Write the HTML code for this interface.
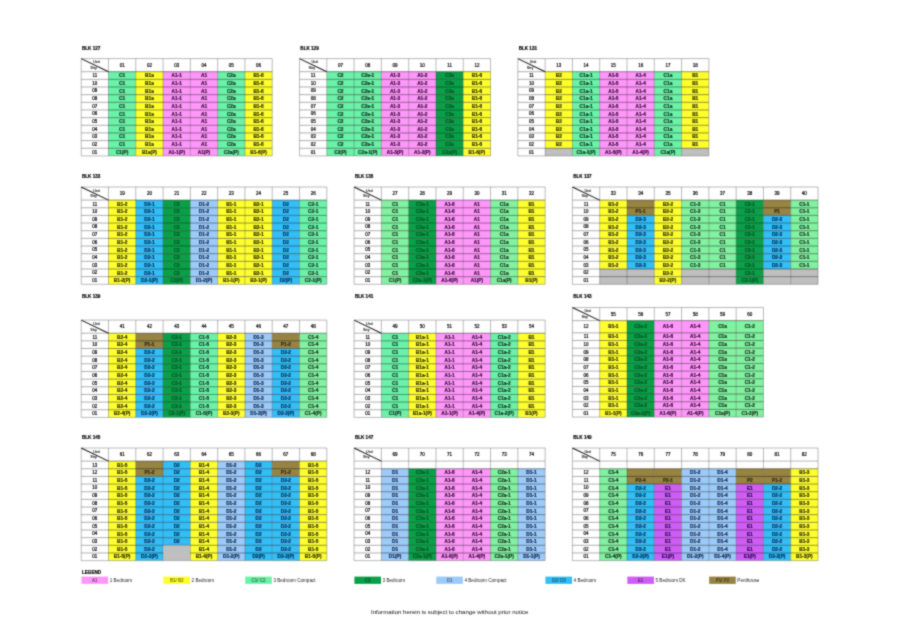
<!DOCTYPE html>
<html lang="en">
<head>
<meta charset="utf-8">
<title>Unit Distribution Chart</title>
<style>
html,body{margin:0;padding:0;background:#fff;}
body{width:900px;height:636px;position:relative;overflow:hidden;font-family:"Liberation Sans",Arial,sans-serif;color:#000;}
#chart{position:absolute;left:0;top:0;width:900px;height:636px;}
#chart text{font-family:"Liberation Sans",Arial,sans-serif;font-size:4.5px;text-anchor:middle;fill:#111;stroke:#000;stroke-width:0.2px;}
#chart text.s{font-size:3.7px;fill:#111;stroke-width:0.1px;}
#chart text.c{font-size:4.75px;font-weight:bold;fill:#000;stroke-width:0.22px;}
#chart text.g{fill:#153021;stroke:#153021;}
#chart text.h{fill:#193020;stroke:#193020;}
#chart text.y{fill:#333309;stroke:#333309;}
#chart text.p{fill:#3a0e3c;stroke:#3a0e3c;}
#chart text.k{fill:#055827;stroke:#055827;}
#chart text.b{fill:#04305e;stroke:#04305e;}
#chart text.l{fill:#12264e;stroke:#12264e;}
#chart text.n{fill:#342e17;stroke:#342e17;}
#chart text.u{fill:#2c0a5a;stroke:#2c0a5a;}
#chart text.t{font-size:4.6px;font-weight:bold;text-anchor:start;fill:#000;stroke:#000;stroke-width:0.18px;}
#chart text.lt{font-size:4.6px;text-anchor:start;fill:#222;stroke:none;}
#chart text.note{font-size:6.1px;fill:#111;stroke:none;}
#chart line{stroke:#111;stroke-width:0.45;}
#chart .v line{stroke:#333;stroke-width:0.32;}
#chart .h line{stroke:#666;stroke-width:0.45;}
#chart line.hl,#chart .v line.hl{stroke:#666;stroke-width:0.45;}
#chart line.ll{stroke:#3a3a3a;stroke-width:0.4;}
#chart line.d{stroke:#1a1a1a;stroke-width:1.05;}
</style>
</head>
<body>
<svg id="chart" width="900" height="636" viewBox="0 0 900 636">
<defs><filter id="soft" x="0" y="0" width="900" height="636" filterUnits="userSpaceOnUse" color-interpolation-filters="sRGB"><feConvolveMatrix order="3" kernelMatrix="0.4 1 0.4 1 4.4 1 0.4 1 0.4" divisor="10" edgeMode="duplicate" preserveAlpha="false"/></filter></defs>
<g filter="url(#soft)">
<g>
<rect x="108.49" y="71.7" width="27.29" height="7.66" fill="#6AF2A8"/>
<rect x="108.49" y="79.36" width="27.29" height="7.66" fill="#6AF2A8"/>
<rect x="108.49" y="87.01" width="27.29" height="7.66" fill="#6AF2A8"/>
<rect x="108.49" y="94.67" width="27.29" height="7.66" fill="#6AF2A8"/>
<rect x="108.49" y="102.32" width="27.29" height="7.66" fill="#6AF2A8"/>
<rect x="108.49" y="109.98" width="27.29" height="7.66" fill="#6AF2A8"/>
<rect x="108.49" y="117.63" width="27.29" height="7.66" fill="#6AF2A8"/>
<rect x="108.49" y="125.29" width="27.29" height="7.65" fill="#6AF2A8"/>
<rect x="108.49" y="132.94" width="27.29" height="7.66" fill="#6AF2A8"/>
<rect x="108.49" y="140.59" width="27.29" height="7.66" fill="#6AF2A8"/>
<rect x="108.49" y="148.25" width="27.29" height="7.66" fill="#6AF2A8"/>
<rect x="135.78" y="71.7" width="27.29" height="7.66" fill="#FFFF2E"/>
<rect x="135.78" y="79.36" width="27.29" height="7.66" fill="#FFFF2E"/>
<rect x="135.78" y="87.01" width="27.29" height="7.66" fill="#FFFF2E"/>
<rect x="135.78" y="94.67" width="27.29" height="7.66" fill="#FFFF2E"/>
<rect x="135.78" y="102.32" width="27.29" height="7.66" fill="#FFFF2E"/>
<rect x="135.78" y="109.98" width="27.29" height="7.66" fill="#FFFF2E"/>
<rect x="135.78" y="117.63" width="27.29" height="7.66" fill="#FFFF2E"/>
<rect x="135.78" y="125.29" width="27.29" height="7.65" fill="#FFFF2E"/>
<rect x="135.78" y="132.94" width="27.29" height="7.66" fill="#FFFF2E"/>
<rect x="135.78" y="140.59" width="27.29" height="7.66" fill="#FFFF2E"/>
<rect x="135.78" y="148.25" width="27.29" height="7.66" fill="#FFFF2E"/>
<rect x="163.07" y="71.7" width="27.29" height="7.66" fill="#FF96FA"/>
<rect x="163.07" y="79.36" width="27.29" height="7.66" fill="#FF96FA"/>
<rect x="163.07" y="87.01" width="27.29" height="7.66" fill="#FF96FA"/>
<rect x="163.07" y="94.67" width="27.29" height="7.66" fill="#FF96FA"/>
<rect x="163.07" y="102.32" width="27.29" height="7.66" fill="#FF96FA"/>
<rect x="163.07" y="109.98" width="27.29" height="7.66" fill="#FF96FA"/>
<rect x="163.07" y="117.63" width="27.29" height="7.66" fill="#FF96FA"/>
<rect x="163.07" y="125.29" width="27.29" height="7.65" fill="#FF96FA"/>
<rect x="163.07" y="132.94" width="27.29" height="7.66" fill="#FF96FA"/>
<rect x="163.07" y="140.59" width="27.29" height="7.66" fill="#FF96FA"/>
<rect x="163.07" y="148.25" width="27.29" height="7.66" fill="#FF96FA"/>
<rect x="190.36" y="71.7" width="27.29" height="7.66" fill="#FF96FA"/>
<rect x="190.36" y="79.36" width="27.29" height="7.66" fill="#FF96FA"/>
<rect x="190.36" y="87.01" width="27.29" height="7.66" fill="#FF96FA"/>
<rect x="190.36" y="94.67" width="27.29" height="7.66" fill="#FF96FA"/>
<rect x="190.36" y="102.32" width="27.29" height="7.66" fill="#FF96FA"/>
<rect x="190.36" y="109.98" width="27.29" height="7.66" fill="#FF96FA"/>
<rect x="190.36" y="117.63" width="27.29" height="7.66" fill="#FF96FA"/>
<rect x="190.36" y="125.29" width="27.29" height="7.65" fill="#FF96FA"/>
<rect x="190.36" y="132.94" width="27.29" height="7.66" fill="#FF96FA"/>
<rect x="190.36" y="140.59" width="27.29" height="7.66" fill="#FF96FA"/>
<rect x="190.36" y="148.25" width="27.29" height="7.66" fill="#FF96FA"/>
<rect x="217.65" y="71.7" width="27.29" height="7.66" fill="#6AF2A8"/>
<rect x="217.65" y="79.36" width="27.29" height="7.66" fill="#6AF2A8"/>
<rect x="217.65" y="87.01" width="27.29" height="7.66" fill="#6AF2A8"/>
<rect x="217.65" y="94.67" width="27.29" height="7.66" fill="#6AF2A8"/>
<rect x="217.65" y="102.32" width="27.29" height="7.66" fill="#6AF2A8"/>
<rect x="217.65" y="109.98" width="27.29" height="7.66" fill="#6AF2A8"/>
<rect x="217.65" y="117.63" width="27.29" height="7.66" fill="#6AF2A8"/>
<rect x="217.65" y="125.29" width="27.29" height="7.65" fill="#6AF2A8"/>
<rect x="217.65" y="132.94" width="27.29" height="7.66" fill="#6AF2A8"/>
<rect x="217.65" y="140.59" width="27.29" height="7.66" fill="#6AF2A8"/>
<rect x="217.65" y="148.25" width="27.29" height="7.66" fill="#6AF2A8"/>
<rect x="244.94" y="71.7" width="27.29" height="7.66" fill="#FFFF2E"/>
<rect x="244.94" y="79.36" width="27.29" height="7.66" fill="#FFFF2E"/>
<rect x="244.94" y="87.01" width="27.29" height="7.66" fill="#FFFF2E"/>
<rect x="244.94" y="94.67" width="27.29" height="7.66" fill="#FFFF2E"/>
<rect x="244.94" y="102.32" width="27.29" height="7.66" fill="#FFFF2E"/>
<rect x="244.94" y="109.98" width="27.29" height="7.66" fill="#FFFF2E"/>
<rect x="244.94" y="117.63" width="27.29" height="7.66" fill="#FFFF2E"/>
<rect x="244.94" y="125.29" width="27.29" height="7.65" fill="#FFFF2E"/>
<rect x="244.94" y="132.94" width="27.29" height="7.66" fill="#FFFF2E"/>
<rect x="244.94" y="140.59" width="27.29" height="7.66" fill="#FFFF2E"/>
<rect x="244.94" y="148.25" width="27.29" height="7.66" fill="#FFFF2E"/>
<line class="ll" x1="81.2" y1="71.7" x2="108.49" y2="71.7"/>
<line x1="108.49" y1="71.7" x2="272.23" y2="71.7"/>
<line class="ll" x1="81.2" y1="79.36" x2="108.49" y2="79.36"/>
<line x1="108.49" y1="79.36" x2="272.23" y2="79.36"/>
<line class="ll" x1="81.2" y1="87.01" x2="108.49" y2="87.01"/>
<line x1="108.49" y1="87.01" x2="272.23" y2="87.01"/>
<line class="ll" x1="81.2" y1="94.67" x2="108.49" y2="94.67"/>
<line x1="108.49" y1="94.67" x2="272.23" y2="94.67"/>
<line class="ll" x1="81.2" y1="102.32" x2="108.49" y2="102.32"/>
<line x1="108.49" y1="102.32" x2="272.23" y2="102.32"/>
<line class="ll" x1="81.2" y1="109.98" x2="108.49" y2="109.98"/>
<line x1="108.49" y1="109.98" x2="272.23" y2="109.98"/>
<line class="ll" x1="81.2" y1="117.63" x2="108.49" y2="117.63"/>
<line x1="108.49" y1="117.63" x2="272.23" y2="117.63"/>
<line class="ll" x1="81.2" y1="125.29" x2="108.49" y2="125.29"/>
<line x1="108.49" y1="125.29" x2="272.23" y2="125.29"/>
<line class="ll" x1="81.2" y1="132.94" x2="108.49" y2="132.94"/>
<line x1="108.49" y1="132.94" x2="272.23" y2="132.94"/>
<line class="ll" x1="81.2" y1="140.59" x2="108.49" y2="140.59"/>
<line x1="108.49" y1="140.59" x2="272.23" y2="140.59"/>
<line class="ll" x1="81.2" y1="148.25" x2="108.49" y2="148.25"/>
<line x1="108.49" y1="148.25" x2="272.23" y2="148.25"/>
<line class="hl" x1="81.2" y1="155.91" x2="272.23" y2="155.91"/>
<g class="v">
<line class="hl" x1="81.2" y1="71.7" x2="81.2" y2="155.91"/>
<line x1="108.49" y1="71.7" x2="108.49" y2="155.91"/>
<line x1="135.78" y1="71.7" x2="135.78" y2="155.91"/>
<line x1="163.07" y1="71.7" x2="163.07" y2="155.91"/>
<line x1="190.36" y1="71.7" x2="190.36" y2="155.91"/>
<line x1="217.65" y1="71.7" x2="217.65" y2="155.91"/>
<line x1="244.94" y1="71.7" x2="244.94" y2="155.91"/>
<line class="hl" x1="272.23" y1="71.7" x2="272.23" y2="155.91"/>
</g>
<g class="h">
<line x1="81.2" y1="58.6" x2="272.23" y2="58.6"/>
<line x1="81.2" y1="58.6" x2="81.2" y2="71.7"/>
<line x1="108.49" y1="58.6" x2="108.49" y2="71.7"/>
<line x1="135.78" y1="58.6" x2="135.78" y2="71.7"/>
<line x1="163.07" y1="58.6" x2="163.07" y2="71.7"/>
<line x1="190.36" y1="58.6" x2="190.36" y2="71.7"/>
<line x1="217.65" y1="58.6" x2="217.65" y2="71.7"/>
<line x1="244.94" y1="58.6" x2="244.94" y2="71.7"/>
<line x1="272.23" y1="58.6" x2="272.23" y2="71.7"/>
</g>
<line class="d" x1="81.2" y1="58.6" x2="108.49" y2="71.7"/>
<text class="s" x="96.48" y="63.4">Unit</text>
<text class="s" x="93.48" y="69">Stry</text>
<text x="122.14" y="66.75">01</text>
<text x="149.43" y="66.75">02</text>
<text x="176.72" y="66.75">03</text>
<text x="204" y="66.75">04</text>
<text x="231.3" y="66.75">05</text>
<text x="258.58" y="66.75">06</text>
<text x="94.84" y="77.13">11</text>
<text x="94.84" y="84.78">10</text>
<text x="94.84" y="92.44">09</text>
<text x="94.84" y="100.09">08</text>
<text x="94.84" y="107.75">07</text>
<text x="94.84" y="115.4">06</text>
<text x="94.84" y="123.06">05</text>
<text x="94.84" y="130.71">04</text>
<text x="94.84" y="138.37">03</text>
<text x="94.84" y="146.02">02</text>
<text x="94.84" y="153.68">01</text>
<text class="c g" x="122.14" y="77.23">C1</text>
<text class="c g" x="122.14" y="84.88">C1</text>
<text class="c g" x="122.14" y="92.54">C1</text>
<text class="c g" x="122.14" y="100.19">C1</text>
<text class="c g" x="122.14" y="107.85">C1</text>
<text class="c g" x="122.14" y="115.5">C1</text>
<text class="c g" x="122.14" y="123.16">C1</text>
<text class="c g" x="122.14" y="130.81">C1</text>
<text class="c g" x="122.14" y="138.47">C1</text>
<text class="c g" x="122.14" y="146.12">C1</text>
<text class="c g" x="122.14" y="153.78">C1(P)</text>
<text class="c y" x="149.43" y="77.23">B1a</text>
<text class="c y" x="149.43" y="84.88">B1a</text>
<text class="c y" x="149.43" y="92.54">B1a</text>
<text class="c y" x="149.43" y="100.19">B1a</text>
<text class="c y" x="149.43" y="107.85">B1a</text>
<text class="c y" x="149.43" y="115.5">B1a</text>
<text class="c y" x="149.43" y="123.16">B1a</text>
<text class="c y" x="149.43" y="130.81">B1a</text>
<text class="c y" x="149.43" y="138.47">B1a</text>
<text class="c y" x="149.43" y="146.12">B1a</text>
<text class="c y" x="149.43" y="153.78">B1a(P)</text>
<text class="c p" x="176.72" y="77.23">A1-1</text>
<text class="c p" x="176.72" y="84.88">A1-1</text>
<text class="c p" x="176.72" y="92.54">A1-1</text>
<text class="c p" x="176.72" y="100.19">A1-1</text>
<text class="c p" x="176.72" y="107.85">A1-1</text>
<text class="c p" x="176.72" y="115.5">A1-1</text>
<text class="c p" x="176.72" y="123.16">A1-1</text>
<text class="c p" x="176.72" y="130.81">A1-1</text>
<text class="c p" x="176.72" y="138.47">A1-1</text>
<text class="c p" x="176.72" y="146.12">A1-1</text>
<text class="c p" x="176.72" y="153.78">A1-1(P)</text>
<text class="c p" x="204" y="77.23">A1</text>
<text class="c p" x="204" y="84.88">A1</text>
<text class="c p" x="204" y="92.54">A1</text>
<text class="c p" x="204" y="100.19">A1</text>
<text class="c p" x="204" y="107.85">A1</text>
<text class="c p" x="204" y="115.5">A1</text>
<text class="c p" x="204" y="123.16">A1</text>
<text class="c p" x="204" y="130.81">A1</text>
<text class="c p" x="204" y="138.47">A1</text>
<text class="c p" x="204" y="146.12">A1</text>
<text class="c p" x="204" y="153.78">A1(P)</text>
<text class="c g" x="231.3" y="77.23">C2a</text>
<text class="c g" x="231.3" y="84.88">C2a</text>
<text class="c g" x="231.3" y="92.54">C2a</text>
<text class="c g" x="231.3" y="100.19">C2a</text>
<text class="c g" x="231.3" y="107.85">C2a</text>
<text class="c g" x="231.3" y="115.5">C2a</text>
<text class="c g" x="231.3" y="123.16">C2a</text>
<text class="c g" x="231.3" y="130.81">C2a</text>
<text class="c g" x="231.3" y="138.47">C2a</text>
<text class="c g" x="231.3" y="146.12">C2a</text>
<text class="c g" x="231.3" y="153.78">C2a(P)</text>
<text class="c y" x="258.58" y="77.23">B1-6</text>
<text class="c y" x="258.58" y="84.88">B1-6</text>
<text class="c y" x="258.58" y="92.54">B1-6</text>
<text class="c y" x="258.58" y="100.19">B1-6</text>
<text class="c y" x="258.58" y="107.85">B1-6</text>
<text class="c y" x="258.58" y="115.5">B1-6</text>
<text class="c y" x="258.58" y="123.16">B1-6</text>
<text class="c y" x="258.58" y="130.81">B1-6</text>
<text class="c y" x="258.58" y="138.47">B1-6</text>
<text class="c y" x="258.58" y="146.12">B1-6</text>
<text class="c y" x="258.58" y="153.78">B1-6(P)</text>
</g>
<text class="t" x="82" y="49.85">BLK 127</text>
<g>
<rect x="326.81" y="71.7" width="27.29" height="7.66" fill="#6AF2A8"/>
<rect x="326.81" y="79.36" width="27.29" height="7.66" fill="#6AF2A8"/>
<rect x="326.81" y="87.01" width="27.29" height="7.66" fill="#6AF2A8"/>
<rect x="326.81" y="94.67" width="27.29" height="7.66" fill="#6AF2A8"/>
<rect x="326.81" y="102.32" width="27.29" height="7.66" fill="#6AF2A8"/>
<rect x="326.81" y="109.98" width="27.29" height="7.66" fill="#6AF2A8"/>
<rect x="326.81" y="117.63" width="27.29" height="7.66" fill="#6AF2A8"/>
<rect x="326.81" y="125.29" width="27.29" height="7.65" fill="#6AF2A8"/>
<rect x="326.81" y="132.94" width="27.29" height="7.66" fill="#6AF2A8"/>
<rect x="326.81" y="140.59" width="27.29" height="7.66" fill="#6AF2A8"/>
<rect x="326.81" y="148.25" width="27.29" height="7.66" fill="#6AF2A8"/>
<rect x="354.1" y="71.7" width="27.29" height="7.66" fill="#6AF2A8"/>
<rect x="354.1" y="79.36" width="27.29" height="7.66" fill="#6AF2A8"/>
<rect x="354.1" y="87.01" width="27.29" height="7.66" fill="#6AF2A8"/>
<rect x="354.1" y="94.67" width="27.29" height="7.66" fill="#6AF2A8"/>
<rect x="354.1" y="102.32" width="27.29" height="7.66" fill="#6AF2A8"/>
<rect x="354.1" y="109.98" width="27.29" height="7.66" fill="#6AF2A8"/>
<rect x="354.1" y="117.63" width="27.29" height="7.66" fill="#6AF2A8"/>
<rect x="354.1" y="125.29" width="27.29" height="7.65" fill="#6AF2A8"/>
<rect x="354.1" y="132.94" width="27.29" height="7.66" fill="#6AF2A8"/>
<rect x="354.1" y="140.59" width="27.29" height="7.66" fill="#6AF2A8"/>
<rect x="354.1" y="148.25" width="27.29" height="7.66" fill="#6AF2A8"/>
<rect x="381.39" y="71.7" width="27.29" height="7.66" fill="#FF96FA"/>
<rect x="381.39" y="79.36" width="27.29" height="7.66" fill="#FF96FA"/>
<rect x="381.39" y="87.01" width="27.29" height="7.66" fill="#FF96FA"/>
<rect x="381.39" y="94.67" width="27.29" height="7.66" fill="#FF96FA"/>
<rect x="381.39" y="102.32" width="27.29" height="7.66" fill="#FF96FA"/>
<rect x="381.39" y="109.98" width="27.29" height="7.66" fill="#FF96FA"/>
<rect x="381.39" y="117.63" width="27.29" height="7.66" fill="#FF96FA"/>
<rect x="381.39" y="125.29" width="27.29" height="7.65" fill="#FF96FA"/>
<rect x="381.39" y="132.94" width="27.29" height="7.66" fill="#FF96FA"/>
<rect x="381.39" y="140.59" width="27.29" height="7.66" fill="#FF96FA"/>
<rect x="381.39" y="148.25" width="27.29" height="7.66" fill="#FF96FA"/>
<rect x="408.68" y="71.7" width="27.29" height="7.66" fill="#FF96FA"/>
<rect x="408.68" y="79.36" width="27.29" height="7.66" fill="#FF96FA"/>
<rect x="408.68" y="87.01" width="27.29" height="7.66" fill="#FF96FA"/>
<rect x="408.68" y="94.67" width="27.29" height="7.66" fill="#FF96FA"/>
<rect x="408.68" y="102.32" width="27.29" height="7.66" fill="#FF96FA"/>
<rect x="408.68" y="109.98" width="27.29" height="7.66" fill="#FF96FA"/>
<rect x="408.68" y="117.63" width="27.29" height="7.66" fill="#FF96FA"/>
<rect x="408.68" y="125.29" width="27.29" height="7.65" fill="#FF96FA"/>
<rect x="408.68" y="132.94" width="27.29" height="7.66" fill="#FF96FA"/>
<rect x="408.68" y="140.59" width="27.29" height="7.66" fill="#FF96FA"/>
<rect x="408.68" y="148.25" width="27.29" height="7.66" fill="#FF96FA"/>
<rect x="435.97" y="71.7" width="27.29" height="7.66" fill="#0AA048"/>
<rect x="435.97" y="79.36" width="27.29" height="7.66" fill="#0AA048"/>
<rect x="435.97" y="87.01" width="27.29" height="7.66" fill="#0AA048"/>
<rect x="435.97" y="94.67" width="27.29" height="7.66" fill="#0AA048"/>
<rect x="435.97" y="102.32" width="27.29" height="7.66" fill="#0AA048"/>
<rect x="435.97" y="109.98" width="27.29" height="7.66" fill="#0AA048"/>
<rect x="435.97" y="117.63" width="27.29" height="7.66" fill="#0AA048"/>
<rect x="435.97" y="125.29" width="27.29" height="7.65" fill="#0AA048"/>
<rect x="435.97" y="132.94" width="27.29" height="7.66" fill="#0AA048"/>
<rect x="435.97" y="140.59" width="27.29" height="7.66" fill="#0AA048"/>
<rect x="435.97" y="148.25" width="27.29" height="7.66" fill="#0AA048"/>
<rect x="463.26" y="71.7" width="27.29" height="7.66" fill="#FFFF2E"/>
<rect x="463.26" y="79.36" width="27.29" height="7.66" fill="#FFFF2E"/>
<rect x="463.26" y="87.01" width="27.29" height="7.66" fill="#FFFF2E"/>
<rect x="463.26" y="94.67" width="27.29" height="7.66" fill="#FFFF2E"/>
<rect x="463.26" y="102.32" width="27.29" height="7.66" fill="#FFFF2E"/>
<rect x="463.26" y="109.98" width="27.29" height="7.66" fill="#FFFF2E"/>
<rect x="463.26" y="117.63" width="27.29" height="7.66" fill="#FFFF2E"/>
<rect x="463.26" y="125.29" width="27.29" height="7.65" fill="#FFFF2E"/>
<rect x="463.26" y="132.94" width="27.29" height="7.66" fill="#FFFF2E"/>
<rect x="463.26" y="140.59" width="27.29" height="7.66" fill="#FFFF2E"/>
<rect x="463.26" y="148.25" width="27.29" height="7.66" fill="#FFFF2E"/>
<line class="ll" x1="299.52" y1="71.7" x2="326.81" y2="71.7"/>
<line x1="326.81" y1="71.7" x2="490.55" y2="71.7"/>
<line class="ll" x1="299.52" y1="79.36" x2="326.81" y2="79.36"/>
<line x1="326.81" y1="79.36" x2="490.55" y2="79.36"/>
<line class="ll" x1="299.52" y1="87.01" x2="326.81" y2="87.01"/>
<line x1="326.81" y1="87.01" x2="490.55" y2="87.01"/>
<line class="ll" x1="299.52" y1="94.67" x2="326.81" y2="94.67"/>
<line x1="326.81" y1="94.67" x2="490.55" y2="94.67"/>
<line class="ll" x1="299.52" y1="102.32" x2="326.81" y2="102.32"/>
<line x1="326.81" y1="102.32" x2="490.55" y2="102.32"/>
<line class="ll" x1="299.52" y1="109.98" x2="326.81" y2="109.98"/>
<line x1="326.81" y1="109.98" x2="490.55" y2="109.98"/>
<line class="ll" x1="299.52" y1="117.63" x2="326.81" y2="117.63"/>
<line x1="326.81" y1="117.63" x2="490.55" y2="117.63"/>
<line class="ll" x1="299.52" y1="125.29" x2="326.81" y2="125.29"/>
<line x1="326.81" y1="125.29" x2="490.55" y2="125.29"/>
<line class="ll" x1="299.52" y1="132.94" x2="326.81" y2="132.94"/>
<line x1="326.81" y1="132.94" x2="490.55" y2="132.94"/>
<line class="ll" x1="299.52" y1="140.59" x2="326.81" y2="140.59"/>
<line x1="326.81" y1="140.59" x2="490.55" y2="140.59"/>
<line class="ll" x1="299.52" y1="148.25" x2="326.81" y2="148.25"/>
<line x1="326.81" y1="148.25" x2="490.55" y2="148.25"/>
<line class="hl" x1="299.52" y1="155.91" x2="490.55" y2="155.91"/>
<g class="v">
<line class="hl" x1="299.52" y1="71.7" x2="299.52" y2="155.91"/>
<line x1="326.81" y1="71.7" x2="326.81" y2="155.91"/>
<line x1="354.1" y1="71.7" x2="354.1" y2="155.91"/>
<line x1="381.39" y1="71.7" x2="381.39" y2="155.91"/>
<line x1="408.68" y1="71.7" x2="408.68" y2="155.91"/>
<line x1="435.97" y1="71.7" x2="435.97" y2="155.91"/>
<line x1="463.26" y1="71.7" x2="463.26" y2="155.91"/>
<line class="hl" x1="490.55" y1="71.7" x2="490.55" y2="155.91"/>
</g>
<g class="h">
<line x1="299.52" y1="58.6" x2="490.55" y2="58.6"/>
<line x1="299.52" y1="58.6" x2="299.52" y2="71.7"/>
<line x1="326.81" y1="58.6" x2="326.81" y2="71.7"/>
<line x1="354.1" y1="58.6" x2="354.1" y2="71.7"/>
<line x1="381.39" y1="58.6" x2="381.39" y2="71.7"/>
<line x1="408.68" y1="58.6" x2="408.68" y2="71.7"/>
<line x1="435.97" y1="58.6" x2="435.97" y2="71.7"/>
<line x1="463.26" y1="58.6" x2="463.26" y2="71.7"/>
<line x1="490.55" y1="58.6" x2="490.55" y2="71.7"/>
</g>
<line class="d" x1="299.52" y1="58.6" x2="326.81" y2="71.7"/>
<text class="s" x="314.8" y="63.4">Unit</text>
<text class="s" x="311.8" y="69">Stry</text>
<text x="340.45" y="66.75">07</text>
<text x="367.75" y="66.75">08</text>
<text x="395.03" y="66.75">09</text>
<text x="422.32" y="66.75">10</text>
<text x="449.62" y="66.75">11</text>
<text x="476.9" y="66.75">12</text>
<text x="313.16" y="77.13">11</text>
<text x="313.16" y="84.78">10</text>
<text x="313.16" y="92.44">09</text>
<text x="313.16" y="100.09">08</text>
<text x="313.16" y="107.75">07</text>
<text x="313.16" y="115.4">06</text>
<text x="313.16" y="123.06">05</text>
<text x="313.16" y="130.71">04</text>
<text x="313.16" y="138.37">03</text>
<text x="313.16" y="146.02">02</text>
<text x="313.16" y="153.68">01</text>
<text class="c g" x="340.45" y="77.23">C2</text>
<text class="c g" x="340.45" y="84.88">C2</text>
<text class="c g" x="340.45" y="92.54">C2</text>
<text class="c g" x="340.45" y="100.19">C2</text>
<text class="c g" x="340.45" y="107.85">C2</text>
<text class="c g" x="340.45" y="115.5">C2</text>
<text class="c g" x="340.45" y="123.16">C2</text>
<text class="c g" x="340.45" y="130.81">C2</text>
<text class="c g" x="340.45" y="138.47">C2</text>
<text class="c g" x="340.45" y="146.12">C2</text>
<text class="c g" x="340.45" y="153.78">C2(P)</text>
<text class="c g" x="367.75" y="77.23">C2a-1</text>
<text class="c g" x="367.75" y="84.88">C2a-1</text>
<text class="c g" x="367.75" y="92.54">C2a-1</text>
<text class="c g" x="367.75" y="100.19">C2a-1</text>
<text class="c g" x="367.75" y="107.85">C2a-1</text>
<text class="c g" x="367.75" y="115.5">C2a-1</text>
<text class="c g" x="367.75" y="123.16">C2a-1</text>
<text class="c g" x="367.75" y="130.81">C2a-1</text>
<text class="c g" x="367.75" y="138.47">C2a-1</text>
<text class="c g" x="367.75" y="146.12">C2a-1</text>
<text class="c g" x="367.75" y="153.78">C2a-1(P)</text>
<text class="c p" x="395.03" y="77.23">A1-3</text>
<text class="c p" x="395.03" y="84.88">A1-3</text>
<text class="c p" x="395.03" y="92.54">A1-3</text>
<text class="c p" x="395.03" y="100.19">A1-3</text>
<text class="c p" x="395.03" y="107.85">A1-3</text>
<text class="c p" x="395.03" y="115.5">A1-3</text>
<text class="c p" x="395.03" y="123.16">A1-3</text>
<text class="c p" x="395.03" y="130.81">A1-3</text>
<text class="c p" x="395.03" y="138.47">A1-3</text>
<text class="c p" x="395.03" y="146.12">A1-3</text>
<text class="c p" x="395.03" y="153.78">A1-3(P)</text>
<text class="c p" x="422.32" y="77.23">A1-2</text>
<text class="c p" x="422.32" y="84.88">A1-2</text>
<text class="c p" x="422.32" y="92.54">A1-2</text>
<text class="c p" x="422.32" y="100.19">A1-2</text>
<text class="c p" x="422.32" y="107.85">A1-2</text>
<text class="c p" x="422.32" y="115.5">A1-2</text>
<text class="c p" x="422.32" y="123.16">A1-2</text>
<text class="c p" x="422.32" y="130.81">A1-2</text>
<text class="c p" x="422.32" y="138.47">A1-2</text>
<text class="c p" x="422.32" y="146.12">A1-2</text>
<text class="c p" x="422.32" y="153.78">A1-2(P)</text>
<text class="c k" x="449.62" y="77.23">C3a</text>
<text class="c k" x="449.62" y="84.88">C3a</text>
<text class="c k" x="449.62" y="92.54">C3a</text>
<text class="c k" x="449.62" y="100.19">C3a</text>
<text class="c k" x="449.62" y="107.85">C3a</text>
<text class="c k" x="449.62" y="115.5">C3a</text>
<text class="c k" x="449.62" y="123.16">C3a</text>
<text class="c k" x="449.62" y="130.81">C3a</text>
<text class="c k" x="449.62" y="138.47">C3a</text>
<text class="c k" x="449.62" y="146.12">C3a</text>
<text class="c k" x="449.62" y="153.78">C3a(P)</text>
<text class="c y" x="476.9" y="77.23">B1-6</text>
<text class="c y" x="476.9" y="84.88">B1-6</text>
<text class="c y" x="476.9" y="92.54">B1-6</text>
<text class="c y" x="476.9" y="100.19">B1-6</text>
<text class="c y" x="476.9" y="107.85">B1-6</text>
<text class="c y" x="476.9" y="115.5">B1-6</text>
<text class="c y" x="476.9" y="123.16">B1-6</text>
<text class="c y" x="476.9" y="130.81">B1-6</text>
<text class="c y" x="476.9" y="138.47">B1-6</text>
<text class="c y" x="476.9" y="146.12">B1-6</text>
<text class="c y" x="476.9" y="153.78">B1-6(P)</text>
</g>
<text class="t" x="300.32" y="49.85">BLK 129</text>
<g>
<rect x="545.13" y="71.7" width="27.29" height="7.66" fill="#FFFF2E"/>
<rect x="545.13" y="79.36" width="27.29" height="7.66" fill="#FFFF2E"/>
<rect x="545.13" y="87.01" width="27.29" height="7.66" fill="#FFFF2E"/>
<rect x="545.13" y="94.67" width="27.29" height="7.66" fill="#FFFF2E"/>
<rect x="545.13" y="102.32" width="27.29" height="7.66" fill="#FFFF2E"/>
<rect x="545.13" y="109.98" width="27.29" height="7.66" fill="#FFFF2E"/>
<rect x="545.13" y="117.63" width="27.29" height="7.66" fill="#FFFF2E"/>
<rect x="545.13" y="125.29" width="27.29" height="7.65" fill="#FFFF2E"/>
<rect x="545.13" y="132.94" width="27.29" height="7.66" fill="#FFFF2E"/>
<rect x="545.13" y="140.59" width="27.29" height="7.66" fill="#FFFF2E"/>
<rect x="545.13" y="148.25" width="27.29" height="7.66" fill="#BFBFBF"/>
<rect x="572.42" y="71.7" width="27.29" height="7.66" fill="#6AF2A8"/>
<rect x="572.42" y="79.36" width="27.29" height="7.66" fill="#6AF2A8"/>
<rect x="572.42" y="87.01" width="27.29" height="7.66" fill="#6AF2A8"/>
<rect x="572.42" y="94.67" width="27.29" height="7.66" fill="#6AF2A8"/>
<rect x="572.42" y="102.32" width="27.29" height="7.66" fill="#6AF2A8"/>
<rect x="572.42" y="109.98" width="27.29" height="7.66" fill="#6AF2A8"/>
<rect x="572.42" y="117.63" width="27.29" height="7.66" fill="#6AF2A8"/>
<rect x="572.42" y="125.29" width="27.29" height="7.65" fill="#6AF2A8"/>
<rect x="572.42" y="132.94" width="27.29" height="7.66" fill="#6AF2A8"/>
<rect x="572.42" y="140.59" width="27.29" height="7.66" fill="#6AF2A8"/>
<rect x="572.42" y="148.25" width="27.29" height="7.66" fill="#6AF2A8"/>
<rect x="599.71" y="71.7" width="27.29" height="7.66" fill="#FF96FA"/>
<rect x="599.71" y="79.36" width="27.29" height="7.66" fill="#FF96FA"/>
<rect x="599.71" y="87.01" width="27.29" height="7.66" fill="#FF96FA"/>
<rect x="599.71" y="94.67" width="27.29" height="7.66" fill="#FF96FA"/>
<rect x="599.71" y="102.32" width="27.29" height="7.66" fill="#FF96FA"/>
<rect x="599.71" y="109.98" width="27.29" height="7.66" fill="#FF96FA"/>
<rect x="599.71" y="117.63" width="27.29" height="7.66" fill="#FF96FA"/>
<rect x="599.71" y="125.29" width="27.29" height="7.65" fill="#FF96FA"/>
<rect x="599.71" y="132.94" width="27.29" height="7.66" fill="#FF96FA"/>
<rect x="599.71" y="140.59" width="27.29" height="7.66" fill="#FF96FA"/>
<rect x="599.71" y="148.25" width="27.29" height="7.66" fill="#FF96FA"/>
<rect x="627" y="71.7" width="27.29" height="7.66" fill="#FF96FA"/>
<rect x="627" y="79.36" width="27.29" height="7.66" fill="#FF96FA"/>
<rect x="627" y="87.01" width="27.29" height="7.66" fill="#FF96FA"/>
<rect x="627" y="94.67" width="27.29" height="7.66" fill="#FF96FA"/>
<rect x="627" y="102.32" width="27.29" height="7.66" fill="#FF96FA"/>
<rect x="627" y="109.98" width="27.29" height="7.66" fill="#FF96FA"/>
<rect x="627" y="117.63" width="27.29" height="7.66" fill="#FF96FA"/>
<rect x="627" y="125.29" width="27.29" height="7.65" fill="#FF96FA"/>
<rect x="627" y="132.94" width="27.29" height="7.66" fill="#FF96FA"/>
<rect x="627" y="140.59" width="27.29" height="7.66" fill="#FF96FA"/>
<rect x="627" y="148.25" width="27.29" height="7.66" fill="#FF96FA"/>
<rect x="654.29" y="71.7" width="27.29" height="7.66" fill="#6AF2A8"/>
<rect x="654.29" y="79.36" width="27.29" height="7.66" fill="#6AF2A8"/>
<rect x="654.29" y="87.01" width="27.29" height="7.66" fill="#6AF2A8"/>
<rect x="654.29" y="94.67" width="27.29" height="7.66" fill="#6AF2A8"/>
<rect x="654.29" y="102.32" width="27.29" height="7.66" fill="#6AF2A8"/>
<rect x="654.29" y="109.98" width="27.29" height="7.66" fill="#6AF2A8"/>
<rect x="654.29" y="117.63" width="27.29" height="7.66" fill="#6AF2A8"/>
<rect x="654.29" y="125.29" width="27.29" height="7.65" fill="#6AF2A8"/>
<rect x="654.29" y="132.94" width="27.29" height="7.66" fill="#6AF2A8"/>
<rect x="654.29" y="140.59" width="27.29" height="7.66" fill="#6AF2A8"/>
<rect x="654.29" y="148.25" width="27.29" height="7.66" fill="#6AF2A8"/>
<rect x="681.58" y="71.7" width="27.29" height="7.66" fill="#FFFF2E"/>
<rect x="681.58" y="79.36" width="27.29" height="7.66" fill="#FFFF2E"/>
<rect x="681.58" y="87.01" width="27.29" height="7.66" fill="#FFFF2E"/>
<rect x="681.58" y="94.67" width="27.29" height="7.66" fill="#FFFF2E"/>
<rect x="681.58" y="102.32" width="27.29" height="7.66" fill="#FFFF2E"/>
<rect x="681.58" y="109.98" width="27.29" height="7.66" fill="#FFFF2E"/>
<rect x="681.58" y="117.63" width="27.29" height="7.66" fill="#FFFF2E"/>
<rect x="681.58" y="125.29" width="27.29" height="7.65" fill="#FFFF2E"/>
<rect x="681.58" y="132.94" width="27.29" height="7.66" fill="#FFFF2E"/>
<rect x="681.58" y="140.59" width="27.29" height="7.66" fill="#FFFF2E"/>
<rect x="681.58" y="148.25" width="27.29" height="7.66" fill="#BFBFBF"/>
<line class="ll" x1="517.84" y1="71.7" x2="545.13" y2="71.7"/>
<line x1="545.13" y1="71.7" x2="708.87" y2="71.7"/>
<line class="ll" x1="517.84" y1="79.36" x2="545.13" y2="79.36"/>
<line x1="545.13" y1="79.36" x2="708.87" y2="79.36"/>
<line class="ll" x1="517.84" y1="87.01" x2="545.13" y2="87.01"/>
<line x1="545.13" y1="87.01" x2="708.87" y2="87.01"/>
<line class="ll" x1="517.84" y1="94.67" x2="545.13" y2="94.67"/>
<line x1="545.13" y1="94.67" x2="708.87" y2="94.67"/>
<line class="ll" x1="517.84" y1="102.32" x2="545.13" y2="102.32"/>
<line x1="545.13" y1="102.32" x2="708.87" y2="102.32"/>
<line class="ll" x1="517.84" y1="109.98" x2="545.13" y2="109.98"/>
<line x1="545.13" y1="109.98" x2="708.87" y2="109.98"/>
<line class="ll" x1="517.84" y1="117.63" x2="545.13" y2="117.63"/>
<line x1="545.13" y1="117.63" x2="708.87" y2="117.63"/>
<line class="ll" x1="517.84" y1="125.29" x2="545.13" y2="125.29"/>
<line x1="545.13" y1="125.29" x2="708.87" y2="125.29"/>
<line class="ll" x1="517.84" y1="132.94" x2="545.13" y2="132.94"/>
<line x1="545.13" y1="132.94" x2="708.87" y2="132.94"/>
<line class="ll" x1="517.84" y1="140.59" x2="545.13" y2="140.59"/>
<line x1="545.13" y1="140.59" x2="708.87" y2="140.59"/>
<line class="ll" x1="517.84" y1="148.25" x2="545.13" y2="148.25"/>
<line x1="545.13" y1="148.25" x2="708.87" y2="148.25"/>
<line class="hl" x1="517.84" y1="155.91" x2="708.87" y2="155.91"/>
<g class="v">
<line class="hl" x1="517.84" y1="71.7" x2="517.84" y2="155.91"/>
<line x1="545.13" y1="71.7" x2="545.13" y2="155.91"/>
<line x1="572.42" y1="71.7" x2="572.42" y2="155.91"/>
<line x1="599.71" y1="71.7" x2="599.71" y2="155.91"/>
<line x1="627" y1="71.7" x2="627" y2="155.91"/>
<line x1="654.29" y1="71.7" x2="654.29" y2="155.91"/>
<line x1="681.58" y1="71.7" x2="681.58" y2="155.91"/>
<line class="hl" x1="708.87" y1="71.7" x2="708.87" y2="155.91"/>
</g>
<g class="h">
<line x1="517.84" y1="58.6" x2="708.87" y2="58.6"/>
<line x1="517.84" y1="58.6" x2="517.84" y2="71.7"/>
<line x1="545.13" y1="58.6" x2="545.13" y2="71.7"/>
<line x1="572.42" y1="58.6" x2="572.42" y2="71.7"/>
<line x1="599.71" y1="58.6" x2="599.71" y2="71.7"/>
<line x1="627" y1="58.6" x2="627" y2="71.7"/>
<line x1="654.29" y1="58.6" x2="654.29" y2="71.7"/>
<line x1="681.58" y1="58.6" x2="681.58" y2="71.7"/>
<line x1="708.87" y1="58.6" x2="708.87" y2="71.7"/>
</g>
<line class="d" x1="517.84" y1="58.6" x2="545.13" y2="71.7"/>
<text class="s" x="533.12" y="63.4">Unit</text>
<text class="s" x="530.12" y="69">Stry</text>
<text x="558.78" y="66.75">13</text>
<text x="586.07" y="66.75">14</text>
<text x="613.36" y="66.75">15</text>
<text x="640.64" y="66.75">16</text>
<text x="667.94" y="66.75">17</text>
<text x="695.23" y="66.75">18</text>
<text x="531.49" y="77.13">11</text>
<text x="531.49" y="84.78">10</text>
<text x="531.49" y="92.44">09</text>
<text x="531.49" y="100.09">08</text>
<text x="531.49" y="107.75">07</text>
<text x="531.49" y="115.4">06</text>
<text x="531.49" y="123.06">05</text>
<text x="531.49" y="130.71">04</text>
<text x="531.49" y="138.37">03</text>
<text x="531.49" y="146.02">02</text>
<text x="531.49" y="153.68">01</text>
<text class="c y" x="558.78" y="77.23">B2</text>
<text class="c y" x="558.78" y="84.88">B2</text>
<text class="c y" x="558.78" y="92.54">B2</text>
<text class="c y" x="558.78" y="100.19">B2</text>
<text class="c y" x="558.78" y="107.85">B2</text>
<text class="c y" x="558.78" y="115.5">B2</text>
<text class="c y" x="558.78" y="123.16">B2</text>
<text class="c y" x="558.78" y="130.81">B2</text>
<text class="c y" x="558.78" y="138.47">B2</text>
<text class="c y" x="558.78" y="146.12">B2</text>
<text class="c g" x="586.07" y="77.23">C1a-1</text>
<text class="c g" x="586.07" y="84.88">C1a-1</text>
<text class="c g" x="586.07" y="92.54">C1a-1</text>
<text class="c g" x="586.07" y="100.19">C1a-1</text>
<text class="c g" x="586.07" y="107.85">C1a-1</text>
<text class="c g" x="586.07" y="115.5">C1a-1</text>
<text class="c g" x="586.07" y="123.16">C1a-1</text>
<text class="c g" x="586.07" y="130.81">C1a-1</text>
<text class="c g" x="586.07" y="138.47">C1a-1</text>
<text class="c g" x="586.07" y="146.12">C1a-1</text>
<text class="c g" x="586.07" y="153.78">C1a-1(P)</text>
<text class="c p" x="613.36" y="77.23">A1-5</text>
<text class="c p" x="613.36" y="84.88">A1-5</text>
<text class="c p" x="613.36" y="92.54">A1-5</text>
<text class="c p" x="613.36" y="100.19">A1-5</text>
<text class="c p" x="613.36" y="107.85">A1-5</text>
<text class="c p" x="613.36" y="115.5">A1-5</text>
<text class="c p" x="613.36" y="123.16">A1-5</text>
<text class="c p" x="613.36" y="130.81">A1-5</text>
<text class="c p" x="613.36" y="138.47">A1-5</text>
<text class="c p" x="613.36" y="146.12">A1-5</text>
<text class="c p" x="613.36" y="153.78">A1-5(P)</text>
<text class="c p" x="640.64" y="77.23">A1-4</text>
<text class="c p" x="640.64" y="84.88">A1-4</text>
<text class="c p" x="640.64" y="92.54">A1-4</text>
<text class="c p" x="640.64" y="100.19">A1-4</text>
<text class="c p" x="640.64" y="107.85">A1-4</text>
<text class="c p" x="640.64" y="115.5">A1-4</text>
<text class="c p" x="640.64" y="123.16">A1-4</text>
<text class="c p" x="640.64" y="130.81">A1-4</text>
<text class="c p" x="640.64" y="138.47">A1-4</text>
<text class="c p" x="640.64" y="146.12">A1-4</text>
<text class="c p" x="640.64" y="153.78">A1-4(P)</text>
<text class="c g" x="667.94" y="77.23">C1a</text>
<text class="c g" x="667.94" y="84.88">C1a</text>
<text class="c g" x="667.94" y="92.54">C1a</text>
<text class="c g" x="667.94" y="100.19">C1a</text>
<text class="c g" x="667.94" y="107.85">C1a</text>
<text class="c g" x="667.94" y="115.5">C1a</text>
<text class="c g" x="667.94" y="123.16">C1a</text>
<text class="c g" x="667.94" y="130.81">C1a</text>
<text class="c g" x="667.94" y="138.47">C1a</text>
<text class="c g" x="667.94" y="146.12">C1a</text>
<text class="c g" x="667.94" y="153.78">C1a(P)</text>
<text class="c y" x="695.23" y="77.23">B1</text>
<text class="c y" x="695.23" y="84.88">B1</text>
<text class="c y" x="695.23" y="92.54">B1</text>
<text class="c y" x="695.23" y="100.19">B1</text>
<text class="c y" x="695.23" y="107.85">B1</text>
<text class="c y" x="695.23" y="115.5">B1</text>
<text class="c y" x="695.23" y="123.16">B1</text>
<text class="c y" x="695.23" y="130.81">B1</text>
<text class="c y" x="695.23" y="138.47">B1</text>
<text class="c y" x="695.23" y="146.12">B1</text>
</g>
<text class="t" x="518.64" y="49.85">BLK 131</text>
<g>
<rect x="108.49" y="200.1" width="27.29" height="7.66" fill="#FFFF2E"/>
<rect x="108.49" y="207.75" width="27.29" height="7.66" fill="#FFFF2E"/>
<rect x="108.49" y="215.41" width="27.29" height="7.66" fill="#FFFF2E"/>
<rect x="108.49" y="223.06" width="27.29" height="7.66" fill="#FFFF2E"/>
<rect x="108.49" y="230.72" width="27.29" height="7.66" fill="#FFFF2E"/>
<rect x="108.49" y="238.38" width="27.29" height="7.66" fill="#FFFF2E"/>
<rect x="108.49" y="246.03" width="27.29" height="7.66" fill="#FFFF2E"/>
<rect x="108.49" y="253.69" width="27.29" height="7.65" fill="#FFFF2E"/>
<rect x="108.49" y="261.34" width="27.29" height="7.65" fill="#FFFF2E"/>
<rect x="108.49" y="268.99" width="27.29" height="7.65" fill="#FFFF2E"/>
<rect x="108.49" y="276.65" width="27.29" height="7.65" fill="#FFFF2E"/>
<rect x="135.78" y="200.1" width="27.29" height="7.66" fill="#32BEF7"/>
<rect x="135.78" y="207.75" width="27.29" height="7.66" fill="#32BEF7"/>
<rect x="135.78" y="215.41" width="27.29" height="7.66" fill="#32BEF7"/>
<rect x="135.78" y="223.06" width="27.29" height="7.66" fill="#32BEF7"/>
<rect x="135.78" y="230.72" width="27.29" height="7.66" fill="#32BEF7"/>
<rect x="135.78" y="238.38" width="27.29" height="7.66" fill="#32BEF7"/>
<rect x="135.78" y="246.03" width="27.29" height="7.66" fill="#32BEF7"/>
<rect x="135.78" y="253.69" width="27.29" height="7.65" fill="#32BEF7"/>
<rect x="135.78" y="261.34" width="27.29" height="7.65" fill="#32BEF7"/>
<rect x="135.78" y="268.99" width="27.29" height="7.65" fill="#32BEF7"/>
<rect x="135.78" y="276.65" width="27.29" height="7.65" fill="#32BEF7"/>
<rect x="163.07" y="200.1" width="27.29" height="7.66" fill="#0AA048"/>
<rect x="163.07" y="207.75" width="27.29" height="7.66" fill="#0AA048"/>
<rect x="163.07" y="215.41" width="27.29" height="7.66" fill="#0AA048"/>
<rect x="163.07" y="223.06" width="27.29" height="7.66" fill="#0AA048"/>
<rect x="163.07" y="230.72" width="27.29" height="7.66" fill="#0AA048"/>
<rect x="163.07" y="238.38" width="27.29" height="7.66" fill="#0AA048"/>
<rect x="163.07" y="246.03" width="27.29" height="7.66" fill="#0AA048"/>
<rect x="163.07" y="253.69" width="27.29" height="7.65" fill="#0AA048"/>
<rect x="163.07" y="261.34" width="27.29" height="7.65" fill="#0AA048"/>
<rect x="163.07" y="268.99" width="27.29" height="7.65" fill="#0AA048"/>
<rect x="163.07" y="276.65" width="27.29" height="7.65" fill="#0AA048"/>
<rect x="190.36" y="200.1" width="27.29" height="7.66" fill="#9CCBFA"/>
<rect x="190.36" y="207.75" width="27.29" height="7.66" fill="#9CCBFA"/>
<rect x="190.36" y="215.41" width="27.29" height="7.66" fill="#9CCBFA"/>
<rect x="190.36" y="223.06" width="27.29" height="7.66" fill="#9CCBFA"/>
<rect x="190.36" y="230.72" width="27.29" height="7.66" fill="#9CCBFA"/>
<rect x="190.36" y="238.38" width="27.29" height="7.66" fill="#9CCBFA"/>
<rect x="190.36" y="246.03" width="27.29" height="7.66" fill="#9CCBFA"/>
<rect x="190.36" y="253.69" width="27.29" height="7.65" fill="#9CCBFA"/>
<rect x="190.36" y="261.34" width="27.29" height="7.65" fill="#9CCBFA"/>
<rect x="190.36" y="268.99" width="27.29" height="7.65" fill="#9CCBFA"/>
<rect x="190.36" y="276.65" width="27.29" height="7.65" fill="#9CCBFA"/>
<rect x="217.65" y="200.1" width="27.29" height="7.66" fill="#FFFF2E"/>
<rect x="217.65" y="207.75" width="27.29" height="7.66" fill="#FFFF2E"/>
<rect x="217.65" y="215.41" width="27.29" height="7.66" fill="#FFFF2E"/>
<rect x="217.65" y="223.06" width="27.29" height="7.66" fill="#FFFF2E"/>
<rect x="217.65" y="230.72" width="27.29" height="7.66" fill="#FFFF2E"/>
<rect x="217.65" y="238.38" width="27.29" height="7.66" fill="#FFFF2E"/>
<rect x="217.65" y="246.03" width="27.29" height="7.66" fill="#FFFF2E"/>
<rect x="217.65" y="253.69" width="27.29" height="7.65" fill="#FFFF2E"/>
<rect x="217.65" y="261.34" width="27.29" height="7.65" fill="#FFFF2E"/>
<rect x="217.65" y="268.99" width="27.29" height="7.65" fill="#FFFF2E"/>
<rect x="217.65" y="276.65" width="27.29" height="7.65" fill="#FFFF2E"/>
<rect x="244.94" y="200.1" width="27.29" height="7.66" fill="#FFFF2E"/>
<rect x="244.94" y="207.75" width="27.29" height="7.66" fill="#FFFF2E"/>
<rect x="244.94" y="215.41" width="27.29" height="7.66" fill="#FFFF2E"/>
<rect x="244.94" y="223.06" width="27.29" height="7.66" fill="#FFFF2E"/>
<rect x="244.94" y="230.72" width="27.29" height="7.66" fill="#FFFF2E"/>
<rect x="244.94" y="238.38" width="27.29" height="7.66" fill="#FFFF2E"/>
<rect x="244.94" y="246.03" width="27.29" height="7.66" fill="#FFFF2E"/>
<rect x="244.94" y="253.69" width="27.29" height="7.65" fill="#FFFF2E"/>
<rect x="244.94" y="261.34" width="27.29" height="7.65" fill="#FFFF2E"/>
<rect x="244.94" y="268.99" width="27.29" height="7.65" fill="#FFFF2E"/>
<rect x="244.94" y="276.65" width="27.29" height="7.65" fill="#FFFF2E"/>
<rect x="272.23" y="200.1" width="27.29" height="7.66" fill="#32BEF7"/>
<rect x="272.23" y="207.75" width="27.29" height="7.66" fill="#32BEF7"/>
<rect x="272.23" y="215.41" width="27.29" height="7.66" fill="#32BEF7"/>
<rect x="272.23" y="223.06" width="27.29" height="7.66" fill="#32BEF7"/>
<rect x="272.23" y="230.72" width="27.29" height="7.66" fill="#32BEF7"/>
<rect x="272.23" y="238.38" width="27.29" height="7.66" fill="#32BEF7"/>
<rect x="272.23" y="246.03" width="27.29" height="7.66" fill="#32BEF7"/>
<rect x="272.23" y="253.69" width="27.29" height="7.65" fill="#32BEF7"/>
<rect x="272.23" y="261.34" width="27.29" height="7.65" fill="#32BEF7"/>
<rect x="272.23" y="268.99" width="27.29" height="7.65" fill="#32BEF7"/>
<rect x="272.23" y="276.65" width="27.29" height="7.65" fill="#32BEF7"/>
<rect x="299.52" y="200.1" width="27.29" height="7.66" fill="#6AF2A8"/>
<rect x="299.52" y="207.75" width="27.29" height="7.66" fill="#6AF2A8"/>
<rect x="299.52" y="215.41" width="27.29" height="7.66" fill="#6AF2A8"/>
<rect x="299.52" y="223.06" width="27.29" height="7.66" fill="#6AF2A8"/>
<rect x="299.52" y="230.72" width="27.29" height="7.66" fill="#6AF2A8"/>
<rect x="299.52" y="238.38" width="27.29" height="7.66" fill="#6AF2A8"/>
<rect x="299.52" y="246.03" width="27.29" height="7.66" fill="#6AF2A8"/>
<rect x="299.52" y="253.69" width="27.29" height="7.65" fill="#6AF2A8"/>
<rect x="299.52" y="261.34" width="27.29" height="7.65" fill="#6AF2A8"/>
<rect x="299.52" y="268.99" width="27.29" height="7.65" fill="#6AF2A8"/>
<rect x="299.52" y="276.65" width="27.29" height="7.65" fill="#6AF2A8"/>
<line class="ll" x1="81.2" y1="200.1" x2="108.49" y2="200.1"/>
<line x1="108.49" y1="200.1" x2="326.81" y2="200.1"/>
<line class="ll" x1="81.2" y1="207.75" x2="108.49" y2="207.75"/>
<line x1="108.49" y1="207.75" x2="326.81" y2="207.75"/>
<line class="ll" x1="81.2" y1="215.41" x2="108.49" y2="215.41"/>
<line x1="108.49" y1="215.41" x2="326.81" y2="215.41"/>
<line class="ll" x1="81.2" y1="223.06" x2="108.49" y2="223.06"/>
<line x1="108.49" y1="223.06" x2="326.81" y2="223.06"/>
<line class="ll" x1="81.2" y1="230.72" x2="108.49" y2="230.72"/>
<line x1="108.49" y1="230.72" x2="326.81" y2="230.72"/>
<line class="ll" x1="81.2" y1="238.38" x2="108.49" y2="238.38"/>
<line x1="108.49" y1="238.38" x2="326.81" y2="238.38"/>
<line class="ll" x1="81.2" y1="246.03" x2="108.49" y2="246.03"/>
<line x1="108.49" y1="246.03" x2="326.81" y2="246.03"/>
<line class="ll" x1="81.2" y1="253.69" x2="108.49" y2="253.69"/>
<line x1="108.49" y1="253.69" x2="326.81" y2="253.69"/>
<line class="ll" x1="81.2" y1="261.34" x2="108.49" y2="261.34"/>
<line x1="108.49" y1="261.34" x2="326.81" y2="261.34"/>
<line class="ll" x1="81.2" y1="268.99" x2="108.49" y2="268.99"/>
<line x1="108.49" y1="268.99" x2="326.81" y2="268.99"/>
<line class="ll" x1="81.2" y1="276.65" x2="108.49" y2="276.65"/>
<line x1="108.49" y1="276.65" x2="326.81" y2="276.65"/>
<line class="hl" x1="81.2" y1="284.3" x2="326.81" y2="284.3"/>
<g class="v">
<line class="hl" x1="81.2" y1="200.1" x2="81.2" y2="284.3"/>
<line x1="108.49" y1="200.1" x2="108.49" y2="284.3"/>
<line x1="135.78" y1="200.1" x2="135.78" y2="284.3"/>
<line x1="163.07" y1="200.1" x2="163.07" y2="284.3"/>
<line x1="190.36" y1="200.1" x2="190.36" y2="284.3"/>
<line x1="217.65" y1="200.1" x2="217.65" y2="284.3"/>
<line x1="244.94" y1="200.1" x2="244.94" y2="284.3"/>
<line x1="272.23" y1="200.1" x2="272.23" y2="284.3"/>
<line x1="299.52" y1="200.1" x2="299.52" y2="284.3"/>
<line class="hl" x1="326.81" y1="200.1" x2="326.81" y2="284.3"/>
</g>
<g class="h">
<line x1="81.2" y1="187" x2="326.81" y2="187"/>
<line x1="81.2" y1="187" x2="81.2" y2="200.1"/>
<line x1="108.49" y1="187" x2="108.49" y2="200.1"/>
<line x1="135.78" y1="187" x2="135.78" y2="200.1"/>
<line x1="163.07" y1="187" x2="163.07" y2="200.1"/>
<line x1="190.36" y1="187" x2="190.36" y2="200.1"/>
<line x1="217.65" y1="187" x2="217.65" y2="200.1"/>
<line x1="244.94" y1="187" x2="244.94" y2="200.1"/>
<line x1="272.23" y1="187" x2="272.23" y2="200.1"/>
<line x1="299.52" y1="187" x2="299.52" y2="200.1"/>
<line x1="326.81" y1="187" x2="326.81" y2="200.1"/>
</g>
<line class="d" x1="81.2" y1="187" x2="108.49" y2="200.1"/>
<text class="s" x="96.48" y="191.8">Unit</text>
<text class="s" x="93.48" y="197.4">Stry</text>
<text x="122.14" y="195.15">19</text>
<text x="149.43" y="195.15">20</text>
<text x="176.72" y="195.15">21</text>
<text x="204" y="195.15">22</text>
<text x="231.3" y="195.15">23</text>
<text x="258.58" y="195.15">24</text>
<text x="285.88" y="195.15">25</text>
<text x="313.17" y="195.15">26</text>
<text x="94.84" y="205.53">11</text>
<text x="94.84" y="213.18">10</text>
<text x="94.84" y="220.84">09</text>
<text x="94.84" y="228.49">08</text>
<text x="94.84" y="236.15">07</text>
<text x="94.84" y="243.8">06</text>
<text x="94.84" y="251.46">05</text>
<text x="94.84" y="259.11">04</text>
<text x="94.84" y="266.77">03</text>
<text x="94.84" y="274.42">02</text>
<text x="94.84" y="282.08">01</text>
<text class="c y" x="122.14" y="205.63">B1-2</text>
<text class="c y" x="122.14" y="213.28">B1-2</text>
<text class="c y" x="122.14" y="220.94">B1-2</text>
<text class="c y" x="122.14" y="228.59">B1-2</text>
<text class="c y" x="122.14" y="236.25">B1-2</text>
<text class="c y" x="122.14" y="243.9">B1-2</text>
<text class="c y" x="122.14" y="251.56">B1-2</text>
<text class="c y" x="122.14" y="259.21">B1-2</text>
<text class="c y" x="122.14" y="266.87">B1-2</text>
<text class="c y" x="122.14" y="274.52">B1-2</text>
<text class="c y" x="122.14" y="282.18">B1-2(P)</text>
<text class="c b" x="149.43" y="205.63">D2-1</text>
<text class="c b" x="149.43" y="213.28">D2-1</text>
<text class="c b" x="149.43" y="220.94">D2-1</text>
<text class="c b" x="149.43" y="228.59">D2-1</text>
<text class="c b" x="149.43" y="236.25">D2-1</text>
<text class="c b" x="149.43" y="243.9">D2-1</text>
<text class="c b" x="149.43" y="251.56">D2-1</text>
<text class="c b" x="149.43" y="259.21">D2-1</text>
<text class="c b" x="149.43" y="266.87">D2-1</text>
<text class="c b" x="149.43" y="274.52">D2-1</text>
<text class="c b" x="149.43" y="282.18">D2-1(P)</text>
<text class="c k" x="176.72" y="205.63">C3</text>
<text class="c k" x="176.72" y="213.28">C3</text>
<text class="c k" x="176.72" y="220.94">C3</text>
<text class="c k" x="176.72" y="228.59">C3</text>
<text class="c k" x="176.72" y="236.25">C3</text>
<text class="c k" x="176.72" y="243.9">C3</text>
<text class="c k" x="176.72" y="251.56">C3</text>
<text class="c k" x="176.72" y="259.21">C3</text>
<text class="c k" x="176.72" y="266.87">C3</text>
<text class="c k" x="176.72" y="274.52">C3</text>
<text class="c k" x="176.72" y="282.18">C3(P)</text>
<text class="c l" x="204" y="205.63">D1-2</text>
<text class="c l" x="204" y="213.28">D1-2</text>
<text class="c l" x="204" y="220.94">D1-2</text>
<text class="c l" x="204" y="228.59">D1-2</text>
<text class="c l" x="204" y="236.25">D1-2</text>
<text class="c l" x="204" y="243.9">D1-2</text>
<text class="c l" x="204" y="251.56">D1-2</text>
<text class="c l" x="204" y="259.21">D1-2</text>
<text class="c l" x="204" y="266.87">D1-2</text>
<text class="c l" x="204" y="274.52">D1-2</text>
<text class="c l" x="204" y="282.18">D1-2(P)</text>
<text class="c y" x="231.3" y="205.63">B1-1</text>
<text class="c y" x="231.3" y="213.28">B1-1</text>
<text class="c y" x="231.3" y="220.94">B1-1</text>
<text class="c y" x="231.3" y="228.59">B1-1</text>
<text class="c y" x="231.3" y="236.25">B1-1</text>
<text class="c y" x="231.3" y="243.9">B1-1</text>
<text class="c y" x="231.3" y="251.56">B1-1</text>
<text class="c y" x="231.3" y="259.21">B1-1</text>
<text class="c y" x="231.3" y="266.87">B1-1</text>
<text class="c y" x="231.3" y="274.52">B1-1</text>
<text class="c y" x="231.3" y="282.18">B1-1(P)</text>
<text class="c y" x="258.58" y="205.63">B2-1</text>
<text class="c y" x="258.58" y="213.28">B2-1</text>
<text class="c y" x="258.58" y="220.94">B2-1</text>
<text class="c y" x="258.58" y="228.59">B2-1</text>
<text class="c y" x="258.58" y="236.25">B2-1</text>
<text class="c y" x="258.58" y="243.9">B2-1</text>
<text class="c y" x="258.58" y="251.56">B2-1</text>
<text class="c y" x="258.58" y="259.21">B2-1</text>
<text class="c y" x="258.58" y="266.87">B2-1</text>
<text class="c y" x="258.58" y="274.52">B2-1</text>
<text class="c y" x="258.58" y="282.18">B2-1(P)</text>
<text class="c b" x="285.88" y="205.63">D2</text>
<text class="c b" x="285.88" y="213.28">D2</text>
<text class="c b" x="285.88" y="220.94">D2</text>
<text class="c b" x="285.88" y="228.59">D2</text>
<text class="c b" x="285.88" y="236.25">D2</text>
<text class="c b" x="285.88" y="243.9">D2</text>
<text class="c b" x="285.88" y="251.56">D2</text>
<text class="c b" x="285.88" y="259.21">D2</text>
<text class="c b" x="285.88" y="266.87">D2</text>
<text class="c b" x="285.88" y="274.52">D2</text>
<text class="c b" x="285.88" y="282.18">D2(P)</text>
<text class="c g" x="313.17" y="205.63">C2-1</text>
<text class="c g" x="313.17" y="213.28">C2-1</text>
<text class="c g" x="313.17" y="220.94">C2-1</text>
<text class="c g" x="313.17" y="228.59">C2-1</text>
<text class="c g" x="313.17" y="236.25">C2-1</text>
<text class="c g" x="313.17" y="243.9">C2-1</text>
<text class="c g" x="313.17" y="251.56">C2-1</text>
<text class="c g" x="313.17" y="259.21">C2-1</text>
<text class="c g" x="313.17" y="266.87">C2-1</text>
<text class="c g" x="313.17" y="274.52">C2-1</text>
<text class="c g" x="313.17" y="282.18">C2-1(P)</text>
</g>
<text class="t" x="82" y="178.25">BLK 133</text>
<g>
<rect x="381.39" y="200.1" width="27.29" height="7.66" fill="#80F2A0"/>
<rect x="381.39" y="207.75" width="27.29" height="7.66" fill="#80F2A0"/>
<rect x="381.39" y="215.41" width="27.29" height="7.66" fill="#80F2A0"/>
<rect x="381.39" y="223.06" width="27.29" height="7.66" fill="#80F2A0"/>
<rect x="381.39" y="230.72" width="27.29" height="7.66" fill="#80F2A0"/>
<rect x="381.39" y="238.38" width="27.29" height="7.66" fill="#80F2A0"/>
<rect x="381.39" y="246.03" width="27.29" height="7.66" fill="#80F2A0"/>
<rect x="381.39" y="253.69" width="27.29" height="7.65" fill="#80F2A0"/>
<rect x="381.39" y="261.34" width="27.29" height="7.65" fill="#80F2A0"/>
<rect x="381.39" y="268.99" width="27.29" height="7.65" fill="#80F2A0"/>
<rect x="381.39" y="276.65" width="27.29" height="7.65" fill="#80F2A0"/>
<rect x="408.68" y="200.1" width="27.29" height="7.66" fill="#0AA048"/>
<rect x="408.68" y="207.75" width="27.29" height="7.66" fill="#0AA048"/>
<rect x="408.68" y="215.41" width="27.29" height="7.66" fill="#0AA048"/>
<rect x="408.68" y="223.06" width="27.29" height="7.66" fill="#0AA048"/>
<rect x="408.68" y="230.72" width="27.29" height="7.66" fill="#0AA048"/>
<rect x="408.68" y="238.38" width="27.29" height="7.66" fill="#0AA048"/>
<rect x="408.68" y="246.03" width="27.29" height="7.66" fill="#0AA048"/>
<rect x="408.68" y="253.69" width="27.29" height="7.65" fill="#0AA048"/>
<rect x="408.68" y="261.34" width="27.29" height="7.65" fill="#0AA048"/>
<rect x="408.68" y="268.99" width="27.29" height="7.65" fill="#0AA048"/>
<rect x="408.68" y="276.65" width="27.29" height="7.65" fill="#0AA048"/>
<rect x="435.97" y="200.1" width="27.29" height="7.66" fill="#FF96FA"/>
<rect x="435.97" y="207.75" width="27.29" height="7.66" fill="#FF96FA"/>
<rect x="435.97" y="215.41" width="27.29" height="7.66" fill="#FF96FA"/>
<rect x="435.97" y="223.06" width="27.29" height="7.66" fill="#FF96FA"/>
<rect x="435.97" y="230.72" width="27.29" height="7.66" fill="#FF96FA"/>
<rect x="435.97" y="238.38" width="27.29" height="7.66" fill="#FF96FA"/>
<rect x="435.97" y="246.03" width="27.29" height="7.66" fill="#FF96FA"/>
<rect x="435.97" y="253.69" width="27.29" height="7.65" fill="#FF96FA"/>
<rect x="435.97" y="261.34" width="27.29" height="7.65" fill="#FF96FA"/>
<rect x="435.97" y="268.99" width="27.29" height="7.65" fill="#FF96FA"/>
<rect x="435.97" y="276.65" width="27.29" height="7.65" fill="#FF96FA"/>
<rect x="463.26" y="200.1" width="27.29" height="7.66" fill="#FF96FA"/>
<rect x="463.26" y="207.75" width="27.29" height="7.66" fill="#FF96FA"/>
<rect x="463.26" y="215.41" width="27.29" height="7.66" fill="#FF96FA"/>
<rect x="463.26" y="223.06" width="27.29" height="7.66" fill="#FF96FA"/>
<rect x="463.26" y="230.72" width="27.29" height="7.66" fill="#FF96FA"/>
<rect x="463.26" y="238.38" width="27.29" height="7.66" fill="#FF96FA"/>
<rect x="463.26" y="246.03" width="27.29" height="7.66" fill="#FF96FA"/>
<rect x="463.26" y="253.69" width="27.29" height="7.65" fill="#FF96FA"/>
<rect x="463.26" y="261.34" width="27.29" height="7.65" fill="#FF96FA"/>
<rect x="463.26" y="268.99" width="27.29" height="7.65" fill="#FF96FA"/>
<rect x="463.26" y="276.65" width="27.29" height="7.65" fill="#FF96FA"/>
<rect x="490.55" y="200.1" width="27.29" height="7.66" fill="#80F2A0"/>
<rect x="490.55" y="207.75" width="27.29" height="7.66" fill="#80F2A0"/>
<rect x="490.55" y="215.41" width="27.29" height="7.66" fill="#80F2A0"/>
<rect x="490.55" y="223.06" width="27.29" height="7.66" fill="#80F2A0"/>
<rect x="490.55" y="230.72" width="27.29" height="7.66" fill="#80F2A0"/>
<rect x="490.55" y="238.38" width="27.29" height="7.66" fill="#80F2A0"/>
<rect x="490.55" y="246.03" width="27.29" height="7.66" fill="#80F2A0"/>
<rect x="490.55" y="253.69" width="27.29" height="7.65" fill="#80F2A0"/>
<rect x="490.55" y="261.34" width="27.29" height="7.65" fill="#80F2A0"/>
<rect x="490.55" y="268.99" width="27.29" height="7.65" fill="#80F2A0"/>
<rect x="490.55" y="276.65" width="27.29" height="7.65" fill="#80F2A0"/>
<rect x="517.84" y="200.1" width="27.29" height="7.66" fill="#FFFF2E"/>
<rect x="517.84" y="207.75" width="27.29" height="7.66" fill="#FFFF2E"/>
<rect x="517.84" y="215.41" width="27.29" height="7.66" fill="#FFFF2E"/>
<rect x="517.84" y="223.06" width="27.29" height="7.66" fill="#FFFF2E"/>
<rect x="517.84" y="230.72" width="27.29" height="7.66" fill="#FFFF2E"/>
<rect x="517.84" y="238.38" width="27.29" height="7.66" fill="#FFFF2E"/>
<rect x="517.84" y="246.03" width="27.29" height="7.66" fill="#FFFF2E"/>
<rect x="517.84" y="253.69" width="27.29" height="7.65" fill="#FFFF2E"/>
<rect x="517.84" y="261.34" width="27.29" height="7.65" fill="#FFFF2E"/>
<rect x="517.84" y="268.99" width="27.29" height="7.65" fill="#FFFF2E"/>
<rect x="517.84" y="276.65" width="27.29" height="7.65" fill="#FFFF2E"/>
<line class="ll" x1="354.1" y1="200.1" x2="381.39" y2="200.1"/>
<line x1="381.39" y1="200.1" x2="545.13" y2="200.1"/>
<line class="ll" x1="354.1" y1="207.75" x2="381.39" y2="207.75"/>
<line x1="381.39" y1="207.75" x2="545.13" y2="207.75"/>
<line class="ll" x1="354.1" y1="215.41" x2="381.39" y2="215.41"/>
<line x1="381.39" y1="215.41" x2="545.13" y2="215.41"/>
<line class="ll" x1="354.1" y1="223.06" x2="381.39" y2="223.06"/>
<line x1="381.39" y1="223.06" x2="545.13" y2="223.06"/>
<line class="ll" x1="354.1" y1="230.72" x2="381.39" y2="230.72"/>
<line x1="381.39" y1="230.72" x2="545.13" y2="230.72"/>
<line class="ll" x1="354.1" y1="238.38" x2="381.39" y2="238.38"/>
<line x1="381.39" y1="238.38" x2="545.13" y2="238.38"/>
<line class="ll" x1="354.1" y1="246.03" x2="381.39" y2="246.03"/>
<line x1="381.39" y1="246.03" x2="545.13" y2="246.03"/>
<line class="ll" x1="354.1" y1="253.69" x2="381.39" y2="253.69"/>
<line x1="381.39" y1="253.69" x2="545.13" y2="253.69"/>
<line class="ll" x1="354.1" y1="261.34" x2="381.39" y2="261.34"/>
<line x1="381.39" y1="261.34" x2="545.13" y2="261.34"/>
<line class="ll" x1="354.1" y1="268.99" x2="381.39" y2="268.99"/>
<line x1="381.39" y1="268.99" x2="545.13" y2="268.99"/>
<line class="ll" x1="354.1" y1="276.65" x2="381.39" y2="276.65"/>
<line x1="381.39" y1="276.65" x2="545.13" y2="276.65"/>
<line class="hl" x1="354.1" y1="284.3" x2="545.13" y2="284.3"/>
<g class="v">
<line class="hl" x1="354.1" y1="200.1" x2="354.1" y2="284.3"/>
<line x1="381.39" y1="200.1" x2="381.39" y2="284.3"/>
<line x1="408.68" y1="200.1" x2="408.68" y2="284.3"/>
<line x1="435.97" y1="200.1" x2="435.97" y2="284.3"/>
<line x1="463.26" y1="200.1" x2="463.26" y2="284.3"/>
<line x1="490.55" y1="200.1" x2="490.55" y2="284.3"/>
<line x1="517.84" y1="200.1" x2="517.84" y2="284.3"/>
<line class="hl" x1="545.13" y1="200.1" x2="545.13" y2="284.3"/>
</g>
<g class="h">
<line x1="354.1" y1="187" x2="545.13" y2="187"/>
<line x1="354.1" y1="187" x2="354.1" y2="200.1"/>
<line x1="381.39" y1="187" x2="381.39" y2="200.1"/>
<line x1="408.68" y1="187" x2="408.68" y2="200.1"/>
<line x1="435.97" y1="187" x2="435.97" y2="200.1"/>
<line x1="463.26" y1="187" x2="463.26" y2="200.1"/>
<line x1="490.55" y1="187" x2="490.55" y2="200.1"/>
<line x1="517.84" y1="187" x2="517.84" y2="200.1"/>
<line x1="545.13" y1="187" x2="545.13" y2="200.1"/>
</g>
<line class="d" x1="354.1" y1="187" x2="381.39" y2="200.1"/>
<text class="s" x="369.38" y="191.8">Unit</text>
<text class="s" x="366.38" y="197.4">Stry</text>
<text x="395.03" y="195.15">27</text>
<text x="422.32" y="195.15">28</text>
<text x="449.61" y="195.15">29</text>
<text x="476.9" y="195.15">30</text>
<text x="504.19" y="195.15">31</text>
<text x="531.48" y="195.15">32</text>
<text x="367.74" y="205.53">11</text>
<text x="367.74" y="213.18">10</text>
<text x="367.74" y="220.84">09</text>
<text x="367.74" y="228.49">08</text>
<text x="367.74" y="236.15">07</text>
<text x="367.74" y="243.8">06</text>
<text x="367.74" y="251.46">05</text>
<text x="367.74" y="259.11">04</text>
<text x="367.74" y="266.77">03</text>
<text x="367.74" y="274.42">02</text>
<text x="367.74" y="282.08">01</text>
<text class="c h" x="395.03" y="205.63">C1</text>
<text class="c h" x="395.03" y="213.28">C1</text>
<text class="c h" x="395.03" y="220.94">C1</text>
<text class="c h" x="395.03" y="228.59">C1</text>
<text class="c h" x="395.03" y="236.25">C1</text>
<text class="c h" x="395.03" y="243.9">C1</text>
<text class="c h" x="395.03" y="251.56">C1</text>
<text class="c h" x="395.03" y="259.21">C1</text>
<text class="c h" x="395.03" y="266.87">C1</text>
<text class="c h" x="395.03" y="274.52">C1</text>
<text class="c h" x="395.03" y="282.18">C1(P)</text>
<text class="c k" x="422.32" y="205.63">C3a-1</text>
<text class="c k" x="422.32" y="213.28">C3a-1</text>
<text class="c k" x="422.32" y="220.94">C3a-1</text>
<text class="c k" x="422.32" y="228.59">C3a-1</text>
<text class="c k" x="422.32" y="236.25">C3a-1</text>
<text class="c k" x="422.32" y="243.9">C3a-1</text>
<text class="c k" x="422.32" y="251.56">C3a-1</text>
<text class="c k" x="422.32" y="259.21">C3a-1</text>
<text class="c k" x="422.32" y="266.87">C3a-1</text>
<text class="c k" x="422.32" y="274.52">C3a-1</text>
<text class="c k" x="422.32" y="282.18">C3a-1(P)</text>
<text class="c p" x="449.61" y="205.63">A1-6</text>
<text class="c p" x="449.61" y="213.28">A1-6</text>
<text class="c p" x="449.61" y="220.94">A1-6</text>
<text class="c p" x="449.61" y="228.59">A1-6</text>
<text class="c p" x="449.61" y="236.25">A1-6</text>
<text class="c p" x="449.61" y="243.9">A1-6</text>
<text class="c p" x="449.61" y="251.56">A1-6</text>
<text class="c p" x="449.61" y="259.21">A1-6</text>
<text class="c p" x="449.61" y="266.87">A1-6</text>
<text class="c p" x="449.61" y="274.52">A1-6</text>
<text class="c p" x="449.61" y="282.18">A1-6(P)</text>
<text class="c p" x="476.9" y="205.63">A1</text>
<text class="c p" x="476.9" y="213.28">A1</text>
<text class="c p" x="476.9" y="220.94">A1</text>
<text class="c p" x="476.9" y="228.59">A1</text>
<text class="c p" x="476.9" y="236.25">A1</text>
<text class="c p" x="476.9" y="243.9">A1</text>
<text class="c p" x="476.9" y="251.56">A1</text>
<text class="c p" x="476.9" y="259.21">A1</text>
<text class="c p" x="476.9" y="266.87">A1</text>
<text class="c p" x="476.9" y="274.52">A1</text>
<text class="c p" x="476.9" y="282.18">A1(P)</text>
<text class="c h" x="504.19" y="205.63">C1a</text>
<text class="c h" x="504.19" y="213.28">C1a</text>
<text class="c h" x="504.19" y="220.94">C1a</text>
<text class="c h" x="504.19" y="228.59">C1a</text>
<text class="c h" x="504.19" y="236.25">C1a</text>
<text class="c h" x="504.19" y="243.9">C1a</text>
<text class="c h" x="504.19" y="251.56">C1a</text>
<text class="c h" x="504.19" y="259.21">C1a</text>
<text class="c h" x="504.19" y="266.87">C1a</text>
<text class="c h" x="504.19" y="274.52">C1a</text>
<text class="c h" x="504.19" y="282.18">C1a(P)</text>
<text class="c y" x="531.48" y="205.63">B1</text>
<text class="c y" x="531.48" y="213.28">B1</text>
<text class="c y" x="531.48" y="220.94">B1</text>
<text class="c y" x="531.48" y="228.59">B1</text>
<text class="c y" x="531.48" y="236.25">B1</text>
<text class="c y" x="531.48" y="243.9">B1</text>
<text class="c y" x="531.48" y="251.56">B1</text>
<text class="c y" x="531.48" y="259.21">B1</text>
<text class="c y" x="531.48" y="266.87">B1</text>
<text class="c y" x="531.48" y="274.52">B1</text>
<text class="c y" x="531.48" y="282.18">B1(P)</text>
</g>
<text class="t" x="354.9" y="178.25">BLK 135</text>
<g>
<rect x="599.71" y="200.1" width="27.29" height="7.66" fill="#FFFF2E"/>
<rect x="599.71" y="207.75" width="27.29" height="7.66" fill="#FFFF2E"/>
<rect x="599.71" y="215.41" width="27.29" height="7.66" fill="#FFFF2E"/>
<rect x="599.71" y="223.06" width="27.29" height="7.66" fill="#FFFF2E"/>
<rect x="599.71" y="230.72" width="27.29" height="7.66" fill="#FFFF2E"/>
<rect x="599.71" y="238.38" width="27.29" height="7.66" fill="#FFFF2E"/>
<rect x="599.71" y="246.03" width="27.29" height="7.66" fill="#FFFF2E"/>
<rect x="599.71" y="253.69" width="27.29" height="7.65" fill="#FFFF2E"/>
<rect x="599.71" y="261.34" width="27.29" height="7.65" fill="#FFFF2E"/>
<rect x="599.71" y="268.99" width="27.29" height="7.65" fill="#BFBFBF"/>
<rect x="599.71" y="276.65" width="27.29" height="7.65" fill="#BFBFBF"/>
<rect x="627" y="200.1" width="27.29" height="15.31" fill="#978442"/>
<rect x="627" y="215.41" width="27.29" height="7.66" fill="#32BEF7"/>
<rect x="627" y="223.06" width="27.29" height="7.66" fill="#32BEF7"/>
<rect x="627" y="230.72" width="27.29" height="7.66" fill="#32BEF7"/>
<rect x="627" y="238.38" width="27.29" height="7.66" fill="#32BEF7"/>
<rect x="627" y="246.03" width="27.29" height="7.66" fill="#32BEF7"/>
<rect x="627" y="253.69" width="27.29" height="7.65" fill="#32BEF7"/>
<rect x="627" y="261.34" width="27.29" height="7.65" fill="#32BEF7"/>
<rect x="627" y="268.99" width="27.29" height="7.65" fill="#BFBFBF"/>
<rect x="627" y="276.65" width="27.29" height="7.65" fill="#BFBFBF"/>
<rect x="654.29" y="200.1" width="27.29" height="7.66" fill="#FFFF2E"/>
<rect x="654.29" y="207.75" width="27.29" height="7.66" fill="#FFFF2E"/>
<rect x="654.29" y="215.41" width="27.29" height="7.66" fill="#FFFF2E"/>
<rect x="654.29" y="223.06" width="27.29" height="7.66" fill="#FFFF2E"/>
<rect x="654.29" y="230.72" width="27.29" height="7.66" fill="#FFFF2E"/>
<rect x="654.29" y="238.38" width="27.29" height="7.66" fill="#FFFF2E"/>
<rect x="654.29" y="246.03" width="27.29" height="7.66" fill="#FFFF2E"/>
<rect x="654.29" y="253.69" width="27.29" height="7.65" fill="#FFFF2E"/>
<rect x="654.29" y="261.34" width="27.29" height="7.65" fill="#FFFF2E"/>
<rect x="654.29" y="268.99" width="27.29" height="7.65" fill="#FFFF2E"/>
<rect x="654.29" y="276.65" width="27.29" height="7.65" fill="#FFFF2E"/>
<rect x="681.58" y="200.1" width="27.29" height="7.66" fill="#80F2A0"/>
<rect x="681.58" y="207.75" width="27.29" height="7.66" fill="#80F2A0"/>
<rect x="681.58" y="215.41" width="27.29" height="7.66" fill="#80F2A0"/>
<rect x="681.58" y="223.06" width="27.29" height="7.66" fill="#80F2A0"/>
<rect x="681.58" y="230.72" width="27.29" height="7.66" fill="#80F2A0"/>
<rect x="681.58" y="238.38" width="27.29" height="7.66" fill="#80F2A0"/>
<rect x="681.58" y="246.03" width="27.29" height="7.66" fill="#80F2A0"/>
<rect x="681.58" y="253.69" width="27.29" height="7.65" fill="#80F2A0"/>
<rect x="681.58" y="261.34" width="27.29" height="7.65" fill="#80F2A0"/>
<rect x="681.58" y="268.99" width="27.29" height="7.65" fill="#BFBFBF"/>
<rect x="681.58" y="276.65" width="27.29" height="7.65" fill="#BFBFBF"/>
<rect x="708.87" y="200.1" width="27.29" height="7.66" fill="#80F2A0"/>
<rect x="708.87" y="207.75" width="27.29" height="7.66" fill="#80F2A0"/>
<rect x="708.87" y="215.41" width="27.29" height="7.66" fill="#80F2A0"/>
<rect x="708.87" y="223.06" width="27.29" height="7.66" fill="#80F2A0"/>
<rect x="708.87" y="230.72" width="27.29" height="7.66" fill="#80F2A0"/>
<rect x="708.87" y="238.38" width="27.29" height="7.66" fill="#80F2A0"/>
<rect x="708.87" y="246.03" width="27.29" height="7.66" fill="#80F2A0"/>
<rect x="708.87" y="253.69" width="27.29" height="7.65" fill="#80F2A0"/>
<rect x="708.87" y="261.34" width="27.29" height="7.65" fill="#80F2A0"/>
<rect x="708.87" y="268.99" width="27.29" height="7.65" fill="#BFBFBF"/>
<rect x="708.87" y="276.65" width="27.29" height="7.65" fill="#BFBFBF"/>
<rect x="736.16" y="200.1" width="27.29" height="7.66" fill="#0AA048"/>
<rect x="736.16" y="207.75" width="27.29" height="7.66" fill="#0AA048"/>
<rect x="736.16" y="215.41" width="27.29" height="7.66" fill="#0AA048"/>
<rect x="736.16" y="223.06" width="27.29" height="7.66" fill="#0AA048"/>
<rect x="736.16" y="230.72" width="27.29" height="7.66" fill="#0AA048"/>
<rect x="736.16" y="238.38" width="27.29" height="7.66" fill="#0AA048"/>
<rect x="736.16" y="246.03" width="27.29" height="7.66" fill="#0AA048"/>
<rect x="736.16" y="253.69" width="27.29" height="7.65" fill="#0AA048"/>
<rect x="736.16" y="261.34" width="27.29" height="7.65" fill="#0AA048"/>
<rect x="736.16" y="268.99" width="27.29" height="7.65" fill="#0AA048"/>
<rect x="736.16" y="276.65" width="27.29" height="7.65" fill="#0AA048"/>
<rect x="763.45" y="200.1" width="27.29" height="15.31" fill="#978442"/>
<rect x="763.45" y="215.41" width="27.29" height="7.66" fill="#32BEF7"/>
<rect x="763.45" y="223.06" width="27.29" height="7.66" fill="#32BEF7"/>
<rect x="763.45" y="230.72" width="27.29" height="7.66" fill="#32BEF7"/>
<rect x="763.45" y="238.38" width="27.29" height="7.66" fill="#32BEF7"/>
<rect x="763.45" y="246.03" width="27.29" height="7.66" fill="#32BEF7"/>
<rect x="763.45" y="253.69" width="27.29" height="7.65" fill="#32BEF7"/>
<rect x="763.45" y="261.34" width="27.29" height="7.65" fill="#32BEF7"/>
<rect x="763.45" y="268.99" width="27.29" height="7.65" fill="#BFBFBF"/>
<rect x="763.45" y="276.65" width="27.29" height="7.65" fill="#BFBFBF"/>
<rect x="790.74" y="200.1" width="27.29" height="7.66" fill="#80F2A0"/>
<rect x="790.74" y="207.75" width="27.29" height="7.66" fill="#80F2A0"/>
<rect x="790.74" y="215.41" width="27.29" height="7.66" fill="#80F2A0"/>
<rect x="790.74" y="223.06" width="27.29" height="7.66" fill="#80F2A0"/>
<rect x="790.74" y="230.72" width="27.29" height="7.66" fill="#80F2A0"/>
<rect x="790.74" y="238.38" width="27.29" height="7.66" fill="#80F2A0"/>
<rect x="790.74" y="246.03" width="27.29" height="7.66" fill="#80F2A0"/>
<rect x="790.74" y="253.69" width="27.29" height="7.65" fill="#80F2A0"/>
<rect x="790.74" y="261.34" width="27.29" height="7.65" fill="#80F2A0"/>
<rect x="790.74" y="268.99" width="27.29" height="7.65" fill="#BFBFBF"/>
<rect x="790.74" y="276.65" width="27.29" height="7.65" fill="#BFBFBF"/>
<line class="ll" x1="572.42" y1="200.1" x2="599.71" y2="200.1"/>
<line x1="599.71" y1="200.1" x2="818.03" y2="200.1"/>
<line class="ll" x1="572.42" y1="207.75" x2="599.71" y2="207.75"/>
<line x1="599.71" y1="207.75" x2="818.03" y2="207.75"/>
<line class="ll" x1="572.42" y1="215.41" x2="599.71" y2="215.41"/>
<line x1="599.71" y1="215.41" x2="818.03" y2="215.41"/>
<line class="ll" x1="572.42" y1="223.06" x2="599.71" y2="223.06"/>
<line x1="599.71" y1="223.06" x2="818.03" y2="223.06"/>
<line class="ll" x1="572.42" y1="230.72" x2="599.71" y2="230.72"/>
<line x1="599.71" y1="230.72" x2="818.03" y2="230.72"/>
<line class="ll" x1="572.42" y1="238.38" x2="599.71" y2="238.38"/>
<line x1="599.71" y1="238.38" x2="818.03" y2="238.38"/>
<line class="ll" x1="572.42" y1="246.03" x2="599.71" y2="246.03"/>
<line x1="599.71" y1="246.03" x2="818.03" y2="246.03"/>
<line class="ll" x1="572.42" y1="253.69" x2="599.71" y2="253.69"/>
<line x1="599.71" y1="253.69" x2="818.03" y2="253.69"/>
<line class="ll" x1="572.42" y1="261.34" x2="599.71" y2="261.34"/>
<line x1="599.71" y1="261.34" x2="818.03" y2="261.34"/>
<line class="ll" x1="572.42" y1="268.99" x2="599.71" y2="268.99"/>
<line x1="599.71" y1="268.99" x2="818.03" y2="268.99"/>
<line class="ll" x1="572.42" y1="276.65" x2="599.71" y2="276.65"/>
<line x1="599.71" y1="276.65" x2="818.03" y2="276.65"/>
<line class="hl" x1="572.42" y1="284.3" x2="818.03" y2="284.3"/>
<g class="v">
<line class="hl" x1="572.42" y1="200.1" x2="572.42" y2="284.3"/>
<line x1="599.71" y1="200.1" x2="599.71" y2="284.3"/>
<line x1="627" y1="200.1" x2="627" y2="284.3"/>
<line x1="654.29" y1="200.1" x2="654.29" y2="284.3"/>
<line x1="681.58" y1="200.1" x2="681.58" y2="284.3"/>
<line x1="708.87" y1="200.1" x2="708.87" y2="284.3"/>
<line x1="736.16" y1="200.1" x2="736.16" y2="284.3"/>
<line x1="763.45" y1="200.1" x2="763.45" y2="284.3"/>
<line x1="790.74" y1="200.1" x2="790.74" y2="284.3"/>
<line class="hl" x1="818.03" y1="200.1" x2="818.03" y2="284.3"/>
</g>
<g class="h">
<line x1="572.42" y1="187" x2="818.03" y2="187"/>
<line x1="572.42" y1="187" x2="572.42" y2="200.1"/>
<line x1="599.71" y1="187" x2="599.71" y2="200.1"/>
<line x1="627" y1="187" x2="627" y2="200.1"/>
<line x1="654.29" y1="187" x2="654.29" y2="200.1"/>
<line x1="681.58" y1="187" x2="681.58" y2="200.1"/>
<line x1="708.87" y1="187" x2="708.87" y2="200.1"/>
<line x1="736.16" y1="187" x2="736.16" y2="200.1"/>
<line x1="763.45" y1="187" x2="763.45" y2="200.1"/>
<line x1="790.74" y1="187" x2="790.74" y2="200.1"/>
<line x1="818.03" y1="187" x2="818.03" y2="200.1"/>
</g>
<line class="d" x1="572.42" y1="187" x2="599.71" y2="200.1"/>
<text class="s" x="587.7" y="191.8">Unit</text>
<text class="s" x="584.7" y="197.4">Stry</text>
<text x="613.36" y="195.15">33</text>
<text x="640.64" y="195.15">34</text>
<text x="667.93" y="195.15">35</text>
<text x="695.22" y="195.15">36</text>
<text x="722.51" y="195.15">37</text>
<text x="749.8" y="195.15">38</text>
<text x="777.09" y="195.15">39</text>
<text x="804.38" y="195.15">40</text>
<text x="586.06" y="205.53">11</text>
<text x="586.06" y="213.18">10</text>
<text x="586.06" y="220.84">09</text>
<text x="586.06" y="228.49">08</text>
<text x="586.06" y="236.15">07</text>
<text x="586.06" y="243.8">06</text>
<text x="586.06" y="251.46">05</text>
<text x="586.06" y="259.11">04</text>
<text x="586.06" y="266.77">03</text>
<text x="586.06" y="274.42">02</text>
<text x="586.06" y="282.08">01</text>
<text class="c y" x="613.36" y="205.63">B1-2</text>
<text class="c y" x="613.36" y="213.28">B1-2</text>
<text class="c y" x="613.36" y="220.94">B1-2</text>
<text class="c y" x="613.36" y="228.59">B1-2</text>
<text class="c y" x="613.36" y="236.25">B1-2</text>
<text class="c y" x="613.36" y="243.9">B1-2</text>
<text class="c y" x="613.36" y="251.56">B1-2</text>
<text class="c y" x="613.36" y="259.21">B1-2</text>
<text class="c y" x="613.36" y="266.87">B1-2</text>
<text class="c n" x="640.64" y="213.28">P1-1</text>
<text class="c b" x="640.64" y="220.94">D2-3</text>
<text class="c b" x="640.64" y="228.59">D2-3</text>
<text class="c b" x="640.64" y="236.25">D2-3</text>
<text class="c b" x="640.64" y="243.9">D2-3</text>
<text class="c b" x="640.64" y="251.56">D2-3</text>
<text class="c b" x="640.64" y="259.21">D2-3</text>
<text class="c b" x="640.64" y="266.87">D2-3</text>
<text class="c y" x="667.93" y="205.63">B2-2</text>
<text class="c y" x="667.93" y="213.28">B2-2</text>
<text class="c y" x="667.93" y="220.94">B2-2</text>
<text class="c y" x="667.93" y="228.59">B2-2</text>
<text class="c y" x="667.93" y="236.25">B2-2</text>
<text class="c y" x="667.93" y="243.9">B2-2</text>
<text class="c y" x="667.93" y="251.56">B2-2</text>
<text class="c y" x="667.93" y="259.21">B2-2</text>
<text class="c y" x="667.93" y="266.87">B2-2</text>
<text class="c y" x="667.93" y="274.52">B2-2</text>
<text class="c y" x="667.93" y="282.18">B2-2(P)</text>
<text class="c h" x="695.22" y="205.63">C1-3</text>
<text class="c h" x="695.22" y="213.28">C1-3</text>
<text class="c h" x="695.22" y="220.94">C1-3</text>
<text class="c h" x="695.22" y="228.59">C1-3</text>
<text class="c h" x="695.22" y="236.25">C1-3</text>
<text class="c h" x="695.22" y="243.9">C1-3</text>
<text class="c h" x="695.22" y="251.56">C1-3</text>
<text class="c h" x="695.22" y="259.21">C1-3</text>
<text class="c h" x="695.22" y="266.87">C1-3</text>
<text class="c h" x="722.51" y="205.63">C1</text>
<text class="c h" x="722.51" y="213.28">C1</text>
<text class="c h" x="722.51" y="220.94">C1</text>
<text class="c h" x="722.51" y="228.59">C1</text>
<text class="c h" x="722.51" y="236.25">C1</text>
<text class="c h" x="722.51" y="243.9">C1</text>
<text class="c h" x="722.51" y="251.56">C1</text>
<text class="c h" x="722.51" y="259.21">C1</text>
<text class="c h" x="722.51" y="266.87">C1</text>
<text class="c k" x="749.8" y="205.63">C3-1</text>
<text class="c k" x="749.8" y="213.28">C3-1</text>
<text class="c k" x="749.8" y="220.94">C3-1</text>
<text class="c k" x="749.8" y="228.59">C3-1</text>
<text class="c k" x="749.8" y="236.25">C3-1</text>
<text class="c k" x="749.8" y="243.9">C3-1</text>
<text class="c k" x="749.8" y="251.56">C3-1</text>
<text class="c k" x="749.8" y="259.21">C3-1</text>
<text class="c k" x="749.8" y="266.87">C3-1</text>
<text class="c k" x="749.8" y="274.52">C3-1</text>
<text class="c k" x="749.8" y="282.18">C3-1(P)</text>
<text class="c n" x="777.09" y="213.28">P1</text>
<text class="c b" x="777.09" y="220.94">D2-3</text>
<text class="c b" x="777.09" y="228.59">D2-3</text>
<text class="c b" x="777.09" y="236.25">D2-3</text>
<text class="c b" x="777.09" y="243.9">D2-3</text>
<text class="c b" x="777.09" y="251.56">D2-3</text>
<text class="c b" x="777.09" y="259.21">D2-3</text>
<text class="c b" x="777.09" y="266.87">D2-3</text>
<text class="c h" x="804.38" y="205.63">C1-1</text>
<text class="c h" x="804.38" y="213.28">C1-1</text>
<text class="c h" x="804.38" y="220.94">C1-1</text>
<text class="c h" x="804.38" y="228.59">C1-1</text>
<text class="c h" x="804.38" y="236.25">C1-1</text>
<text class="c h" x="804.38" y="243.9">C1-1</text>
<text class="c h" x="804.38" y="251.56">C1-1</text>
<text class="c h" x="804.38" y="259.21">C1-1</text>
<text class="c h" x="804.38" y="266.87">C1-1</text>
</g>
<text class="t" x="573.22" y="178.25">BLK 137</text>
<g>
<rect x="108.49" y="333.2" width="27.29" height="7.65" fill="#FFFF2E"/>
<rect x="108.49" y="340.86" width="27.29" height="7.65" fill="#FFFF2E"/>
<rect x="108.49" y="348.51" width="27.29" height="7.65" fill="#FFFF2E"/>
<rect x="108.49" y="356.16" width="27.29" height="7.65" fill="#FFFF2E"/>
<rect x="108.49" y="363.82" width="27.29" height="7.65" fill="#FFFF2E"/>
<rect x="108.49" y="371.47" width="27.29" height="7.65" fill="#FFFF2E"/>
<rect x="108.49" y="379.13" width="27.29" height="7.65" fill="#FFFF2E"/>
<rect x="108.49" y="386.78" width="27.29" height="7.65" fill="#FFFF2E"/>
<rect x="108.49" y="394.44" width="27.29" height="7.65" fill="#FFFF2E"/>
<rect x="108.49" y="402.09" width="27.29" height="7.65" fill="#FFFF2E"/>
<rect x="108.49" y="409.75" width="27.29" height="7.65" fill="#FFFF2E"/>
<rect x="135.78" y="333.2" width="27.29" height="15.31" fill="#978442"/>
<rect x="135.78" y="348.51" width="27.29" height="7.65" fill="#32BEF7"/>
<rect x="135.78" y="356.16" width="27.29" height="7.65" fill="#32BEF7"/>
<rect x="135.78" y="363.82" width="27.29" height="7.65" fill="#32BEF7"/>
<rect x="135.78" y="371.47" width="27.29" height="7.65" fill="#32BEF7"/>
<rect x="135.78" y="379.13" width="27.29" height="7.65" fill="#32BEF7"/>
<rect x="135.78" y="386.78" width="27.29" height="7.65" fill="#32BEF7"/>
<rect x="135.78" y="394.44" width="27.29" height="7.65" fill="#32BEF7"/>
<rect x="135.78" y="402.09" width="27.29" height="7.65" fill="#32BEF7"/>
<rect x="135.78" y="409.75" width="27.29" height="7.65" fill="#32BEF7"/>
<rect x="163.07" y="333.2" width="27.29" height="7.65" fill="#0AA048"/>
<rect x="163.07" y="340.86" width="27.29" height="7.65" fill="#0AA048"/>
<rect x="163.07" y="348.51" width="27.29" height="7.65" fill="#0AA048"/>
<rect x="163.07" y="356.16" width="27.29" height="7.65" fill="#0AA048"/>
<rect x="163.07" y="363.82" width="27.29" height="7.65" fill="#0AA048"/>
<rect x="163.07" y="371.47" width="27.29" height="7.65" fill="#0AA048"/>
<rect x="163.07" y="379.13" width="27.29" height="7.65" fill="#0AA048"/>
<rect x="163.07" y="386.78" width="27.29" height="7.65" fill="#0AA048"/>
<rect x="163.07" y="394.44" width="27.29" height="7.65" fill="#0AA048"/>
<rect x="163.07" y="402.09" width="27.29" height="7.65" fill="#0AA048"/>
<rect x="163.07" y="409.75" width="27.29" height="7.65" fill="#0AA048"/>
<rect x="190.36" y="333.2" width="27.29" height="7.65" fill="#6AF2A8"/>
<rect x="190.36" y="340.86" width="27.29" height="7.65" fill="#6AF2A8"/>
<rect x="190.36" y="348.51" width="27.29" height="7.65" fill="#6AF2A8"/>
<rect x="190.36" y="356.16" width="27.29" height="7.65" fill="#6AF2A8"/>
<rect x="190.36" y="363.82" width="27.29" height="7.65" fill="#6AF2A8"/>
<rect x="190.36" y="371.47" width="27.29" height="7.65" fill="#6AF2A8"/>
<rect x="190.36" y="379.13" width="27.29" height="7.65" fill="#6AF2A8"/>
<rect x="190.36" y="386.78" width="27.29" height="7.65" fill="#6AF2A8"/>
<rect x="190.36" y="394.44" width="27.29" height="7.65" fill="#6AF2A8"/>
<rect x="190.36" y="402.09" width="27.29" height="7.65" fill="#6AF2A8"/>
<rect x="190.36" y="409.75" width="27.29" height="7.65" fill="#6AF2A8"/>
<rect x="217.65" y="333.2" width="27.29" height="7.65" fill="#FFFF2E"/>
<rect x="217.65" y="340.86" width="27.29" height="7.65" fill="#FFFF2E"/>
<rect x="217.65" y="348.51" width="27.29" height="7.65" fill="#FFFF2E"/>
<rect x="217.65" y="356.16" width="27.29" height="7.65" fill="#FFFF2E"/>
<rect x="217.65" y="363.82" width="27.29" height="7.65" fill="#FFFF2E"/>
<rect x="217.65" y="371.47" width="27.29" height="7.65" fill="#FFFF2E"/>
<rect x="217.65" y="379.13" width="27.29" height="7.65" fill="#FFFF2E"/>
<rect x="217.65" y="386.78" width="27.29" height="7.65" fill="#FFFF2E"/>
<rect x="217.65" y="394.44" width="27.29" height="7.65" fill="#FFFF2E"/>
<rect x="217.65" y="402.09" width="27.29" height="7.65" fill="#FFFF2E"/>
<rect x="217.65" y="409.75" width="27.29" height="7.65" fill="#FFFF2E"/>
<rect x="244.94" y="333.2" width="27.29" height="7.65" fill="#9CCBFA"/>
<rect x="244.94" y="340.86" width="27.29" height="7.65" fill="#9CCBFA"/>
<rect x="244.94" y="348.51" width="27.29" height="7.65" fill="#9CCBFA"/>
<rect x="244.94" y="356.16" width="27.29" height="7.65" fill="#9CCBFA"/>
<rect x="244.94" y="363.82" width="27.29" height="7.65" fill="#9CCBFA"/>
<rect x="244.94" y="371.47" width="27.29" height="7.65" fill="#9CCBFA"/>
<rect x="244.94" y="379.13" width="27.29" height="7.65" fill="#9CCBFA"/>
<rect x="244.94" y="386.78" width="27.29" height="7.65" fill="#9CCBFA"/>
<rect x="244.94" y="394.44" width="27.29" height="7.65" fill="#9CCBFA"/>
<rect x="244.94" y="402.09" width="27.29" height="7.65" fill="#9CCBFA"/>
<rect x="244.94" y="409.75" width="27.29" height="7.65" fill="#9CCBFA"/>
<rect x="272.23" y="333.2" width="27.29" height="15.31" fill="#978442"/>
<rect x="272.23" y="348.51" width="27.29" height="7.65" fill="#32BEF7"/>
<rect x="272.23" y="356.16" width="27.29" height="7.65" fill="#32BEF7"/>
<rect x="272.23" y="363.82" width="27.29" height="7.65" fill="#32BEF7"/>
<rect x="272.23" y="371.47" width="27.29" height="7.65" fill="#32BEF7"/>
<rect x="272.23" y="379.13" width="27.29" height="7.65" fill="#32BEF7"/>
<rect x="272.23" y="386.78" width="27.29" height="7.65" fill="#32BEF7"/>
<rect x="272.23" y="394.44" width="27.29" height="7.65" fill="#32BEF7"/>
<rect x="272.23" y="402.09" width="27.29" height="7.65" fill="#32BEF7"/>
<rect x="272.23" y="409.75" width="27.29" height="7.65" fill="#32BEF7"/>
<rect x="299.52" y="333.2" width="27.29" height="7.65" fill="#80F2A0"/>
<rect x="299.52" y="340.86" width="27.29" height="7.65" fill="#80F2A0"/>
<rect x="299.52" y="348.51" width="27.29" height="7.65" fill="#80F2A0"/>
<rect x="299.52" y="356.16" width="27.29" height="7.65" fill="#80F2A0"/>
<rect x="299.52" y="363.82" width="27.29" height="7.65" fill="#80F2A0"/>
<rect x="299.52" y="371.47" width="27.29" height="7.65" fill="#80F2A0"/>
<rect x="299.52" y="379.13" width="27.29" height="7.65" fill="#80F2A0"/>
<rect x="299.52" y="386.78" width="27.29" height="7.65" fill="#80F2A0"/>
<rect x="299.52" y="394.44" width="27.29" height="7.65" fill="#80F2A0"/>
<rect x="299.52" y="402.09" width="27.29" height="7.65" fill="#80F2A0"/>
<rect x="299.52" y="409.75" width="27.29" height="7.65" fill="#80F2A0"/>
<line class="ll" x1="81.2" y1="333.2" x2="108.49" y2="333.2"/>
<line x1="108.49" y1="333.2" x2="326.81" y2="333.2"/>
<line class="ll" x1="81.2" y1="340.86" x2="108.49" y2="340.86"/>
<line x1="108.49" y1="340.86" x2="326.81" y2="340.86"/>
<line class="ll" x1="81.2" y1="348.51" x2="108.49" y2="348.51"/>
<line x1="108.49" y1="348.51" x2="326.81" y2="348.51"/>
<line class="ll" x1="81.2" y1="356.16" x2="108.49" y2="356.16"/>
<line x1="108.49" y1="356.16" x2="326.81" y2="356.16"/>
<line class="ll" x1="81.2" y1="363.82" x2="108.49" y2="363.82"/>
<line x1="108.49" y1="363.82" x2="326.81" y2="363.82"/>
<line class="ll" x1="81.2" y1="371.47" x2="108.49" y2="371.47"/>
<line x1="108.49" y1="371.47" x2="326.81" y2="371.47"/>
<line class="ll" x1="81.2" y1="379.13" x2="108.49" y2="379.13"/>
<line x1="108.49" y1="379.13" x2="326.81" y2="379.13"/>
<line class="ll" x1="81.2" y1="386.78" x2="108.49" y2="386.78"/>
<line x1="108.49" y1="386.78" x2="326.81" y2="386.78"/>
<line class="ll" x1="81.2" y1="394.44" x2="108.49" y2="394.44"/>
<line x1="108.49" y1="394.44" x2="326.81" y2="394.44"/>
<line class="ll" x1="81.2" y1="402.09" x2="108.49" y2="402.09"/>
<line x1="108.49" y1="402.09" x2="326.81" y2="402.09"/>
<line class="ll" x1="81.2" y1="409.75" x2="108.49" y2="409.75"/>
<line x1="108.49" y1="409.75" x2="326.81" y2="409.75"/>
<line class="hl" x1="81.2" y1="417.4" x2="326.81" y2="417.4"/>
<g class="v">
<line class="hl" x1="81.2" y1="333.2" x2="81.2" y2="417.4"/>
<line x1="108.49" y1="333.2" x2="108.49" y2="417.4"/>
<line x1="135.78" y1="333.2" x2="135.78" y2="417.4"/>
<line x1="163.07" y1="333.2" x2="163.07" y2="417.4"/>
<line x1="190.36" y1="333.2" x2="190.36" y2="417.4"/>
<line x1="217.65" y1="333.2" x2="217.65" y2="417.4"/>
<line x1="244.94" y1="333.2" x2="244.94" y2="417.4"/>
<line x1="272.23" y1="333.2" x2="272.23" y2="417.4"/>
<line x1="299.52" y1="333.2" x2="299.52" y2="417.4"/>
<line class="hl" x1="326.81" y1="333.2" x2="326.81" y2="417.4"/>
</g>
<g class="h">
<line x1="81.2" y1="320.1" x2="326.81" y2="320.1"/>
<line x1="81.2" y1="320.1" x2="81.2" y2="333.2"/>
<line x1="108.49" y1="320.1" x2="108.49" y2="333.2"/>
<line x1="135.78" y1="320.1" x2="135.78" y2="333.2"/>
<line x1="163.07" y1="320.1" x2="163.07" y2="333.2"/>
<line x1="190.36" y1="320.1" x2="190.36" y2="333.2"/>
<line x1="217.65" y1="320.1" x2="217.65" y2="333.2"/>
<line x1="244.94" y1="320.1" x2="244.94" y2="333.2"/>
<line x1="272.23" y1="320.1" x2="272.23" y2="333.2"/>
<line x1="299.52" y1="320.1" x2="299.52" y2="333.2"/>
<line x1="326.81" y1="320.1" x2="326.81" y2="333.2"/>
</g>
<line class="d" x1="81.2" y1="320.1" x2="108.49" y2="333.2"/>
<text class="s" x="96.48" y="324.9">Unit</text>
<text class="s" x="93.48" y="330.5">Stry</text>
<text x="122.14" y="328.25">41</text>
<text x="149.43" y="328.25">42</text>
<text x="176.72" y="328.25">43</text>
<text x="204" y="328.25">44</text>
<text x="231.3" y="328.25">45</text>
<text x="258.58" y="328.25">46</text>
<text x="285.88" y="328.25">47</text>
<text x="313.17" y="328.25">48</text>
<text x="94.84" y="338.63">11</text>
<text x="94.84" y="346.28">10</text>
<text x="94.84" y="353.94">09</text>
<text x="94.84" y="361.59">08</text>
<text x="94.84" y="369.25">07</text>
<text x="94.84" y="376.9">06</text>
<text x="94.84" y="384.56">05</text>
<text x="94.84" y="392.21">04</text>
<text x="94.84" y="399.87">03</text>
<text x="94.84" y="407.52">02</text>
<text x="94.84" y="415.18">01</text>
<text class="c y" x="122.14" y="338.73">B2-4</text>
<text class="c y" x="122.14" y="346.38">B2-4</text>
<text class="c y" x="122.14" y="354.04">B2-4</text>
<text class="c y" x="122.14" y="361.69">B2-4</text>
<text class="c y" x="122.14" y="369.35">B2-4</text>
<text class="c y" x="122.14" y="377">B2-4</text>
<text class="c y" x="122.14" y="384.66">B2-4</text>
<text class="c y" x="122.14" y="392.31">B2-4</text>
<text class="c y" x="122.14" y="399.97">B2-4</text>
<text class="c y" x="122.14" y="407.62">B2-4</text>
<text class="c y" x="122.14" y="415.28">B2-4(P)</text>
<text class="c n" x="149.43" y="346.38">P1-1</text>
<text class="c b" x="149.43" y="354.04">D2-2</text>
<text class="c b" x="149.43" y="361.69">D2-2</text>
<text class="c b" x="149.43" y="369.35">D2-2</text>
<text class="c b" x="149.43" y="377">D2-2</text>
<text class="c b" x="149.43" y="384.66">D2-2</text>
<text class="c b" x="149.43" y="392.31">D2-2</text>
<text class="c b" x="149.43" y="399.97">D2-2</text>
<text class="c b" x="149.43" y="407.62">D2-2</text>
<text class="c b" x="149.43" y="415.28">D2-2(P)</text>
<text class="c k" x="176.72" y="338.73">C3-1</text>
<text class="c k" x="176.72" y="346.38">C3-1</text>
<text class="c k" x="176.72" y="354.04">C3-1</text>
<text class="c k" x="176.72" y="361.69">C3-1</text>
<text class="c k" x="176.72" y="369.35">C3-1</text>
<text class="c k" x="176.72" y="377">C3-1</text>
<text class="c k" x="176.72" y="384.66">C3-1</text>
<text class="c k" x="176.72" y="392.31">C3-1</text>
<text class="c k" x="176.72" y="399.97">C3-1</text>
<text class="c k" x="176.72" y="407.62">C3-1</text>
<text class="c k" x="176.72" y="415.28">C3-1(P)</text>
<text class="c g" x="204" y="338.73">C1-5</text>
<text class="c g" x="204" y="346.38">C1-5</text>
<text class="c g" x="204" y="354.04">C1-5</text>
<text class="c g" x="204" y="361.69">C1-5</text>
<text class="c g" x="204" y="369.35">C1-5</text>
<text class="c g" x="204" y="377">C1-5</text>
<text class="c g" x="204" y="384.66">C1-5</text>
<text class="c g" x="204" y="392.31">C1-5</text>
<text class="c g" x="204" y="399.97">C1-5</text>
<text class="c g" x="204" y="407.62">C1-5</text>
<text class="c g" x="204" y="415.28">C1-5(P)</text>
<text class="c y" x="231.3" y="338.73">B2-3</text>
<text class="c y" x="231.3" y="346.38">B2-3</text>
<text class="c y" x="231.3" y="354.04">B2-3</text>
<text class="c y" x="231.3" y="361.69">B2-3</text>
<text class="c y" x="231.3" y="369.35">B2-3</text>
<text class="c y" x="231.3" y="377">B2-3</text>
<text class="c y" x="231.3" y="384.66">B2-3</text>
<text class="c y" x="231.3" y="392.31">B2-3</text>
<text class="c y" x="231.3" y="399.97">B2-3</text>
<text class="c y" x="231.3" y="407.62">B2-3</text>
<text class="c y" x="231.3" y="415.28">B2-3(P)</text>
<text class="c l" x="258.58" y="338.73">D1-3</text>
<text class="c l" x="258.58" y="346.38">D1-3</text>
<text class="c l" x="258.58" y="354.04">D1-3</text>
<text class="c l" x="258.58" y="361.69">D1-3</text>
<text class="c l" x="258.58" y="369.35">D1-3</text>
<text class="c l" x="258.58" y="377">D1-3</text>
<text class="c l" x="258.58" y="384.66">D1-3</text>
<text class="c l" x="258.58" y="392.31">D1-3</text>
<text class="c l" x="258.58" y="399.97">D1-3</text>
<text class="c l" x="258.58" y="407.62">D1-3</text>
<text class="c l" x="258.58" y="415.28">D1-3(P)</text>
<text class="c n" x="285.88" y="346.38">P1-2</text>
<text class="c b" x="285.88" y="354.04">D2-2</text>
<text class="c b" x="285.88" y="361.69">D2-2</text>
<text class="c b" x="285.88" y="369.35">D2-2</text>
<text class="c b" x="285.88" y="377">D2-2</text>
<text class="c b" x="285.88" y="384.66">D2-2</text>
<text class="c b" x="285.88" y="392.31">D2-2</text>
<text class="c b" x="285.88" y="399.97">D2-2</text>
<text class="c b" x="285.88" y="407.62">D2-2</text>
<text class="c b" x="285.88" y="415.28">D2-2(P)</text>
<text class="c h" x="313.17" y="338.73">C1-4</text>
<text class="c h" x="313.17" y="346.38">C1-4</text>
<text class="c h" x="313.17" y="354.04">C1-4</text>
<text class="c h" x="313.17" y="361.69">C1-4</text>
<text class="c h" x="313.17" y="369.35">C1-4</text>
<text class="c h" x="313.17" y="377">C1-4</text>
<text class="c h" x="313.17" y="384.66">C1-4</text>
<text class="c h" x="313.17" y="392.31">C1-4</text>
<text class="c h" x="313.17" y="399.97">C1-4</text>
<text class="c h" x="313.17" y="407.62">C1-4</text>
<text class="c h" x="313.17" y="415.28">C1-4(P)</text>
</g>
<text class="t" x="82" y="298.25">BLK 139</text>
<g>
<rect x="381.39" y="333.2" width="27.29" height="7.65" fill="#6AF2A8"/>
<rect x="381.39" y="340.86" width="27.29" height="7.65" fill="#6AF2A8"/>
<rect x="381.39" y="348.51" width="27.29" height="7.65" fill="#6AF2A8"/>
<rect x="381.39" y="356.16" width="27.29" height="7.65" fill="#6AF2A8"/>
<rect x="381.39" y="363.82" width="27.29" height="7.65" fill="#6AF2A8"/>
<rect x="381.39" y="371.47" width="27.29" height="7.65" fill="#6AF2A8"/>
<rect x="381.39" y="379.13" width="27.29" height="7.65" fill="#6AF2A8"/>
<rect x="381.39" y="386.78" width="27.29" height="7.65" fill="#6AF2A8"/>
<rect x="381.39" y="394.44" width="27.29" height="7.65" fill="#6AF2A8"/>
<rect x="381.39" y="402.09" width="27.29" height="7.65" fill="#6AF2A8"/>
<rect x="381.39" y="409.75" width="27.29" height="7.65" fill="#6AF2A8"/>
<rect x="408.68" y="333.2" width="27.29" height="7.65" fill="#FFFF2E"/>
<rect x="408.68" y="340.86" width="27.29" height="7.65" fill="#FFFF2E"/>
<rect x="408.68" y="348.51" width="27.29" height="7.65" fill="#FFFF2E"/>
<rect x="408.68" y="356.16" width="27.29" height="7.65" fill="#FFFF2E"/>
<rect x="408.68" y="363.82" width="27.29" height="7.65" fill="#FFFF2E"/>
<rect x="408.68" y="371.47" width="27.29" height="7.65" fill="#FFFF2E"/>
<rect x="408.68" y="379.13" width="27.29" height="7.65" fill="#FFFF2E"/>
<rect x="408.68" y="386.78" width="27.29" height="7.65" fill="#FFFF2E"/>
<rect x="408.68" y="394.44" width="27.29" height="7.65" fill="#FFFF2E"/>
<rect x="408.68" y="402.09" width="27.29" height="7.65" fill="#FFFF2E"/>
<rect x="408.68" y="409.75" width="27.29" height="7.65" fill="#FFFF2E"/>
<rect x="435.97" y="333.2" width="27.29" height="7.65" fill="#FF96FA"/>
<rect x="435.97" y="340.86" width="27.29" height="7.65" fill="#FF96FA"/>
<rect x="435.97" y="348.51" width="27.29" height="7.65" fill="#FF96FA"/>
<rect x="435.97" y="356.16" width="27.29" height="7.65" fill="#FF96FA"/>
<rect x="435.97" y="363.82" width="27.29" height="7.65" fill="#FF96FA"/>
<rect x="435.97" y="371.47" width="27.29" height="7.65" fill="#FF96FA"/>
<rect x="435.97" y="379.13" width="27.29" height="7.65" fill="#FF96FA"/>
<rect x="435.97" y="386.78" width="27.29" height="7.65" fill="#FF96FA"/>
<rect x="435.97" y="394.44" width="27.29" height="7.65" fill="#FF96FA"/>
<rect x="435.97" y="402.09" width="27.29" height="7.65" fill="#FF96FA"/>
<rect x="435.97" y="409.75" width="27.29" height="7.65" fill="#FF96FA"/>
<rect x="463.26" y="333.2" width="27.29" height="7.65" fill="#FF96FA"/>
<rect x="463.26" y="340.86" width="27.29" height="7.65" fill="#FF96FA"/>
<rect x="463.26" y="348.51" width="27.29" height="7.65" fill="#FF96FA"/>
<rect x="463.26" y="356.16" width="27.29" height="7.65" fill="#FF96FA"/>
<rect x="463.26" y="363.82" width="27.29" height="7.65" fill="#FF96FA"/>
<rect x="463.26" y="371.47" width="27.29" height="7.65" fill="#FF96FA"/>
<rect x="463.26" y="379.13" width="27.29" height="7.65" fill="#FF96FA"/>
<rect x="463.26" y="386.78" width="27.29" height="7.65" fill="#FF96FA"/>
<rect x="463.26" y="394.44" width="27.29" height="7.65" fill="#FF96FA"/>
<rect x="463.26" y="402.09" width="27.29" height="7.65" fill="#FF96FA"/>
<rect x="463.26" y="409.75" width="27.29" height="7.65" fill="#FF96FA"/>
<rect x="490.55" y="333.2" width="27.29" height="7.65" fill="#6AF2A8"/>
<rect x="490.55" y="340.86" width="27.29" height="7.65" fill="#6AF2A8"/>
<rect x="490.55" y="348.51" width="27.29" height="7.65" fill="#6AF2A8"/>
<rect x="490.55" y="356.16" width="27.29" height="7.65" fill="#6AF2A8"/>
<rect x="490.55" y="363.82" width="27.29" height="7.65" fill="#6AF2A8"/>
<rect x="490.55" y="371.47" width="27.29" height="7.65" fill="#6AF2A8"/>
<rect x="490.55" y="379.13" width="27.29" height="7.65" fill="#6AF2A8"/>
<rect x="490.55" y="386.78" width="27.29" height="7.65" fill="#6AF2A8"/>
<rect x="490.55" y="394.44" width="27.29" height="7.65" fill="#6AF2A8"/>
<rect x="490.55" y="402.09" width="27.29" height="7.65" fill="#6AF2A8"/>
<rect x="490.55" y="409.75" width="27.29" height="7.65" fill="#6AF2A8"/>
<rect x="517.84" y="333.2" width="27.29" height="7.65" fill="#FFFF2E"/>
<rect x="517.84" y="340.86" width="27.29" height="7.65" fill="#FFFF2E"/>
<rect x="517.84" y="348.51" width="27.29" height="7.65" fill="#FFFF2E"/>
<rect x="517.84" y="356.16" width="27.29" height="7.65" fill="#FFFF2E"/>
<rect x="517.84" y="363.82" width="27.29" height="7.65" fill="#FFFF2E"/>
<rect x="517.84" y="371.47" width="27.29" height="7.65" fill="#FFFF2E"/>
<rect x="517.84" y="379.13" width="27.29" height="7.65" fill="#FFFF2E"/>
<rect x="517.84" y="386.78" width="27.29" height="7.65" fill="#FFFF2E"/>
<rect x="517.84" y="394.44" width="27.29" height="7.65" fill="#FFFF2E"/>
<rect x="517.84" y="402.09" width="27.29" height="7.65" fill="#FFFF2E"/>
<rect x="517.84" y="409.75" width="27.29" height="7.65" fill="#FFFF2E"/>
<line class="ll" x1="354.1" y1="333.2" x2="381.39" y2="333.2"/>
<line x1="381.39" y1="333.2" x2="545.13" y2="333.2"/>
<line class="ll" x1="354.1" y1="340.86" x2="381.39" y2="340.86"/>
<line x1="381.39" y1="340.86" x2="545.13" y2="340.86"/>
<line class="ll" x1="354.1" y1="348.51" x2="381.39" y2="348.51"/>
<line x1="381.39" y1="348.51" x2="545.13" y2="348.51"/>
<line class="ll" x1="354.1" y1="356.16" x2="381.39" y2="356.16"/>
<line x1="381.39" y1="356.16" x2="545.13" y2="356.16"/>
<line class="ll" x1="354.1" y1="363.82" x2="381.39" y2="363.82"/>
<line x1="381.39" y1="363.82" x2="545.13" y2="363.82"/>
<line class="ll" x1="354.1" y1="371.47" x2="381.39" y2="371.47"/>
<line x1="381.39" y1="371.47" x2="545.13" y2="371.47"/>
<line class="ll" x1="354.1" y1="379.13" x2="381.39" y2="379.13"/>
<line x1="381.39" y1="379.13" x2="545.13" y2="379.13"/>
<line class="ll" x1="354.1" y1="386.78" x2="381.39" y2="386.78"/>
<line x1="381.39" y1="386.78" x2="545.13" y2="386.78"/>
<line class="ll" x1="354.1" y1="394.44" x2="381.39" y2="394.44"/>
<line x1="381.39" y1="394.44" x2="545.13" y2="394.44"/>
<line class="ll" x1="354.1" y1="402.09" x2="381.39" y2="402.09"/>
<line x1="381.39" y1="402.09" x2="545.13" y2="402.09"/>
<line class="ll" x1="354.1" y1="409.75" x2="381.39" y2="409.75"/>
<line x1="381.39" y1="409.75" x2="545.13" y2="409.75"/>
<line class="hl" x1="354.1" y1="417.4" x2="545.13" y2="417.4"/>
<g class="v">
<line class="hl" x1="354.1" y1="333.2" x2="354.1" y2="417.4"/>
<line x1="381.39" y1="333.2" x2="381.39" y2="417.4"/>
<line x1="408.68" y1="333.2" x2="408.68" y2="417.4"/>
<line x1="435.97" y1="333.2" x2="435.97" y2="417.4"/>
<line x1="463.26" y1="333.2" x2="463.26" y2="417.4"/>
<line x1="490.55" y1="333.2" x2="490.55" y2="417.4"/>
<line x1="517.84" y1="333.2" x2="517.84" y2="417.4"/>
<line class="hl" x1="545.13" y1="333.2" x2="545.13" y2="417.4"/>
</g>
<g class="h">
<line x1="354.1" y1="320.1" x2="545.13" y2="320.1"/>
<line x1="354.1" y1="320.1" x2="354.1" y2="333.2"/>
<line x1="381.39" y1="320.1" x2="381.39" y2="333.2"/>
<line x1="408.68" y1="320.1" x2="408.68" y2="333.2"/>
<line x1="435.97" y1="320.1" x2="435.97" y2="333.2"/>
<line x1="463.26" y1="320.1" x2="463.26" y2="333.2"/>
<line x1="490.55" y1="320.1" x2="490.55" y2="333.2"/>
<line x1="517.84" y1="320.1" x2="517.84" y2="333.2"/>
<line x1="545.13" y1="320.1" x2="545.13" y2="333.2"/>
</g>
<line class="d" x1="354.1" y1="320.1" x2="381.39" y2="333.2"/>
<text class="s" x="369.38" y="324.9">Unit</text>
<text class="s" x="366.38" y="330.5">Stry</text>
<text x="395.03" y="328.25">49</text>
<text x="422.32" y="328.25">50</text>
<text x="449.61" y="328.25">51</text>
<text x="476.9" y="328.25">52</text>
<text x="504.19" y="328.25">53</text>
<text x="531.48" y="328.25">54</text>
<text x="367.74" y="338.63">11</text>
<text x="367.74" y="346.28">10</text>
<text x="367.74" y="353.94">09</text>
<text x="367.74" y="361.59">08</text>
<text x="367.74" y="369.25">07</text>
<text x="367.74" y="376.9">06</text>
<text x="367.74" y="384.56">05</text>
<text x="367.74" y="392.21">04</text>
<text x="367.74" y="399.87">03</text>
<text x="367.74" y="407.52">02</text>
<text x="367.74" y="415.18">01</text>
<text class="c g" x="395.03" y="338.73">C1</text>
<text class="c g" x="395.03" y="346.38">C1</text>
<text class="c g" x="395.03" y="354.04">C1</text>
<text class="c g" x="395.03" y="361.69">C1</text>
<text class="c g" x="395.03" y="369.35">C1</text>
<text class="c g" x="395.03" y="377">C1</text>
<text class="c g" x="395.03" y="384.66">C1</text>
<text class="c g" x="395.03" y="392.31">C1</text>
<text class="c g" x="395.03" y="399.97">C1</text>
<text class="c g" x="395.03" y="407.62">C1</text>
<text class="c g" x="395.03" y="415.28">C1(P)</text>
<text class="c y" x="422.32" y="338.73">B1a-1</text>
<text class="c y" x="422.32" y="346.38">B1a-1</text>
<text class="c y" x="422.32" y="354.04">B1a-1</text>
<text class="c y" x="422.32" y="361.69">B1a-1</text>
<text class="c y" x="422.32" y="369.35">B1a-1</text>
<text class="c y" x="422.32" y="377">B1a-1</text>
<text class="c y" x="422.32" y="384.66">B1a-1</text>
<text class="c y" x="422.32" y="392.31">B1a-1</text>
<text class="c y" x="422.32" y="399.97">B1a-1</text>
<text class="c y" x="422.32" y="407.62">B1a-1</text>
<text class="c y" x="422.32" y="415.28">B1a-1(P)</text>
<text class="c p" x="449.61" y="338.73">A1-1</text>
<text class="c p" x="449.61" y="346.38">A1-1</text>
<text class="c p" x="449.61" y="354.04">A1-1</text>
<text class="c p" x="449.61" y="361.69">A1-1</text>
<text class="c p" x="449.61" y="369.35">A1-1</text>
<text class="c p" x="449.61" y="377">A1-1</text>
<text class="c p" x="449.61" y="384.66">A1-1</text>
<text class="c p" x="449.61" y="392.31">A1-1</text>
<text class="c p" x="449.61" y="399.97">A1-1</text>
<text class="c p" x="449.61" y="407.62">A1-1</text>
<text class="c p" x="449.61" y="415.28">A1-1(P)</text>
<text class="c p" x="476.9" y="338.73">A1-4</text>
<text class="c p" x="476.9" y="346.38">A1-4</text>
<text class="c p" x="476.9" y="354.04">A1-4</text>
<text class="c p" x="476.9" y="361.69">A1-4</text>
<text class="c p" x="476.9" y="369.35">A1-4</text>
<text class="c p" x="476.9" y="377">A1-4</text>
<text class="c p" x="476.9" y="384.66">A1-4</text>
<text class="c p" x="476.9" y="392.31">A1-4</text>
<text class="c p" x="476.9" y="399.97">A1-4</text>
<text class="c p" x="476.9" y="407.62">A1-4</text>
<text class="c p" x="476.9" y="415.28">A1-4(P)</text>
<text class="c g" x="504.19" y="338.73">C1a-2</text>
<text class="c g" x="504.19" y="346.38">C1a-2</text>
<text class="c g" x="504.19" y="354.04">C1a-2</text>
<text class="c g" x="504.19" y="361.69">C1a-2</text>
<text class="c g" x="504.19" y="369.35">C1a-2</text>
<text class="c g" x="504.19" y="377">C1a-2</text>
<text class="c g" x="504.19" y="384.66">C1a-2</text>
<text class="c g" x="504.19" y="392.31">C1a-2</text>
<text class="c g" x="504.19" y="399.97">C1a-2</text>
<text class="c g" x="504.19" y="407.62">C1a-2</text>
<text class="c g" x="504.19" y="415.28">C1a-2(P)</text>
<text class="c y" x="531.48" y="338.73">B1</text>
<text class="c y" x="531.48" y="346.38">B1</text>
<text class="c y" x="531.48" y="354.04">B1</text>
<text class="c y" x="531.48" y="361.69">B1</text>
<text class="c y" x="531.48" y="369.35">B1</text>
<text class="c y" x="531.48" y="377">B1</text>
<text class="c y" x="531.48" y="384.66">B1</text>
<text class="c y" x="531.48" y="392.31">B1</text>
<text class="c y" x="531.48" y="399.97">B1</text>
<text class="c y" x="531.48" y="407.62">B1</text>
<text class="c y" x="531.48" y="415.28">B1(P)</text>
</g>
<text class="t" x="354.9" y="298.25">BLK 141</text>
<g>
<rect x="599.71" y="320.6" width="27.29" height="12.25" fill="#FFFF2E"/>
<rect x="599.71" y="332.85" width="27.29" height="7.65" fill="#FFFF2E"/>
<rect x="599.71" y="340.5" width="27.29" height="7.65" fill="#FFFF2E"/>
<rect x="599.71" y="348.16" width="27.29" height="7.65" fill="#FFFF2E"/>
<rect x="599.71" y="355.81" width="27.29" height="7.65" fill="#FFFF2E"/>
<rect x="599.71" y="363.47" width="27.29" height="7.65" fill="#FFFF2E"/>
<rect x="599.71" y="371.12" width="27.29" height="7.65" fill="#FFFF2E"/>
<rect x="599.71" y="378.78" width="27.29" height="7.65" fill="#FFFF2E"/>
<rect x="599.71" y="386.43" width="27.29" height="7.65" fill="#FFFF2E"/>
<rect x="599.71" y="394.09" width="27.29" height="7.65" fill="#FFFF2E"/>
<rect x="599.71" y="401.74" width="27.29" height="7.65" fill="#FFFF2E"/>
<rect x="599.71" y="409.4" width="27.29" height="7.65" fill="#FFFF2E"/>
<rect x="627" y="320.6" width="27.29" height="12.25" fill="#0AA048"/>
<rect x="627" y="332.85" width="27.29" height="7.65" fill="#0AA048"/>
<rect x="627" y="340.5" width="27.29" height="7.65" fill="#0AA048"/>
<rect x="627" y="348.16" width="27.29" height="7.65" fill="#0AA048"/>
<rect x="627" y="355.81" width="27.29" height="7.65" fill="#0AA048"/>
<rect x="627" y="363.47" width="27.29" height="7.65" fill="#0AA048"/>
<rect x="627" y="371.12" width="27.29" height="7.65" fill="#0AA048"/>
<rect x="627" y="378.78" width="27.29" height="7.65" fill="#0AA048"/>
<rect x="627" y="386.43" width="27.29" height="7.65" fill="#0AA048"/>
<rect x="627" y="394.09" width="27.29" height="7.65" fill="#0AA048"/>
<rect x="627" y="401.74" width="27.29" height="7.65" fill="#0AA048"/>
<rect x="627" y="409.4" width="27.29" height="7.65" fill="#0AA048"/>
<rect x="654.29" y="320.6" width="27.29" height="12.25" fill="#FF96FA"/>
<rect x="654.29" y="332.85" width="27.29" height="7.65" fill="#FF96FA"/>
<rect x="654.29" y="340.5" width="27.29" height="7.65" fill="#FF96FA"/>
<rect x="654.29" y="348.16" width="27.29" height="7.65" fill="#FF96FA"/>
<rect x="654.29" y="355.81" width="27.29" height="7.65" fill="#FF96FA"/>
<rect x="654.29" y="363.47" width="27.29" height="7.65" fill="#FF96FA"/>
<rect x="654.29" y="371.12" width="27.29" height="7.65" fill="#FF96FA"/>
<rect x="654.29" y="378.78" width="27.29" height="7.65" fill="#FF96FA"/>
<rect x="654.29" y="386.43" width="27.29" height="7.65" fill="#FF96FA"/>
<rect x="654.29" y="394.09" width="27.29" height="7.65" fill="#FF96FA"/>
<rect x="654.29" y="401.74" width="27.29" height="7.65" fill="#FF96FA"/>
<rect x="654.29" y="409.4" width="27.29" height="7.65" fill="#FF96FA"/>
<rect x="681.58" y="320.6" width="27.29" height="12.25" fill="#FF96FA"/>
<rect x="681.58" y="332.85" width="27.29" height="7.65" fill="#FF96FA"/>
<rect x="681.58" y="340.5" width="27.29" height="7.65" fill="#FF96FA"/>
<rect x="681.58" y="348.16" width="27.29" height="7.65" fill="#FF96FA"/>
<rect x="681.58" y="355.81" width="27.29" height="7.65" fill="#FF96FA"/>
<rect x="681.58" y="363.47" width="27.29" height="7.65" fill="#FF96FA"/>
<rect x="681.58" y="371.12" width="27.29" height="7.65" fill="#FF96FA"/>
<rect x="681.58" y="378.78" width="27.29" height="7.65" fill="#FF96FA"/>
<rect x="681.58" y="386.43" width="27.29" height="7.65" fill="#FF96FA"/>
<rect x="681.58" y="394.09" width="27.29" height="7.65" fill="#FF96FA"/>
<rect x="681.58" y="401.74" width="27.29" height="7.65" fill="#FF96FA"/>
<rect x="681.58" y="409.4" width="27.29" height="7.65" fill="#FF96FA"/>
<rect x="708.87" y="320.6" width="27.29" height="12.25" fill="#80F2A0"/>
<rect x="708.87" y="332.85" width="27.29" height="7.65" fill="#80F2A0"/>
<rect x="708.87" y="340.5" width="27.29" height="7.65" fill="#80F2A0"/>
<rect x="708.87" y="348.16" width="27.29" height="7.65" fill="#80F2A0"/>
<rect x="708.87" y="355.81" width="27.29" height="7.65" fill="#80F2A0"/>
<rect x="708.87" y="363.47" width="27.29" height="7.65" fill="#80F2A0"/>
<rect x="708.87" y="371.12" width="27.29" height="7.65" fill="#80F2A0"/>
<rect x="708.87" y="378.78" width="27.29" height="7.65" fill="#80F2A0"/>
<rect x="708.87" y="386.43" width="27.29" height="7.65" fill="#80F2A0"/>
<rect x="708.87" y="394.09" width="27.29" height="7.65" fill="#80F2A0"/>
<rect x="708.87" y="401.74" width="27.29" height="7.65" fill="#80F2A0"/>
<rect x="708.87" y="409.4" width="27.29" height="7.65" fill="#80F2A0"/>
<rect x="736.16" y="320.6" width="27.29" height="12.25" fill="#80F2A0"/>
<rect x="736.16" y="332.85" width="27.29" height="7.65" fill="#80F2A0"/>
<rect x="736.16" y="340.5" width="27.29" height="7.65" fill="#80F2A0"/>
<rect x="736.16" y="348.16" width="27.29" height="7.65" fill="#80F2A0"/>
<rect x="736.16" y="355.81" width="27.29" height="7.65" fill="#80F2A0"/>
<rect x="736.16" y="363.47" width="27.29" height="7.65" fill="#80F2A0"/>
<rect x="736.16" y="371.12" width="27.29" height="7.65" fill="#80F2A0"/>
<rect x="736.16" y="378.78" width="27.29" height="7.65" fill="#80F2A0"/>
<rect x="736.16" y="386.43" width="27.29" height="7.65" fill="#80F2A0"/>
<rect x="736.16" y="394.09" width="27.29" height="7.65" fill="#80F2A0"/>
<rect x="736.16" y="401.74" width="27.29" height="7.65" fill="#80F2A0"/>
<rect x="736.16" y="409.4" width="27.29" height="7.65" fill="#80F2A0"/>
<line class="ll" x1="572.42" y1="320.6" x2="599.71" y2="320.6"/>
<line x1="599.71" y1="320.6" x2="763.45" y2="320.6"/>
<line class="ll" x1="572.42" y1="332.85" x2="599.71" y2="332.85"/>
<line x1="599.71" y1="332.85" x2="763.45" y2="332.85"/>
<line class="ll" x1="572.42" y1="340.5" x2="599.71" y2="340.5"/>
<line x1="599.71" y1="340.5" x2="763.45" y2="340.5"/>
<line class="ll" x1="572.42" y1="348.16" x2="599.71" y2="348.16"/>
<line x1="599.71" y1="348.16" x2="763.45" y2="348.16"/>
<line class="ll" x1="572.42" y1="355.81" x2="599.71" y2="355.81"/>
<line x1="599.71" y1="355.81" x2="763.45" y2="355.81"/>
<line class="ll" x1="572.42" y1="363.47" x2="599.71" y2="363.47"/>
<line x1="599.71" y1="363.47" x2="763.45" y2="363.47"/>
<line class="ll" x1="572.42" y1="371.12" x2="599.71" y2="371.12"/>
<line x1="599.71" y1="371.12" x2="763.45" y2="371.12"/>
<line class="ll" x1="572.42" y1="378.78" x2="599.71" y2="378.78"/>
<line x1="599.71" y1="378.78" x2="763.45" y2="378.78"/>
<line class="ll" x1="572.42" y1="386.43" x2="599.71" y2="386.43"/>
<line x1="599.71" y1="386.43" x2="763.45" y2="386.43"/>
<line class="ll" x1="572.42" y1="394.09" x2="599.71" y2="394.09"/>
<line x1="599.71" y1="394.09" x2="763.45" y2="394.09"/>
<line class="ll" x1="572.42" y1="401.74" x2="599.71" y2="401.74"/>
<line x1="599.71" y1="401.74" x2="763.45" y2="401.74"/>
<line class="ll" x1="572.42" y1="409.4" x2="599.71" y2="409.4"/>
<line x1="599.71" y1="409.4" x2="763.45" y2="409.4"/>
<line class="hl" x1="572.42" y1="417.05" x2="763.45" y2="417.05"/>
<g class="v">
<line class="hl" x1="572.42" y1="320.6" x2="572.42" y2="417.05"/>
<line x1="599.71" y1="320.6" x2="599.71" y2="417.05"/>
<line x1="627" y1="320.6" x2="627" y2="417.05"/>
<line x1="654.29" y1="320.6" x2="654.29" y2="417.05"/>
<line x1="681.58" y1="320.6" x2="681.58" y2="417.05"/>
<line x1="708.87" y1="320.6" x2="708.87" y2="417.05"/>
<line x1="736.16" y1="320.6" x2="736.16" y2="417.05"/>
<line class="hl" x1="763.45" y1="320.6" x2="763.45" y2="417.05"/>
</g>
<g class="h">
<line x1="572.42" y1="307.5" x2="763.45" y2="307.5"/>
<line x1="572.42" y1="307.5" x2="572.42" y2="320.6"/>
<line x1="599.71" y1="307.5" x2="599.71" y2="320.6"/>
<line x1="627" y1="307.5" x2="627" y2="320.6"/>
<line x1="654.29" y1="307.5" x2="654.29" y2="320.6"/>
<line x1="681.58" y1="307.5" x2="681.58" y2="320.6"/>
<line x1="708.87" y1="307.5" x2="708.87" y2="320.6"/>
<line x1="736.16" y1="307.5" x2="736.16" y2="320.6"/>
<line x1="763.45" y1="307.5" x2="763.45" y2="320.6"/>
</g>
<line class="d" x1="572.42" y1="307.5" x2="599.71" y2="320.6"/>
<text class="s" x="587.7" y="312.3">Unit</text>
<text class="s" x="584.7" y="317.9">Stry</text>
<text x="613.36" y="315.65">55</text>
<text x="640.64" y="315.65">56</text>
<text x="667.93" y="315.65">57</text>
<text x="695.22" y="315.65">58</text>
<text x="722.51" y="315.65">59</text>
<text x="749.8" y="315.65">60</text>
<text x="586.06" y="328.33">12</text>
<text x="586.06" y="338.28">11</text>
<text x="586.06" y="345.93">10</text>
<text x="586.06" y="353.59">09</text>
<text x="586.06" y="361.24">08</text>
<text x="586.06" y="368.9">07</text>
<text x="586.06" y="376.55">06</text>
<text x="586.06" y="384.21">05</text>
<text x="586.06" y="391.86">04</text>
<text x="586.06" y="399.52">03</text>
<text x="586.06" y="407.17">02</text>
<text x="586.06" y="414.83">01</text>
<text class="c y" x="613.36" y="328.43">B1-1</text>
<text class="c y" x="613.36" y="338.38">B1-1</text>
<text class="c y" x="613.36" y="346.03">B1-1</text>
<text class="c y" x="613.36" y="353.69">B1-1</text>
<text class="c y" x="613.36" y="361.34">B1-1</text>
<text class="c y" x="613.36" y="369">B1-1</text>
<text class="c y" x="613.36" y="376.65">B1-1</text>
<text class="c y" x="613.36" y="384.31">B1-1</text>
<text class="c y" x="613.36" y="391.96">B1-1</text>
<text class="c y" x="613.36" y="399.62">B1-1</text>
<text class="c y" x="613.36" y="407.27">B1-1</text>
<text class="c y" x="613.36" y="414.93">B1-1(P)</text>
<text class="c k" x="640.64" y="328.43">C3a-2</text>
<text class="c k" x="640.64" y="338.38">C3a-2</text>
<text class="c k" x="640.64" y="346.03">C3a-2</text>
<text class="c k" x="640.64" y="353.69">C3a-2</text>
<text class="c k" x="640.64" y="361.34">C3a-2</text>
<text class="c k" x="640.64" y="369">C3a-2</text>
<text class="c k" x="640.64" y="376.65">C3a-2</text>
<text class="c k" x="640.64" y="384.31">C3a-2</text>
<text class="c k" x="640.64" y="391.96">C3a-2</text>
<text class="c k" x="640.64" y="399.62">C3a-2</text>
<text class="c k" x="640.64" y="407.27">C3a-2</text>
<text class="c k" x="640.64" y="414.93">C3a-2(P)</text>
<text class="c p" x="667.93" y="328.43">A1-6</text>
<text class="c p" x="667.93" y="338.38">A1-6</text>
<text class="c p" x="667.93" y="346.03">A1-6</text>
<text class="c p" x="667.93" y="353.69">A1-6</text>
<text class="c p" x="667.93" y="361.34">A1-6</text>
<text class="c p" x="667.93" y="369">A1-6</text>
<text class="c p" x="667.93" y="376.65">A1-6</text>
<text class="c p" x="667.93" y="384.31">A1-6</text>
<text class="c p" x="667.93" y="391.96">A1-6</text>
<text class="c p" x="667.93" y="399.62">A1-6</text>
<text class="c p" x="667.93" y="407.27">A1-6</text>
<text class="c p" x="667.93" y="414.93">A1-6(P)</text>
<text class="c p" x="695.22" y="328.43">A1-4</text>
<text class="c p" x="695.22" y="338.38">A1-4</text>
<text class="c p" x="695.22" y="346.03">A1-4</text>
<text class="c p" x="695.22" y="353.69">A1-4</text>
<text class="c p" x="695.22" y="361.34">A1-4</text>
<text class="c p" x="695.22" y="369">A1-4</text>
<text class="c p" x="695.22" y="376.65">A1-4</text>
<text class="c p" x="695.22" y="384.31">A1-4</text>
<text class="c p" x="695.22" y="391.96">A1-4</text>
<text class="c p" x="695.22" y="399.62">A1-4</text>
<text class="c p" x="695.22" y="407.27">A1-4</text>
<text class="c p" x="695.22" y="414.93">A1-4(P)</text>
<text class="c h" x="722.51" y="328.43">C1a</text>
<text class="c h" x="722.51" y="338.38">C1a</text>
<text class="c h" x="722.51" y="346.03">C1a</text>
<text class="c h" x="722.51" y="353.69">C1a</text>
<text class="c h" x="722.51" y="361.34">C1a</text>
<text class="c h" x="722.51" y="369">C1a</text>
<text class="c h" x="722.51" y="376.65">C1a</text>
<text class="c h" x="722.51" y="384.31">C1a</text>
<text class="c h" x="722.51" y="391.96">C1a</text>
<text class="c h" x="722.51" y="399.62">C1a</text>
<text class="c h" x="722.51" y="407.27">C1a</text>
<text class="c h" x="722.51" y="414.93">C1a(P)</text>
<text class="c h" x="749.8" y="328.43">C1-2</text>
<text class="c h" x="749.8" y="338.38">C1-2</text>
<text class="c h" x="749.8" y="346.03">C1-2</text>
<text class="c h" x="749.8" y="353.69">C1-2</text>
<text class="c h" x="749.8" y="361.34">C1-2</text>
<text class="c h" x="749.8" y="369">C1-2</text>
<text class="c h" x="749.8" y="376.65">C1-2</text>
<text class="c h" x="749.8" y="384.31">C1-2</text>
<text class="c h" x="749.8" y="391.96">C1-2</text>
<text class="c h" x="749.8" y="399.62">C1-2</text>
<text class="c h" x="749.8" y="407.27">C1-2</text>
<text class="c h" x="749.8" y="414.93">C1-2(P)</text>
</g>
<text class="t" x="573.22" y="298.25">BLK 143</text>
<g>
<rect x="108.49" y="461.1" width="27.29" height="7.65" fill="#FFFF2E"/>
<rect x="108.49" y="468.75" width="27.29" height="7.65" fill="#FFFF2E"/>
<rect x="108.49" y="476.41" width="27.29" height="7.65" fill="#FFFF2E"/>
<rect x="108.49" y="484.06" width="27.29" height="7.65" fill="#FFFF2E"/>
<rect x="108.49" y="491.72" width="27.29" height="7.65" fill="#FFFF2E"/>
<rect x="108.49" y="499.37" width="27.29" height="7.65" fill="#FFFF2E"/>
<rect x="108.49" y="507.03" width="27.29" height="7.65" fill="#FFFF2E"/>
<rect x="108.49" y="514.68" width="27.29" height="7.65" fill="#FFFF2E"/>
<rect x="108.49" y="522.34" width="27.29" height="7.65" fill="#FFFF2E"/>
<rect x="108.49" y="529.99" width="27.29" height="7.65" fill="#FFFF2E"/>
<rect x="108.49" y="537.65" width="27.29" height="7.65" fill="#FFFF2E"/>
<rect x="108.49" y="545.3" width="27.29" height="7.65" fill="#FFFF2E"/>
<rect x="108.49" y="552.96" width="27.29" height="7.65" fill="#FFFF2E"/>
<rect x="135.78" y="461.1" width="27.29" height="15.31" fill="#978442"/>
<rect x="135.78" y="476.41" width="27.29" height="7.65" fill="#32BEF7"/>
<rect x="135.78" y="484.06" width="27.29" height="7.65" fill="#32BEF7"/>
<rect x="135.78" y="491.72" width="27.29" height="7.65" fill="#32BEF7"/>
<rect x="135.78" y="499.37" width="27.29" height="7.65" fill="#32BEF7"/>
<rect x="135.78" y="507.03" width="27.29" height="7.65" fill="#32BEF7"/>
<rect x="135.78" y="514.68" width="27.29" height="7.65" fill="#32BEF7"/>
<rect x="135.78" y="522.34" width="27.29" height="7.65" fill="#32BEF7"/>
<rect x="135.78" y="529.99" width="27.29" height="7.65" fill="#32BEF7"/>
<rect x="135.78" y="537.65" width="27.29" height="7.65" fill="#32BEF7"/>
<rect x="135.78" y="545.3" width="27.29" height="7.65" fill="#32BEF7"/>
<rect x="135.78" y="552.96" width="27.29" height="7.65" fill="#32BEF7"/>
<rect x="163.07" y="461.1" width="27.29" height="7.65" fill="#32BEF7"/>
<rect x="163.07" y="468.75" width="27.29" height="7.65" fill="#32BEF7"/>
<rect x="163.07" y="476.41" width="27.29" height="7.65" fill="#32BEF7"/>
<rect x="163.07" y="484.06" width="27.29" height="7.65" fill="#32BEF7"/>
<rect x="163.07" y="491.72" width="27.29" height="7.65" fill="#32BEF7"/>
<rect x="163.07" y="499.37" width="27.29" height="7.65" fill="#32BEF7"/>
<rect x="163.07" y="507.03" width="27.29" height="7.65" fill="#32BEF7"/>
<rect x="163.07" y="514.68" width="27.29" height="7.65" fill="#32BEF7"/>
<rect x="163.07" y="522.34" width="27.29" height="7.65" fill="#32BEF7"/>
<rect x="163.07" y="529.99" width="27.29" height="7.65" fill="#32BEF7"/>
<rect x="163.07" y="537.65" width="27.29" height="7.65" fill="#32BEF7"/>
<rect x="163.07" y="545.3" width="27.29" height="15.31" fill="#BFBFBF"/>
<rect x="190.36" y="461.1" width="27.29" height="7.65" fill="#FFFF2E"/>
<rect x="190.36" y="468.75" width="27.29" height="7.65" fill="#FFFF2E"/>
<rect x="190.36" y="476.41" width="27.29" height="7.65" fill="#FFFF2E"/>
<rect x="190.36" y="484.06" width="27.29" height="7.65" fill="#FFFF2E"/>
<rect x="190.36" y="491.72" width="27.29" height="7.65" fill="#FFFF2E"/>
<rect x="190.36" y="499.37" width="27.29" height="7.65" fill="#FFFF2E"/>
<rect x="190.36" y="507.03" width="27.29" height="7.65" fill="#FFFF2E"/>
<rect x="190.36" y="514.68" width="27.29" height="7.65" fill="#FFFF2E"/>
<rect x="190.36" y="522.34" width="27.29" height="7.65" fill="#FFFF2E"/>
<rect x="190.36" y="529.99" width="27.29" height="7.65" fill="#FFFF2E"/>
<rect x="190.36" y="537.65" width="27.29" height="7.65" fill="#FFFF2E"/>
<rect x="190.36" y="545.3" width="27.29" height="7.65" fill="#FFFF2E"/>
<rect x="190.36" y="552.96" width="27.29" height="7.65" fill="#FFFF2E"/>
<rect x="217.65" y="461.1" width="27.29" height="7.65" fill="#9CCBFA"/>
<rect x="217.65" y="468.75" width="27.29" height="7.65" fill="#9CCBFA"/>
<rect x="217.65" y="476.41" width="27.29" height="7.65" fill="#9CCBFA"/>
<rect x="217.65" y="484.06" width="27.29" height="7.65" fill="#9CCBFA"/>
<rect x="217.65" y="491.72" width="27.29" height="7.65" fill="#9CCBFA"/>
<rect x="217.65" y="499.37" width="27.29" height="7.65" fill="#9CCBFA"/>
<rect x="217.65" y="507.03" width="27.29" height="7.65" fill="#9CCBFA"/>
<rect x="217.65" y="514.68" width="27.29" height="7.65" fill="#9CCBFA"/>
<rect x="217.65" y="522.34" width="27.29" height="7.65" fill="#9CCBFA"/>
<rect x="217.65" y="529.99" width="27.29" height="7.65" fill="#9CCBFA"/>
<rect x="217.65" y="537.65" width="27.29" height="7.65" fill="#9CCBFA"/>
<rect x="217.65" y="545.3" width="27.29" height="7.65" fill="#9CCBFA"/>
<rect x="217.65" y="552.96" width="27.29" height="7.65" fill="#9CCBFA"/>
<rect x="244.94" y="461.1" width="27.29" height="7.65" fill="#32BEF7"/>
<rect x="244.94" y="468.75" width="27.29" height="7.65" fill="#32BEF7"/>
<rect x="244.94" y="476.41" width="27.29" height="7.65" fill="#32BEF7"/>
<rect x="244.94" y="484.06" width="27.29" height="7.65" fill="#32BEF7"/>
<rect x="244.94" y="491.72" width="27.29" height="7.65" fill="#32BEF7"/>
<rect x="244.94" y="499.37" width="27.29" height="7.65" fill="#32BEF7"/>
<rect x="244.94" y="507.03" width="27.29" height="7.65" fill="#32BEF7"/>
<rect x="244.94" y="514.68" width="27.29" height="7.65" fill="#32BEF7"/>
<rect x="244.94" y="522.34" width="27.29" height="7.65" fill="#32BEF7"/>
<rect x="244.94" y="529.99" width="27.29" height="7.65" fill="#32BEF7"/>
<rect x="244.94" y="537.65" width="27.29" height="7.65" fill="#32BEF7"/>
<rect x="244.94" y="545.3" width="27.29" height="7.65" fill="#32BEF7"/>
<rect x="244.94" y="552.96" width="27.29" height="7.65" fill="#32BEF7"/>
<rect x="272.23" y="461.1" width="27.29" height="15.31" fill="#978442"/>
<rect x="272.23" y="476.41" width="27.29" height="7.65" fill="#32BEF7"/>
<rect x="272.23" y="484.06" width="27.29" height="7.65" fill="#32BEF7"/>
<rect x="272.23" y="491.72" width="27.29" height="7.65" fill="#32BEF7"/>
<rect x="272.23" y="499.37" width="27.29" height="7.65" fill="#32BEF7"/>
<rect x="272.23" y="507.03" width="27.29" height="7.65" fill="#32BEF7"/>
<rect x="272.23" y="514.68" width="27.29" height="7.65" fill="#32BEF7"/>
<rect x="272.23" y="522.34" width="27.29" height="7.65" fill="#32BEF7"/>
<rect x="272.23" y="529.99" width="27.29" height="7.65" fill="#32BEF7"/>
<rect x="272.23" y="537.65" width="27.29" height="7.65" fill="#32BEF7"/>
<rect x="272.23" y="545.3" width="27.29" height="7.65" fill="#32BEF7"/>
<rect x="272.23" y="552.96" width="27.29" height="7.65" fill="#32BEF7"/>
<rect x="299.52" y="461.1" width="27.29" height="7.65" fill="#FFFF2E"/>
<rect x="299.52" y="468.75" width="27.29" height="7.65" fill="#FFFF2E"/>
<rect x="299.52" y="476.41" width="27.29" height="7.65" fill="#FFFF2E"/>
<rect x="299.52" y="484.06" width="27.29" height="7.65" fill="#FFFF2E"/>
<rect x="299.52" y="491.72" width="27.29" height="7.65" fill="#FFFF2E"/>
<rect x="299.52" y="499.37" width="27.29" height="7.65" fill="#FFFF2E"/>
<rect x="299.52" y="507.03" width="27.29" height="7.65" fill="#FFFF2E"/>
<rect x="299.52" y="514.68" width="27.29" height="7.65" fill="#FFFF2E"/>
<rect x="299.52" y="522.34" width="27.29" height="7.65" fill="#FFFF2E"/>
<rect x="299.52" y="529.99" width="27.29" height="7.65" fill="#FFFF2E"/>
<rect x="299.52" y="537.65" width="27.29" height="7.65" fill="#FFFF2E"/>
<rect x="299.52" y="545.3" width="27.29" height="7.65" fill="#FFFF2E"/>
<rect x="299.52" y="552.96" width="27.29" height="7.65" fill="#FFFF2E"/>
<line class="ll" x1="81.2" y1="461.1" x2="108.49" y2="461.1"/>
<line x1="108.49" y1="461.1" x2="326.81" y2="461.1"/>
<line class="ll" x1="81.2" y1="468.75" x2="108.49" y2="468.75"/>
<line x1="108.49" y1="468.75" x2="326.81" y2="468.75"/>
<line class="ll" x1="81.2" y1="476.41" x2="108.49" y2="476.41"/>
<line x1="108.49" y1="476.41" x2="326.81" y2="476.41"/>
<line class="ll" x1="81.2" y1="484.06" x2="108.49" y2="484.06"/>
<line x1="108.49" y1="484.06" x2="326.81" y2="484.06"/>
<line class="ll" x1="81.2" y1="491.72" x2="108.49" y2="491.72"/>
<line x1="108.49" y1="491.72" x2="326.81" y2="491.72"/>
<line class="ll" x1="81.2" y1="499.37" x2="108.49" y2="499.37"/>
<line x1="108.49" y1="499.37" x2="326.81" y2="499.37"/>
<line class="ll" x1="81.2" y1="507.03" x2="108.49" y2="507.03"/>
<line x1="108.49" y1="507.03" x2="326.81" y2="507.03"/>
<line class="ll" x1="81.2" y1="514.68" x2="108.49" y2="514.68"/>
<line x1="108.49" y1="514.68" x2="326.81" y2="514.68"/>
<line class="ll" x1="81.2" y1="522.34" x2="108.49" y2="522.34"/>
<line x1="108.49" y1="522.34" x2="326.81" y2="522.34"/>
<line class="ll" x1="81.2" y1="529.99" x2="108.49" y2="529.99"/>
<line x1="108.49" y1="529.99" x2="326.81" y2="529.99"/>
<line class="ll" x1="81.2" y1="537.65" x2="108.49" y2="537.65"/>
<line x1="108.49" y1="537.65" x2="326.81" y2="537.65"/>
<line class="ll" x1="81.2" y1="545.3" x2="108.49" y2="545.3"/>
<line x1="108.49" y1="545.3" x2="326.81" y2="545.3"/>
<line class="ll" x1="81.2" y1="552.96" x2="108.49" y2="552.96"/>
<line x1="108.49" y1="552.96" x2="326.81" y2="552.96"/>
<line class="hl" x1="81.2" y1="560.61" x2="326.81" y2="560.61"/>
<g class="v">
<line class="hl" x1="81.2" y1="461.1" x2="81.2" y2="560.61"/>
<line x1="108.49" y1="461.1" x2="108.49" y2="560.61"/>
<line x1="135.78" y1="461.1" x2="135.78" y2="560.61"/>
<line x1="163.07" y1="461.1" x2="163.07" y2="560.61"/>
<line x1="190.36" y1="461.1" x2="190.36" y2="560.61"/>
<line x1="217.65" y1="461.1" x2="217.65" y2="560.61"/>
<line x1="244.94" y1="461.1" x2="244.94" y2="560.61"/>
<line x1="272.23" y1="461.1" x2="272.23" y2="560.61"/>
<line x1="299.52" y1="461.1" x2="299.52" y2="560.61"/>
<line class="hl" x1="326.81" y1="461.1" x2="326.81" y2="560.61"/>
</g>
<g class="h">
<line x1="81.2" y1="448" x2="326.81" y2="448"/>
<line x1="81.2" y1="448" x2="81.2" y2="461.1"/>
<line x1="108.49" y1="448" x2="108.49" y2="461.1"/>
<line x1="135.78" y1="448" x2="135.78" y2="461.1"/>
<line x1="163.07" y1="448" x2="163.07" y2="461.1"/>
<line x1="190.36" y1="448" x2="190.36" y2="461.1"/>
<line x1="217.65" y1="448" x2="217.65" y2="461.1"/>
<line x1="244.94" y1="448" x2="244.94" y2="461.1"/>
<line x1="272.23" y1="448" x2="272.23" y2="461.1"/>
<line x1="299.52" y1="448" x2="299.52" y2="461.1"/>
<line x1="326.81" y1="448" x2="326.81" y2="461.1"/>
</g>
<rect x="163.29" y="545.53" width="26.84" height="14.86" fill="#BFBFBF"/>
<line class="d" x1="81.2" y1="448" x2="108.49" y2="461.1"/>
<text class="s" x="96.48" y="452.8">Unit</text>
<text class="s" x="93.48" y="458.4">Stry</text>
<text x="122.14" y="456.15">61</text>
<text x="149.43" y="456.15">62</text>
<text x="176.72" y="456.15">63</text>
<text x="204" y="456.15">64</text>
<text x="231.3" y="456.15">65</text>
<text x="258.58" y="456.15">66</text>
<text x="285.88" y="456.15">67</text>
<text x="313.17" y="456.15">68</text>
<text x="94.84" y="466.53">13</text>
<text x="94.84" y="474.18">12</text>
<text x="94.84" y="481.84">11</text>
<text x="94.84" y="489.49">10</text>
<text x="94.84" y="497.15">09</text>
<text x="94.84" y="504.8">08</text>
<text x="94.84" y="512.46">07</text>
<text x="94.84" y="520.11">06</text>
<text x="94.84" y="527.77">05</text>
<text x="94.84" y="535.42">04</text>
<text x="94.84" y="543.08">03</text>
<text x="94.84" y="550.73">02</text>
<text x="94.84" y="558.39">01</text>
<text class="c y" x="122.14" y="466.63">B1-5</text>
<text class="c y" x="122.14" y="474.28">B1-5</text>
<text class="c y" x="122.14" y="481.94">B1-5</text>
<text class="c y" x="122.14" y="489.59">B1-5</text>
<text class="c y" x="122.14" y="497.25">B1-5</text>
<text class="c y" x="122.14" y="504.9">B1-5</text>
<text class="c y" x="122.14" y="512.56">B1-5</text>
<text class="c y" x="122.14" y="520.21">B1-5</text>
<text class="c y" x="122.14" y="527.87">B1-5</text>
<text class="c y" x="122.14" y="535.52">B1-5</text>
<text class="c y" x="122.14" y="543.18">B1-5</text>
<text class="c y" x="122.14" y="550.83">B1-5</text>
<text class="c y" x="122.14" y="558.49">B1-5(P)</text>
<text class="c n" x="149.43" y="474.28">P1-2</text>
<text class="c b" x="149.43" y="481.94">D2-2</text>
<text class="c b" x="149.43" y="489.59">D2-2</text>
<text class="c b" x="149.43" y="497.25">D2-2</text>
<text class="c b" x="149.43" y="504.9">D2-2</text>
<text class="c b" x="149.43" y="512.56">D2-2</text>
<text class="c b" x="149.43" y="520.21">D2-2</text>
<text class="c b" x="149.43" y="527.87">D2-2</text>
<text class="c b" x="149.43" y="535.52">D2-2</text>
<text class="c b" x="149.43" y="543.18">D2-2</text>
<text class="c b" x="149.43" y="550.83">D2-2</text>
<text class="c b" x="149.43" y="558.49">D2-2(P)</text>
<text class="c b" x="176.72" y="466.63">D2</text>
<text class="c b" x="176.72" y="474.28">D2</text>
<text class="c b" x="176.72" y="481.94">D2</text>
<text class="c b" x="176.72" y="489.59">D2</text>
<text class="c b" x="176.72" y="497.25">D2</text>
<text class="c b" x="176.72" y="504.9">D2</text>
<text class="c b" x="176.72" y="512.56">D2</text>
<text class="c b" x="176.72" y="520.21">D2</text>
<text class="c b" x="176.72" y="527.87">D2</text>
<text class="c b" x="176.72" y="535.52">D2</text>
<text class="c b" x="176.72" y="543.18">D2</text>
<text class="c y" x="204" y="466.63">B1-4</text>
<text class="c y" x="204" y="474.28">B1-4</text>
<text class="c y" x="204" y="481.94">B1-4</text>
<text class="c y" x="204" y="489.59">B1-4</text>
<text class="c y" x="204" y="497.25">B1-4</text>
<text class="c y" x="204" y="504.9">B1-4</text>
<text class="c y" x="204" y="512.56">B1-4</text>
<text class="c y" x="204" y="520.21">B1-4</text>
<text class="c y" x="204" y="527.87">B1-4</text>
<text class="c y" x="204" y="535.52">B1-4</text>
<text class="c y" x="204" y="543.18">B1-4</text>
<text class="c y" x="204" y="550.83">B1-4</text>
<text class="c y" x="204" y="558.49">B1-4(P)</text>
<text class="c l" x="231.3" y="466.63">D1-2</text>
<text class="c l" x="231.3" y="474.28">D1-2</text>
<text class="c l" x="231.3" y="481.94">D1-2</text>
<text class="c l" x="231.3" y="489.59">D1-2</text>
<text class="c l" x="231.3" y="497.25">D1-2</text>
<text class="c l" x="231.3" y="504.9">D1-2</text>
<text class="c l" x="231.3" y="512.56">D1-2</text>
<text class="c l" x="231.3" y="520.21">D1-2</text>
<text class="c l" x="231.3" y="527.87">D1-2</text>
<text class="c l" x="231.3" y="535.52">D1-2</text>
<text class="c l" x="231.3" y="543.18">D1-2</text>
<text class="c l" x="231.3" y="550.83">D1-2</text>
<text class="c l" x="231.3" y="558.49">D1-2(P)</text>
<text class="c b" x="258.58" y="466.63">D2</text>
<text class="c b" x="258.58" y="474.28">D2</text>
<text class="c b" x="258.58" y="481.94">D2</text>
<text class="c b" x="258.58" y="489.59">D2</text>
<text class="c b" x="258.58" y="497.25">D2</text>
<text class="c b" x="258.58" y="504.9">D2</text>
<text class="c b" x="258.58" y="512.56">D2</text>
<text class="c b" x="258.58" y="520.21">D2</text>
<text class="c b" x="258.58" y="527.87">D2</text>
<text class="c b" x="258.58" y="535.52">D2</text>
<text class="c b" x="258.58" y="543.18">D2</text>
<text class="c b" x="258.58" y="550.83">D2</text>
<text class="c b" x="258.58" y="558.49">D2(P)</text>
<text class="c n" x="285.88" y="474.28">P1-2</text>
<text class="c b" x="285.88" y="481.94">D2-2</text>
<text class="c b" x="285.88" y="489.59">D2-2</text>
<text class="c b" x="285.88" y="497.25">D2-2</text>
<text class="c b" x="285.88" y="504.9">D2-2</text>
<text class="c b" x="285.88" y="512.56">D2-2</text>
<text class="c b" x="285.88" y="520.21">D2-2</text>
<text class="c b" x="285.88" y="527.87">D2-2</text>
<text class="c b" x="285.88" y="535.52">D2-2</text>
<text class="c b" x="285.88" y="543.18">D2-2</text>
<text class="c b" x="285.88" y="550.83">D2-2</text>
<text class="c b" x="285.88" y="558.49">D2-2(P)</text>
<text class="c y" x="313.17" y="466.63">B1-5</text>
<text class="c y" x="313.17" y="474.28">B1-5</text>
<text class="c y" x="313.17" y="481.94">B1-5</text>
<text class="c y" x="313.17" y="489.59">B1-5</text>
<text class="c y" x="313.17" y="497.25">B1-5</text>
<text class="c y" x="313.17" y="504.9">B1-5</text>
<text class="c y" x="313.17" y="512.56">B1-5</text>
<text class="c y" x="313.17" y="520.21">B1-5</text>
<text class="c y" x="313.17" y="527.87">B1-5</text>
<text class="c y" x="313.17" y="535.52">B1-5</text>
<text class="c y" x="313.17" y="543.18">B1-5</text>
<text class="c y" x="313.17" y="550.83">B1-5</text>
<text class="c y" x="313.17" y="558.49">B1-5(P)</text>
</g>
<text class="t" x="82" y="439.25">BLK 145</text>
<g>
<rect x="381.39" y="468.75" width="27.29" height="7.65" fill="#9CCBFA"/>
<rect x="381.39" y="476.41" width="27.29" height="7.65" fill="#9CCBFA"/>
<rect x="381.39" y="484.06" width="27.29" height="7.65" fill="#9CCBFA"/>
<rect x="381.39" y="491.72" width="27.29" height="7.65" fill="#9CCBFA"/>
<rect x="381.39" y="499.37" width="27.29" height="7.65" fill="#9CCBFA"/>
<rect x="381.39" y="507.03" width="27.29" height="7.65" fill="#9CCBFA"/>
<rect x="381.39" y="514.68" width="27.29" height="7.65" fill="#9CCBFA"/>
<rect x="381.39" y="522.34" width="27.29" height="7.65" fill="#9CCBFA"/>
<rect x="381.39" y="529.99" width="27.29" height="7.65" fill="#9CCBFA"/>
<rect x="381.39" y="537.65" width="27.29" height="7.65" fill="#9CCBFA"/>
<rect x="381.39" y="545.3" width="27.29" height="7.65" fill="#9CCBFA"/>
<rect x="381.39" y="552.96" width="27.29" height="7.65" fill="#9CCBFA"/>
<rect x="408.68" y="468.75" width="27.29" height="7.65" fill="#0AA048"/>
<rect x="408.68" y="476.41" width="27.29" height="7.65" fill="#0AA048"/>
<rect x="408.68" y="484.06" width="27.29" height="7.65" fill="#0AA048"/>
<rect x="408.68" y="491.72" width="27.29" height="7.65" fill="#0AA048"/>
<rect x="408.68" y="499.37" width="27.29" height="7.65" fill="#0AA048"/>
<rect x="408.68" y="507.03" width="27.29" height="7.65" fill="#0AA048"/>
<rect x="408.68" y="514.68" width="27.29" height="7.65" fill="#0AA048"/>
<rect x="408.68" y="522.34" width="27.29" height="7.65" fill="#0AA048"/>
<rect x="408.68" y="529.99" width="27.29" height="7.65" fill="#0AA048"/>
<rect x="408.68" y="537.65" width="27.29" height="7.65" fill="#0AA048"/>
<rect x="408.68" y="545.3" width="27.29" height="7.65" fill="#0AA048"/>
<rect x="408.68" y="552.96" width="27.29" height="7.65" fill="#0AA048"/>
<rect x="435.97" y="468.75" width="27.29" height="7.65" fill="#FF96FA"/>
<rect x="435.97" y="476.41" width="27.29" height="7.65" fill="#FF96FA"/>
<rect x="435.97" y="484.06" width="27.29" height="7.65" fill="#FF96FA"/>
<rect x="435.97" y="491.72" width="27.29" height="7.65" fill="#FF96FA"/>
<rect x="435.97" y="499.37" width="27.29" height="7.65" fill="#FF96FA"/>
<rect x="435.97" y="507.03" width="27.29" height="7.65" fill="#FF96FA"/>
<rect x="435.97" y="514.68" width="27.29" height="7.65" fill="#FF96FA"/>
<rect x="435.97" y="522.34" width="27.29" height="7.65" fill="#FF96FA"/>
<rect x="435.97" y="529.99" width="27.29" height="7.65" fill="#FF96FA"/>
<rect x="435.97" y="537.65" width="27.29" height="7.65" fill="#FF96FA"/>
<rect x="435.97" y="545.3" width="27.29" height="7.65" fill="#FF96FA"/>
<rect x="435.97" y="552.96" width="27.29" height="7.65" fill="#FF96FA"/>
<rect x="463.26" y="468.75" width="27.29" height="7.65" fill="#FF96FA"/>
<rect x="463.26" y="476.41" width="27.29" height="7.65" fill="#FF96FA"/>
<rect x="463.26" y="484.06" width="27.29" height="7.65" fill="#FF96FA"/>
<rect x="463.26" y="491.72" width="27.29" height="7.65" fill="#FF96FA"/>
<rect x="463.26" y="499.37" width="27.29" height="7.65" fill="#FF96FA"/>
<rect x="463.26" y="507.03" width="27.29" height="7.65" fill="#FF96FA"/>
<rect x="463.26" y="514.68" width="27.29" height="7.65" fill="#FF96FA"/>
<rect x="463.26" y="522.34" width="27.29" height="7.65" fill="#FF96FA"/>
<rect x="463.26" y="529.99" width="27.29" height="7.65" fill="#FF96FA"/>
<rect x="463.26" y="537.65" width="27.29" height="7.65" fill="#FF96FA"/>
<rect x="463.26" y="545.3" width="27.29" height="7.65" fill="#FF96FA"/>
<rect x="463.26" y="552.96" width="27.29" height="7.65" fill="#FF96FA"/>
<rect x="490.55" y="468.75" width="27.29" height="7.65" fill="#80F2A0"/>
<rect x="490.55" y="476.41" width="27.29" height="7.65" fill="#80F2A0"/>
<rect x="490.55" y="484.06" width="27.29" height="7.65" fill="#80F2A0"/>
<rect x="490.55" y="491.72" width="27.29" height="7.65" fill="#80F2A0"/>
<rect x="490.55" y="499.37" width="27.29" height="7.65" fill="#80F2A0"/>
<rect x="490.55" y="507.03" width="27.29" height="7.65" fill="#80F2A0"/>
<rect x="490.55" y="514.68" width="27.29" height="7.65" fill="#80F2A0"/>
<rect x="490.55" y="522.34" width="27.29" height="7.65" fill="#80F2A0"/>
<rect x="490.55" y="529.99" width="27.29" height="7.65" fill="#80F2A0"/>
<rect x="490.55" y="537.65" width="27.29" height="7.65" fill="#80F2A0"/>
<rect x="490.55" y="545.3" width="27.29" height="7.65" fill="#80F2A0"/>
<rect x="490.55" y="552.96" width="27.29" height="7.65" fill="#80F2A0"/>
<rect x="517.84" y="468.75" width="27.29" height="7.65" fill="#9CCBFA"/>
<rect x="517.84" y="476.41" width="27.29" height="7.65" fill="#9CCBFA"/>
<rect x="517.84" y="484.06" width="27.29" height="7.65" fill="#9CCBFA"/>
<rect x="517.84" y="491.72" width="27.29" height="7.65" fill="#9CCBFA"/>
<rect x="517.84" y="499.37" width="27.29" height="7.65" fill="#9CCBFA"/>
<rect x="517.84" y="507.03" width="27.29" height="7.65" fill="#9CCBFA"/>
<rect x="517.84" y="514.68" width="27.29" height="7.65" fill="#9CCBFA"/>
<rect x="517.84" y="522.34" width="27.29" height="7.65" fill="#9CCBFA"/>
<rect x="517.84" y="529.99" width="27.29" height="7.65" fill="#9CCBFA"/>
<rect x="517.84" y="537.65" width="27.29" height="7.65" fill="#9CCBFA"/>
<rect x="517.84" y="545.3" width="27.29" height="7.65" fill="#9CCBFA"/>
<rect x="517.84" y="552.96" width="27.29" height="7.65" fill="#9CCBFA"/>
<line class="hl" x1="354.1" y1="461.1" x2="545.13" y2="461.1"/>
<line class="ll" x1="354.1" y1="468.75" x2="381.39" y2="468.75"/>
<line x1="381.39" y1="468.75" x2="545.13" y2="468.75"/>
<line class="ll" x1="354.1" y1="476.41" x2="381.39" y2="476.41"/>
<line x1="381.39" y1="476.41" x2="545.13" y2="476.41"/>
<line class="ll" x1="354.1" y1="484.06" x2="381.39" y2="484.06"/>
<line x1="381.39" y1="484.06" x2="545.13" y2="484.06"/>
<line class="ll" x1="354.1" y1="491.72" x2="381.39" y2="491.72"/>
<line x1="381.39" y1="491.72" x2="545.13" y2="491.72"/>
<line class="ll" x1="354.1" y1="499.37" x2="381.39" y2="499.37"/>
<line x1="381.39" y1="499.37" x2="545.13" y2="499.37"/>
<line class="ll" x1="354.1" y1="507.03" x2="381.39" y2="507.03"/>
<line x1="381.39" y1="507.03" x2="545.13" y2="507.03"/>
<line class="ll" x1="354.1" y1="514.68" x2="381.39" y2="514.68"/>
<line x1="381.39" y1="514.68" x2="545.13" y2="514.68"/>
<line class="ll" x1="354.1" y1="522.34" x2="381.39" y2="522.34"/>
<line x1="381.39" y1="522.34" x2="545.13" y2="522.34"/>
<line class="ll" x1="354.1" y1="529.99" x2="381.39" y2="529.99"/>
<line x1="381.39" y1="529.99" x2="545.13" y2="529.99"/>
<line class="ll" x1="354.1" y1="537.65" x2="381.39" y2="537.65"/>
<line x1="381.39" y1="537.65" x2="545.13" y2="537.65"/>
<line class="ll" x1="354.1" y1="545.3" x2="381.39" y2="545.3"/>
<line x1="381.39" y1="545.3" x2="545.13" y2="545.3"/>
<line class="ll" x1="354.1" y1="552.96" x2="381.39" y2="552.96"/>
<line x1="381.39" y1="552.96" x2="545.13" y2="552.96"/>
<line class="hl" x1="354.1" y1="560.61" x2="545.13" y2="560.61"/>
<g class="v">
<line class="hl" x1="354.1" y1="461.1" x2="354.1" y2="560.61"/>
<line x1="381.39" y1="461.1" x2="381.39" y2="560.61"/>
<line x1="408.68" y1="461.1" x2="408.68" y2="560.61"/>
<line x1="435.97" y1="461.1" x2="435.97" y2="560.61"/>
<line x1="463.26" y1="461.1" x2="463.26" y2="560.61"/>
<line x1="490.55" y1="461.1" x2="490.55" y2="560.61"/>
<line x1="517.84" y1="461.1" x2="517.84" y2="560.61"/>
<line class="hl" x1="545.13" y1="461.1" x2="545.13" y2="560.61"/>
</g>
<g class="h">
<line x1="354.1" y1="448" x2="545.13" y2="448"/>
<line x1="354.1" y1="448" x2="354.1" y2="461.1"/>
<line x1="381.39" y1="448" x2="381.39" y2="461.1"/>
<line x1="408.68" y1="448" x2="408.68" y2="461.1"/>
<line x1="435.97" y1="448" x2="435.97" y2="461.1"/>
<line x1="463.26" y1="448" x2="463.26" y2="461.1"/>
<line x1="490.55" y1="448" x2="490.55" y2="461.1"/>
<line x1="517.84" y1="448" x2="517.84" y2="461.1"/>
<line x1="545.13" y1="448" x2="545.13" y2="461.1"/>
</g>
<line class="d" x1="354.1" y1="448" x2="381.39" y2="461.1"/>
<text class="s" x="369.38" y="452.8">Unit</text>
<text class="s" x="366.38" y="458.4">Stry</text>
<text x="395.03" y="456.15">69</text>
<text x="422.32" y="456.15">70</text>
<text x="449.61" y="456.15">71</text>
<text x="476.9" y="456.15">72</text>
<text x="504.19" y="456.15">73</text>
<text x="531.48" y="456.15">74</text>
<text x="367.74" y="474.18">12</text>
<text x="367.74" y="481.84">11</text>
<text x="367.74" y="489.49">10</text>
<text x="367.74" y="497.15">09</text>
<text x="367.74" y="504.8">08</text>
<text x="367.74" y="512.46">07</text>
<text x="367.74" y="520.11">06</text>
<text x="367.74" y="527.77">05</text>
<text x="367.74" y="535.42">04</text>
<text x="367.74" y="543.08">03</text>
<text x="367.74" y="550.73">02</text>
<text x="367.74" y="558.39">01</text>
<text class="c l" x="395.03" y="474.28">D1</text>
<text class="c l" x="395.03" y="481.94">D1</text>
<text class="c l" x="395.03" y="489.59">D1</text>
<text class="c l" x="395.03" y="497.25">D1</text>
<text class="c l" x="395.03" y="504.9">D1</text>
<text class="c l" x="395.03" y="512.56">D1</text>
<text class="c l" x="395.03" y="520.21">D1</text>
<text class="c l" x="395.03" y="527.87">D1</text>
<text class="c l" x="395.03" y="535.52">D1</text>
<text class="c l" x="395.03" y="543.18">D1</text>
<text class="c l" x="395.03" y="550.83">D1</text>
<text class="c l" x="395.03" y="558.49">D1(P)</text>
<text class="c k" x="422.32" y="474.28">C3a-1</text>
<text class="c k" x="422.32" y="481.94">C3a-1</text>
<text class="c k" x="422.32" y="489.59">C3a-1</text>
<text class="c k" x="422.32" y="497.25">C3a-1</text>
<text class="c k" x="422.32" y="504.9">C3a-1</text>
<text class="c k" x="422.32" y="512.56">C3a-1</text>
<text class="c k" x="422.32" y="520.21">C3a-1</text>
<text class="c k" x="422.32" y="527.87">C3a-1</text>
<text class="c k" x="422.32" y="535.52">C3a-1</text>
<text class="c k" x="422.32" y="543.18">C3a-1</text>
<text class="c k" x="422.32" y="550.83">C3a-1</text>
<text class="c k" x="422.32" y="558.49">C3a-1(P)</text>
<text class="c p" x="449.61" y="474.28">A1-6</text>
<text class="c p" x="449.61" y="481.94">A1-6</text>
<text class="c p" x="449.61" y="489.59">A1-6</text>
<text class="c p" x="449.61" y="497.25">A1-6</text>
<text class="c p" x="449.61" y="504.9">A1-6</text>
<text class="c p" x="449.61" y="512.56">A1-6</text>
<text class="c p" x="449.61" y="520.21">A1-6</text>
<text class="c p" x="449.61" y="527.87">A1-6</text>
<text class="c p" x="449.61" y="535.52">A1-6</text>
<text class="c p" x="449.61" y="543.18">A1-6</text>
<text class="c p" x="449.61" y="550.83">A1-6</text>
<text class="c p" x="449.61" y="558.49">A1-6(P)</text>
<text class="c p" x="476.9" y="474.28">A1-4</text>
<text class="c p" x="476.9" y="481.94">A1-4</text>
<text class="c p" x="476.9" y="489.59">A1-4</text>
<text class="c p" x="476.9" y="497.25">A1-4</text>
<text class="c p" x="476.9" y="504.9">A1-4</text>
<text class="c p" x="476.9" y="512.56">A1-4</text>
<text class="c p" x="476.9" y="520.21">A1-4</text>
<text class="c p" x="476.9" y="527.87">A1-4</text>
<text class="c p" x="476.9" y="535.52">A1-4</text>
<text class="c p" x="476.9" y="543.18">A1-4</text>
<text class="c p" x="476.9" y="550.83">A1-4</text>
<text class="c p" x="476.9" y="558.49">A1-4(P)</text>
<text class="c h" x="504.19" y="474.28">C2a-1</text>
<text class="c h" x="504.19" y="481.94">C2a-1</text>
<text class="c h" x="504.19" y="489.59">C2a-1</text>
<text class="c h" x="504.19" y="497.25">C2a-1</text>
<text class="c h" x="504.19" y="504.9">C2a-1</text>
<text class="c h" x="504.19" y="512.56">C2a-1</text>
<text class="c h" x="504.19" y="520.21">C2a-1</text>
<text class="c h" x="504.19" y="527.87">C2a-1</text>
<text class="c h" x="504.19" y="535.52">C2a-1</text>
<text class="c h" x="504.19" y="543.18">C2a-1</text>
<text class="c h" x="504.19" y="550.83">C2a-1</text>
<text class="c h" x="504.19" y="558.49">C2a-1(P)</text>
<text class="c l" x="531.48" y="474.28">D1-1</text>
<text class="c l" x="531.48" y="481.94">D1-1</text>
<text class="c l" x="531.48" y="489.59">D1-1</text>
<text class="c l" x="531.48" y="497.25">D1-1</text>
<text class="c l" x="531.48" y="504.9">D1-1</text>
<text class="c l" x="531.48" y="512.56">D1-1</text>
<text class="c l" x="531.48" y="520.21">D1-1</text>
<text class="c l" x="531.48" y="527.87">D1-1</text>
<text class="c l" x="531.48" y="535.52">D1-1</text>
<text class="c l" x="531.48" y="543.18">D1-1</text>
<text class="c l" x="531.48" y="550.83">D1-1</text>
<text class="c l" x="531.48" y="558.49">D1-1(P)</text>
</g>
<text class="t" x="354.9" y="439.25">BLK 147</text>
<g>
<rect x="599.71" y="468.75" width="27.29" height="7.65" fill="#80F2A0"/>
<rect x="599.71" y="476.41" width="27.29" height="7.65" fill="#80F2A0"/>
<rect x="599.71" y="484.06" width="27.29" height="7.65" fill="#80F2A0"/>
<rect x="599.71" y="491.72" width="27.29" height="7.65" fill="#80F2A0"/>
<rect x="599.71" y="499.37" width="27.29" height="7.65" fill="#80F2A0"/>
<rect x="599.71" y="507.03" width="27.29" height="7.65" fill="#80F2A0"/>
<rect x="599.71" y="514.68" width="27.29" height="7.65" fill="#80F2A0"/>
<rect x="599.71" y="522.34" width="27.29" height="7.65" fill="#80F2A0"/>
<rect x="599.71" y="529.99" width="27.29" height="7.65" fill="#80F2A0"/>
<rect x="599.71" y="537.65" width="27.29" height="7.65" fill="#80F2A0"/>
<rect x="599.71" y="545.3" width="27.29" height="7.65" fill="#80F2A0"/>
<rect x="599.71" y="552.96" width="27.29" height="7.65" fill="#80F2A0"/>
<rect x="627" y="468.75" width="27.29" height="15.31" fill="#978442"/>
<rect x="627" y="484.06" width="27.29" height="7.65" fill="#32BEF7"/>
<rect x="627" y="491.72" width="27.29" height="7.65" fill="#32BEF7"/>
<rect x="627" y="499.37" width="27.29" height="7.65" fill="#32BEF7"/>
<rect x="627" y="507.03" width="27.29" height="7.65" fill="#32BEF7"/>
<rect x="627" y="514.68" width="27.29" height="7.65" fill="#32BEF7"/>
<rect x="627" y="522.34" width="27.29" height="7.65" fill="#32BEF7"/>
<rect x="627" y="529.99" width="27.29" height="7.65" fill="#32BEF7"/>
<rect x="627" y="537.65" width="27.29" height="7.65" fill="#32BEF7"/>
<rect x="627" y="545.3" width="27.29" height="7.65" fill="#32BEF7"/>
<rect x="627" y="552.96" width="27.29" height="7.65" fill="#32BEF7"/>
<rect x="654.29" y="468.75" width="27.29" height="15.31" fill="#978442"/>
<rect x="654.29" y="484.06" width="27.29" height="7.65" fill="#D05CF6"/>
<rect x="654.29" y="491.72" width="27.29" height="7.65" fill="#D05CF6"/>
<rect x="654.29" y="499.37" width="27.29" height="7.65" fill="#D05CF6"/>
<rect x="654.29" y="507.03" width="27.29" height="7.65" fill="#D05CF6"/>
<rect x="654.29" y="514.68" width="27.29" height="7.65" fill="#D05CF6"/>
<rect x="654.29" y="522.34" width="27.29" height="7.65" fill="#D05CF6"/>
<rect x="654.29" y="529.99" width="27.29" height="7.65" fill="#D05CF6"/>
<rect x="654.29" y="537.65" width="27.29" height="7.65" fill="#D05CF6"/>
<rect x="654.29" y="545.3" width="27.29" height="7.65" fill="#D05CF6"/>
<rect x="654.29" y="552.96" width="27.29" height="7.65" fill="#D05CF6"/>
<rect x="681.58" y="468.75" width="27.29" height="7.65" fill="#9CCBFA"/>
<rect x="681.58" y="476.41" width="27.29" height="7.65" fill="#9CCBFA"/>
<rect x="681.58" y="484.06" width="27.29" height="7.65" fill="#9CCBFA"/>
<rect x="681.58" y="491.72" width="27.29" height="7.65" fill="#9CCBFA"/>
<rect x="681.58" y="499.37" width="27.29" height="7.65" fill="#9CCBFA"/>
<rect x="681.58" y="507.03" width="27.29" height="7.65" fill="#9CCBFA"/>
<rect x="681.58" y="514.68" width="27.29" height="7.65" fill="#9CCBFA"/>
<rect x="681.58" y="522.34" width="27.29" height="7.65" fill="#9CCBFA"/>
<rect x="681.58" y="529.99" width="27.29" height="7.65" fill="#9CCBFA"/>
<rect x="681.58" y="537.65" width="27.29" height="7.65" fill="#9CCBFA"/>
<rect x="681.58" y="545.3" width="27.29" height="7.65" fill="#9CCBFA"/>
<rect x="681.58" y="552.96" width="27.29" height="7.65" fill="#9CCBFA"/>
<rect x="708.87" y="468.75" width="27.29" height="7.65" fill="#9CCBFA"/>
<rect x="708.87" y="476.41" width="27.29" height="7.65" fill="#9CCBFA"/>
<rect x="708.87" y="484.06" width="27.29" height="7.65" fill="#9CCBFA"/>
<rect x="708.87" y="491.72" width="27.29" height="7.65" fill="#9CCBFA"/>
<rect x="708.87" y="499.37" width="27.29" height="7.65" fill="#9CCBFA"/>
<rect x="708.87" y="507.03" width="27.29" height="7.65" fill="#9CCBFA"/>
<rect x="708.87" y="514.68" width="27.29" height="7.65" fill="#9CCBFA"/>
<rect x="708.87" y="522.34" width="27.29" height="7.65" fill="#9CCBFA"/>
<rect x="708.87" y="529.99" width="27.29" height="7.65" fill="#9CCBFA"/>
<rect x="708.87" y="537.65" width="27.29" height="7.65" fill="#9CCBFA"/>
<rect x="708.87" y="545.3" width="27.29" height="7.65" fill="#9CCBFA"/>
<rect x="708.87" y="552.96" width="27.29" height="7.65" fill="#9CCBFA"/>
<rect x="736.16" y="468.75" width="27.29" height="15.31" fill="#978442"/>
<rect x="736.16" y="484.06" width="27.29" height="7.65" fill="#D05CF6"/>
<rect x="736.16" y="491.72" width="27.29" height="7.65" fill="#D05CF6"/>
<rect x="736.16" y="499.37" width="27.29" height="7.65" fill="#D05CF6"/>
<rect x="736.16" y="507.03" width="27.29" height="7.65" fill="#D05CF6"/>
<rect x="736.16" y="514.68" width="27.29" height="7.65" fill="#D05CF6"/>
<rect x="736.16" y="522.34" width="27.29" height="7.65" fill="#D05CF6"/>
<rect x="736.16" y="529.99" width="27.29" height="7.65" fill="#D05CF6"/>
<rect x="736.16" y="537.65" width="27.29" height="7.65" fill="#D05CF6"/>
<rect x="736.16" y="545.3" width="27.29" height="7.65" fill="#D05CF6"/>
<rect x="736.16" y="552.96" width="27.29" height="7.65" fill="#D05CF6"/>
<rect x="763.45" y="468.75" width="27.29" height="15.31" fill="#978442"/>
<rect x="763.45" y="484.06" width="27.29" height="7.65" fill="#32BEF7"/>
<rect x="763.45" y="491.72" width="27.29" height="7.65" fill="#32BEF7"/>
<rect x="763.45" y="499.37" width="27.29" height="7.65" fill="#32BEF7"/>
<rect x="763.45" y="507.03" width="27.29" height="7.65" fill="#32BEF7"/>
<rect x="763.45" y="514.68" width="27.29" height="7.65" fill="#32BEF7"/>
<rect x="763.45" y="522.34" width="27.29" height="7.65" fill="#32BEF7"/>
<rect x="763.45" y="529.99" width="27.29" height="7.65" fill="#32BEF7"/>
<rect x="763.45" y="537.65" width="27.29" height="7.65" fill="#32BEF7"/>
<rect x="763.45" y="545.3" width="27.29" height="7.65" fill="#32BEF7"/>
<rect x="763.45" y="552.96" width="27.29" height="7.65" fill="#32BEF7"/>
<rect x="790.74" y="468.75" width="27.29" height="7.65" fill="#FFFF2E"/>
<rect x="790.74" y="476.41" width="27.29" height="7.65" fill="#FFFF2E"/>
<rect x="790.74" y="484.06" width="27.29" height="7.65" fill="#FFFF2E"/>
<rect x="790.74" y="491.72" width="27.29" height="7.65" fill="#FFFF2E"/>
<rect x="790.74" y="499.37" width="27.29" height="7.65" fill="#FFFF2E"/>
<rect x="790.74" y="507.03" width="27.29" height="7.65" fill="#FFFF2E"/>
<rect x="790.74" y="514.68" width="27.29" height="7.65" fill="#FFFF2E"/>
<rect x="790.74" y="522.34" width="27.29" height="7.65" fill="#FFFF2E"/>
<rect x="790.74" y="529.99" width="27.29" height="7.65" fill="#FFFF2E"/>
<rect x="790.74" y="537.65" width="27.29" height="7.65" fill="#FFFF2E"/>
<rect x="790.74" y="545.3" width="27.29" height="7.65" fill="#FFFF2E"/>
<rect x="790.74" y="552.96" width="27.29" height="7.65" fill="#FFFF2E"/>
<line class="hl" x1="572.42" y1="461.1" x2="818.03" y2="461.1"/>
<line class="ll" x1="572.42" y1="468.75" x2="599.71" y2="468.75"/>
<line x1="599.71" y1="468.75" x2="818.03" y2="468.75"/>
<line class="ll" x1="572.42" y1="476.41" x2="599.71" y2="476.41"/>
<line x1="599.71" y1="476.41" x2="818.03" y2="476.41"/>
<line class="ll" x1="572.42" y1="484.06" x2="599.71" y2="484.06"/>
<line x1="599.71" y1="484.06" x2="818.03" y2="484.06"/>
<line class="ll" x1="572.42" y1="491.72" x2="599.71" y2="491.72"/>
<line x1="599.71" y1="491.72" x2="818.03" y2="491.72"/>
<line class="ll" x1="572.42" y1="499.37" x2="599.71" y2="499.37"/>
<line x1="599.71" y1="499.37" x2="818.03" y2="499.37"/>
<line class="ll" x1="572.42" y1="507.03" x2="599.71" y2="507.03"/>
<line x1="599.71" y1="507.03" x2="818.03" y2="507.03"/>
<line class="ll" x1="572.42" y1="514.68" x2="599.71" y2="514.68"/>
<line x1="599.71" y1="514.68" x2="818.03" y2="514.68"/>
<line class="ll" x1="572.42" y1="522.34" x2="599.71" y2="522.34"/>
<line x1="599.71" y1="522.34" x2="818.03" y2="522.34"/>
<line class="ll" x1="572.42" y1="529.99" x2="599.71" y2="529.99"/>
<line x1="599.71" y1="529.99" x2="818.03" y2="529.99"/>
<line class="ll" x1="572.42" y1="537.65" x2="599.71" y2="537.65"/>
<line x1="599.71" y1="537.65" x2="818.03" y2="537.65"/>
<line class="ll" x1="572.42" y1="545.3" x2="599.71" y2="545.3"/>
<line x1="599.71" y1="545.3" x2="818.03" y2="545.3"/>
<line class="ll" x1="572.42" y1="552.96" x2="599.71" y2="552.96"/>
<line x1="599.71" y1="552.96" x2="818.03" y2="552.96"/>
<line class="hl" x1="572.42" y1="560.61" x2="818.03" y2="560.61"/>
<g class="v">
<line class="hl" x1="572.42" y1="461.1" x2="572.42" y2="560.61"/>
<line x1="599.71" y1="461.1" x2="599.71" y2="560.61"/>
<line x1="627" y1="461.1" x2="627" y2="560.61"/>
<line x1="654.29" y1="461.1" x2="654.29" y2="560.61"/>
<line x1="681.58" y1="461.1" x2="681.58" y2="560.61"/>
<line x1="708.87" y1="461.1" x2="708.87" y2="560.61"/>
<line x1="736.16" y1="461.1" x2="736.16" y2="560.61"/>
<line x1="763.45" y1="461.1" x2="763.45" y2="560.61"/>
<line x1="790.74" y1="461.1" x2="790.74" y2="560.61"/>
<line class="hl" x1="818.03" y1="461.1" x2="818.03" y2="560.61"/>
</g>
<g class="h">
<line x1="572.42" y1="448" x2="818.03" y2="448"/>
<line x1="572.42" y1="448" x2="572.42" y2="461.1"/>
<line x1="599.71" y1="448" x2="599.71" y2="461.1"/>
<line x1="627" y1="448" x2="627" y2="461.1"/>
<line x1="654.29" y1="448" x2="654.29" y2="461.1"/>
<line x1="681.58" y1="448" x2="681.58" y2="461.1"/>
<line x1="708.87" y1="448" x2="708.87" y2="461.1"/>
<line x1="736.16" y1="448" x2="736.16" y2="461.1"/>
<line x1="763.45" y1="448" x2="763.45" y2="461.1"/>
<line x1="790.74" y1="448" x2="790.74" y2="461.1"/>
<line x1="818.03" y1="448" x2="818.03" y2="461.1"/>
</g>
<line class="d" x1="572.42" y1="448" x2="599.71" y2="461.1"/>
<text class="s" x="587.7" y="452.8">Unit</text>
<text class="s" x="584.7" y="458.4">Stry</text>
<text x="613.36" y="456.15">75</text>
<text x="640.64" y="456.15">76</text>
<text x="667.93" y="456.15">77</text>
<text x="695.22" y="456.15">78</text>
<text x="722.51" y="456.15">79</text>
<text x="749.8" y="456.15">80</text>
<text x="777.09" y="456.15">81</text>
<text x="804.38" y="456.15">82</text>
<text x="586.06" y="474.18">12</text>
<text x="586.06" y="481.84">11</text>
<text x="586.06" y="489.49">10</text>
<text x="586.06" y="497.15">09</text>
<text x="586.06" y="504.8">08</text>
<text x="586.06" y="512.46">07</text>
<text x="586.06" y="520.11">06</text>
<text x="586.06" y="527.77">05</text>
<text x="586.06" y="535.42">04</text>
<text x="586.06" y="543.08">03</text>
<text x="586.06" y="550.73">02</text>
<text x="586.06" y="558.39">01</text>
<text class="c h" x="613.36" y="474.28">C1-4</text>
<text class="c h" x="613.36" y="481.94">C1-4</text>
<text class="c h" x="613.36" y="489.59">C1-4</text>
<text class="c h" x="613.36" y="497.25">C1-4</text>
<text class="c h" x="613.36" y="504.9">C1-4</text>
<text class="c h" x="613.36" y="512.56">C1-4</text>
<text class="c h" x="613.36" y="520.21">C1-4</text>
<text class="c h" x="613.36" y="527.87">C1-4</text>
<text class="c h" x="613.36" y="535.52">C1-4</text>
<text class="c h" x="613.36" y="543.18">C1-4</text>
<text class="c h" x="613.36" y="550.83">C1-4</text>
<text class="c h" x="613.36" y="558.49">C1-4(P)</text>
<text class="c n" x="640.64" y="481.94">P2-4</text>
<text class="c b" x="640.64" y="489.59">D2-2</text>
<text class="c b" x="640.64" y="497.25">D2-2</text>
<text class="c b" x="640.64" y="504.9">D2-2</text>
<text class="c b" x="640.64" y="512.56">D2-2</text>
<text class="c b" x="640.64" y="520.21">D2-2</text>
<text class="c b" x="640.64" y="527.87">D2-2</text>
<text class="c b" x="640.64" y="535.52">D2-2</text>
<text class="c b" x="640.64" y="543.18">D2-2</text>
<text class="c b" x="640.64" y="550.83">D2-2</text>
<text class="c b" x="640.64" y="558.49">D2-2(P)</text>
<text class="c n" x="667.93" y="481.94">P2-1</text>
<text class="c u" x="667.93" y="489.59">E1</text>
<text class="c u" x="667.93" y="497.25">E1</text>
<text class="c u" x="667.93" y="504.9">E1</text>
<text class="c u" x="667.93" y="512.56">E1</text>
<text class="c u" x="667.93" y="520.21">E1</text>
<text class="c u" x="667.93" y="527.87">E1</text>
<text class="c u" x="667.93" y="535.52">E1</text>
<text class="c u" x="667.93" y="543.18">E1</text>
<text class="c u" x="667.93" y="550.83">E1</text>
<text class="c u" x="667.93" y="558.49">E1(P)</text>
<text class="c l" x="695.22" y="474.28">D1-2</text>
<text class="c l" x="695.22" y="481.94">D1-2</text>
<text class="c l" x="695.22" y="489.59">D1-2</text>
<text class="c l" x="695.22" y="497.25">D1-2</text>
<text class="c l" x="695.22" y="504.9">D1-2</text>
<text class="c l" x="695.22" y="512.56">D1-2</text>
<text class="c l" x="695.22" y="520.21">D1-2</text>
<text class="c l" x="695.22" y="527.87">D1-2</text>
<text class="c l" x="695.22" y="535.52">D1-2</text>
<text class="c l" x="695.22" y="543.18">D1-2</text>
<text class="c l" x="695.22" y="550.83">D1-2</text>
<text class="c l" x="695.22" y="558.49">D1-2(P)</text>
<text class="c l" x="722.51" y="474.28">D1-4</text>
<text class="c l" x="722.51" y="481.94">D1-4</text>
<text class="c l" x="722.51" y="489.59">D1-4</text>
<text class="c l" x="722.51" y="497.25">D1-4</text>
<text class="c l" x="722.51" y="504.9">D1-4</text>
<text class="c l" x="722.51" y="512.56">D1-4</text>
<text class="c l" x="722.51" y="520.21">D1-4</text>
<text class="c l" x="722.51" y="527.87">D1-4</text>
<text class="c l" x="722.51" y="535.52">D1-4</text>
<text class="c l" x="722.51" y="543.18">D1-4</text>
<text class="c l" x="722.51" y="550.83">D1-4</text>
<text class="c l" x="722.51" y="558.49">D1-4(P)</text>
<text class="c n" x="749.8" y="481.94">P2</text>
<text class="c u" x="749.8" y="489.59">E1</text>
<text class="c u" x="749.8" y="497.25">E1</text>
<text class="c u" x="749.8" y="504.9">E1</text>
<text class="c u" x="749.8" y="512.56">E1</text>
<text class="c u" x="749.8" y="520.21">E1</text>
<text class="c u" x="749.8" y="527.87">E1</text>
<text class="c u" x="749.8" y="535.52">E1</text>
<text class="c u" x="749.8" y="543.18">E1</text>
<text class="c u" x="749.8" y="550.83">E1</text>
<text class="c u" x="749.8" y="558.49">E1(P)</text>
<text class="c n" x="777.09" y="481.94">P1-2</text>
<text class="c b" x="777.09" y="489.59">D2-2</text>
<text class="c b" x="777.09" y="497.25">D2-2</text>
<text class="c b" x="777.09" y="504.9">D2-2</text>
<text class="c b" x="777.09" y="512.56">D2-2</text>
<text class="c b" x="777.09" y="520.21">D2-2</text>
<text class="c b" x="777.09" y="527.87">D2-2</text>
<text class="c b" x="777.09" y="535.52">D2-2</text>
<text class="c b" x="777.09" y="543.18">D2-2</text>
<text class="c b" x="777.09" y="550.83">D2-2</text>
<text class="c b" x="777.09" y="558.49">D2-2(P)</text>
<text class="c y" x="804.38" y="474.28">B1-3</text>
<text class="c y" x="804.38" y="481.94">B1-3</text>
<text class="c y" x="804.38" y="489.59">B1-3</text>
<text class="c y" x="804.38" y="497.25">B1-3</text>
<text class="c y" x="804.38" y="504.9">B1-3</text>
<text class="c y" x="804.38" y="512.56">B1-3</text>
<text class="c y" x="804.38" y="520.21">B1-3</text>
<text class="c y" x="804.38" y="527.87">B1-3</text>
<text class="c y" x="804.38" y="535.52">B1-3</text>
<text class="c y" x="804.38" y="543.18">B1-3</text>
<text class="c y" x="804.38" y="550.83">B1-3</text>
<text class="c y" x="804.38" y="558.49">B1-3(P)</text>
</g>
<text class="t" x="573.22" y="439.25">BLK 149</text>
<text class="t" x="82" y="574">LEGEND</text>
<text class="note" x="449.7" y="613.7">Information herein is subject to change without prior notice</text>
<rect x="81.5" y="576.6" width="26.6" height="7.3" fill="#FF96FA"/><text x="94.8" y="581.9" style="fill:#7f4b7d;stroke:#7f4b7d">A1</text><text class="lt" x="109.69" y="581.9">1 Bedroom</text>
<rect x="163.37" y="576.6" width="26.6" height="7.3" fill="#FFFF2E"/><text x="176.67" y="581.9" style="fill:#7f7f17;stroke:#7f7f17">B1/ B2</text><text class="lt" x="191.56" y="581.9">2 Bedroom</text>
<rect x="245.24" y="576.6" width="26.6" height="7.3" fill="#6AF2A8"/><text x="258.54" y="581.9" style="fill:#357954;stroke:#357954">C1/ C2</text><text class="lt" x="273.43" y="581.9">3 Bedroom Compact</text>
<rect x="354.4" y="576.6" width="26.6" height="7.3" fill="#0AA048"/><text x="367.7" y="581.9" style="fill:#055024;stroke:#055024">C3</text><text class="lt" x="382.59" y="581.9">3 Bedroom</text>
<rect x="436.27" y="576.6" width="26.6" height="7.3" fill="#9CCBFA"/><text x="449.57" y="581.9" style="fill:#4e657d;stroke:#4e657d">D1</text><text class="lt" x="464.46" y="581.9">4 Bedroom Compact</text>
<rect x="545.43" y="576.6" width="26.6" height="7.3" fill="#32BEF7"/><text x="558.73" y="581.9" style="fill:#195f7b;stroke:#195f7b">D2/ D3</text><text class="lt" x="573.62" y="581.9">4 Bedroom</text>
<rect x="627.3" y="576.6" width="26.6" height="7.3" fill="#D05CF6"/><text x="640.6" y="581.9" style="fill:#682e7b;stroke:#682e7b">E1</text><text class="lt" x="655.49" y="581.9">5 Bedroom DK</text>
<rect x="709.17" y="576.6" width="26.6" height="7.3" fill="#978442"/><text x="722.47" y="581.9" style="fill:#4b4221;stroke:#4b4221">P1/ P2</text><text class="lt" x="737.36" y="581.9">Penthouse</text>
</g>
</svg>
</body>
</html>
